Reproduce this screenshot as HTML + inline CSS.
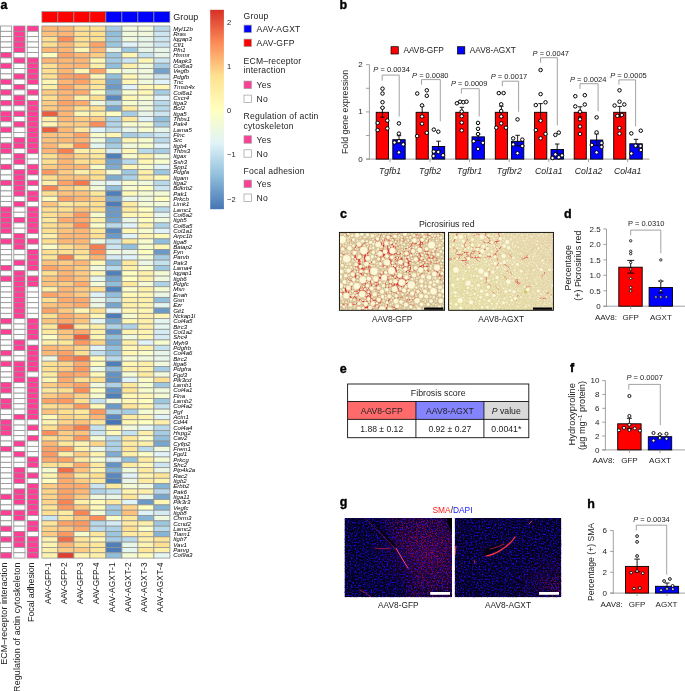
<!DOCTYPE html>
<html lang="en"><head><meta charset="utf-8"><title>Figure</title>
<style>html,body{margin:0;padding:0;background:#fff}svg{display:block}text{font-family:"Liberation Sans",Arial,Helvetica,sans-serif}</style></head>
<body>
<svg width="685" height="691" viewBox="0 0 685 691" font-family="Liberation Sans, Arial, Helvetica, sans-serif" fill="#222">
<text x="0.6" y="9.1" font-size="12.5" font-weight="bold" fill="#000" stroke="#000" stroke-width="0.35">a</text>
<rect x="41.9" y="11.6" width="16" height="10.7" fill="#FF0000" stroke="#929292" stroke-width="0.7"/>
<rect x="57.9" y="11.6" width="16" height="10.7" fill="#FF0000" stroke="#929292" stroke-width="0.7"/>
<rect x="73.9" y="11.6" width="16" height="10.7" fill="#FF0000" stroke="#929292" stroke-width="0.7"/>
<rect x="89.9" y="11.6" width="16" height="10.7" fill="#FF0000" stroke="#929292" stroke-width="0.7"/>
<rect x="105.9" y="11.6" width="16" height="10.7" fill="#0000FF" stroke="#929292" stroke-width="0.7"/>
<rect x="121.9" y="11.6" width="16" height="10.7" fill="#0000FF" stroke="#929292" stroke-width="0.7"/>
<rect x="137.9" y="11.6" width="16" height="10.7" fill="#0000FF" stroke="#929292" stroke-width="0.7"/>
<rect x="153.9" y="11.6" width="16" height="10.7" fill="#0000FF" stroke="#929292" stroke-width="0.7"/>
<text x="173.2" y="20.2" font-size="9" fill="#222">Group</text>
<g stroke="#929292" stroke-width="0.8">
<rect x="0.5" y="26" width="11.2" height="5.32" fill="#FFFFFF"/>
<rect x="13.8" y="26" width="11.2" height="5.32" fill="#FF3E96"/>
<rect x="27.2" y="26" width="11.2" height="5.32" fill="#FF3E96"/>
<rect x="41.9" y="26" width="16" height="5.32" fill="#fdb674"/>
<rect x="57.9" y="26" width="16" height="5.32" fill="#fdb674"/>
<rect x="73.9" y="26" width="16" height="5.32" fill="#fee090"/>
<rect x="89.9" y="26" width="16" height="5.32" fill="#fee090"/>
<rect x="105.9" y="26" width="16" height="5.32" fill="#a5cce2"/>
<rect x="121.9" y="26" width="16" height="5.32" fill="#f0f9dc"/>
<rect x="137.9" y="26" width="16" height="5.32" fill="#f0f9dc"/>
<rect x="153.9" y="26" width="16" height="5.32" fill="#b8d9ea"/>
<rect x="0.5" y="31.32" width="11.2" height="5.32" fill="#FFFFFF"/>
<rect x="13.8" y="31.32" width="11.2" height="5.32" fill="#FF3E96"/>
<rect x="27.2" y="31.32" width="11.2" height="5.32" fill="#FFFFFF"/>
<rect x="41.9" y="31.32" width="16" height="5.32" fill="#fdc37d"/>
<rect x="57.9" y="31.32" width="16" height="5.32" fill="#fdb674"/>
<rect x="73.9" y="31.32" width="16" height="5.32" fill="#fee090"/>
<rect x="89.9" y="31.32" width="16" height="5.32" fill="#fee090"/>
<rect x="105.9" y="31.32" width="16" height="5.32" fill="#91bfdb"/>
<rect x="121.9" y="31.32" width="16" height="5.32" fill="#f0f9dc"/>
<rect x="137.9" y="31.32" width="16" height="5.32" fill="#f0f9dc"/>
<rect x="153.9" y="31.32" width="16" height="5.32" fill="#cce6f1"/>
<rect x="0.5" y="36.64" width="11.2" height="5.32" fill="#FFFFFF"/>
<rect x="13.8" y="36.64" width="11.2" height="5.32" fill="#FF3E96"/>
<rect x="27.2" y="36.64" width="11.2" height="5.32" fill="#FFFFFF"/>
<rect x="41.9" y="36.64" width="16" height="5.32" fill="#fee090"/>
<rect x="57.9" y="36.64" width="16" height="5.32" fill="#fc8d59"/>
<rect x="73.9" y="36.64" width="16" height="5.32" fill="#fee090"/>
<rect x="89.9" y="36.64" width="16" height="5.32" fill="#fee090"/>
<rect x="105.9" y="36.64" width="16" height="5.32" fill="#9dc7df"/>
<rect x="121.9" y="36.64" width="16" height="5.32" fill="#f0f9dc"/>
<rect x="137.9" y="36.64" width="16" height="5.32" fill="#e8f6ea"/>
<rect x="153.9" y="36.64" width="16" height="5.32" fill="#cce6f1"/>
<rect x="0.5" y="41.96" width="11.2" height="5.32" fill="#FFFFFF"/>
<rect x="13.8" y="41.96" width="11.2" height="5.32" fill="#FF3E96"/>
<rect x="27.2" y="41.96" width="11.2" height="5.32" fill="#FFFFFF"/>
<rect x="41.9" y="41.96" width="16" height="5.32" fill="#fee090"/>
<rect x="57.9" y="41.96" width="16" height="5.32" fill="#fdb674"/>
<rect x="73.9" y="41.96" width="16" height="5.32" fill="#fee090"/>
<rect x="89.9" y="41.96" width="16" height="5.32" fill="#fca267"/>
<rect x="105.9" y="41.96" width="16" height="5.32" fill="#9dc7df"/>
<rect x="121.9" y="41.96" width="16" height="5.32" fill="#e0f3f8"/>
<rect x="137.9" y="41.96" width="16" height="5.32" fill="#e8f6ea"/>
<rect x="153.9" y="41.96" width="16" height="5.32" fill="#cce6f1"/>
<rect x="0.5" y="47.28" width="11.2" height="5.32" fill="#FFFFFF"/>
<rect x="13.8" y="47.28" width="11.2" height="5.32" fill="#FF3E96"/>
<rect x="27.2" y="47.28" width="11.2" height="5.32" fill="#FFFFFF"/>
<rect x="41.9" y="47.28" width="16" height="5.32" fill="#fdb674"/>
<rect x="57.9" y="47.28" width="16" height="5.32" fill="#fdb674"/>
<rect x="73.9" y="47.28" width="16" height="5.32" fill="#fff7b3"/>
<rect x="89.9" y="47.28" width="16" height="5.32" fill="#fdb674"/>
<rect x="105.9" y="47.28" width="16" height="5.32" fill="#e8f6ea"/>
<rect x="121.9" y="47.28" width="16" height="5.32" fill="#9dc7df"/>
<rect x="137.9" y="47.28" width="16" height="5.32" fill="#e8f6ea"/>
<rect x="153.9" y="47.28" width="16" height="5.32" fill="#e8f6ea"/>
<rect x="0.5" y="52.6" width="11.2" height="5.32" fill="#FF3E96"/>
<rect x="13.8" y="52.6" width="11.2" height="5.32" fill="#FFFFFF"/>
<rect x="27.2" y="52.6" width="11.2" height="5.32" fill="#FFFFFF"/>
<rect x="41.9" y="52.6" width="16" height="5.32" fill="#ffffbf"/>
<rect x="57.9" y="52.6" width="16" height="5.32" fill="#fca267"/>
<rect x="73.9" y="52.6" width="16" height="5.32" fill="#fdb674"/>
<rect x="89.9" y="52.6" width="16" height="5.32" fill="#fecb82"/>
<rect x="105.9" y="52.6" width="16" height="5.32" fill="#9dc7df"/>
<rect x="121.9" y="52.6" width="16" height="5.32" fill="#fff7b3"/>
<rect x="137.9" y="52.6" width="16" height="5.32" fill="#c4e1ee"/>
<rect x="153.9" y="52.6" width="16" height="5.32" fill="#e8f6ea"/>
<rect x="0.5" y="57.93" width="11.2" height="5.32" fill="#FFFFFF"/>
<rect x="13.8" y="57.93" width="11.2" height="5.32" fill="#FF3E96"/>
<rect x="27.2" y="57.93" width="11.2" height="5.32" fill="#FF3E96"/>
<rect x="41.9" y="57.93" width="16" height="5.32" fill="#fdb674"/>
<rect x="57.9" y="57.93" width="16" height="5.32" fill="#fdb674"/>
<rect x="73.9" y="57.93" width="16" height="5.32" fill="#fdb674"/>
<rect x="89.9" y="57.93" width="16" height="5.32" fill="#fff7b3"/>
<rect x="105.9" y="57.93" width="16" height="5.32" fill="#a5cce2"/>
<rect x="121.9" y="57.93" width="16" height="5.32" fill="#cce6f1"/>
<rect x="137.9" y="57.93" width="16" height="5.32" fill="#fff7b3"/>
<rect x="153.9" y="57.93" width="16" height="5.32" fill="#cce6f1"/>
<rect x="0.5" y="63.25" width="11.2" height="5.32" fill="#FF3E96"/>
<rect x="13.8" y="63.25" width="11.2" height="5.32" fill="#FFFFFF"/>
<rect x="27.2" y="63.25" width="11.2" height="5.32" fill="#FF3E96"/>
<rect x="41.9" y="63.25" width="16" height="5.32" fill="#fee090"/>
<rect x="57.9" y="63.25" width="16" height="5.32" fill="#fdb674"/>
<rect x="73.9" y="63.25" width="16" height="5.32" fill="#fdb674"/>
<rect x="89.9" y="63.25" width="16" height="5.32" fill="#fef0a8"/>
<rect x="105.9" y="63.25" width="16" height="5.32" fill="#91bfdb"/>
<rect x="121.9" y="63.25" width="16" height="5.32" fill="#fef0a8"/>
<rect x="137.9" y="63.25" width="16" height="5.32" fill="#f0f9dc"/>
<rect x="153.9" y="63.25" width="16" height="5.32" fill="#a5cce2"/>
<rect x="0.5" y="68.57" width="11.2" height="5.32" fill="#FFFFFF"/>
<rect x="13.8" y="68.57" width="11.2" height="5.32" fill="#FFFFFF"/>
<rect x="27.2" y="68.57" width="11.2" height="5.32" fill="#FF3E96"/>
<rect x="41.9" y="68.57" width="16" height="5.32" fill="#fee090"/>
<rect x="57.9" y="68.57" width="16" height="5.32" fill="#fdb674"/>
<rect x="73.9" y="68.57" width="16" height="5.32" fill="#fff7b3"/>
<rect x="89.9" y="68.57" width="16" height="5.32" fill="#fca267"/>
<rect x="105.9" y="68.57" width="16" height="5.32" fill="#f7fccd"/>
<rect x="121.9" y="68.57" width="16" height="5.32" fill="#f0f9dc"/>
<rect x="137.9" y="68.57" width="16" height="5.32" fill="#f0f9dc"/>
<rect x="153.9" y="68.57" width="16" height="5.32" fill="#73a1cb"/>
<rect x="0.5" y="73.89" width="11.2" height="5.32" fill="#FFFFFF"/>
<rect x="13.8" y="73.89" width="11.2" height="5.32" fill="#FF3E96"/>
<rect x="27.2" y="73.89" width="11.2" height="5.32" fill="#FF3E96"/>
<rect x="41.9" y="73.89" width="16" height="5.32" fill="#fee090"/>
<rect x="57.9" y="73.89" width="16" height="5.32" fill="#fca267"/>
<rect x="73.9" y="73.89" width="16" height="5.32" fill="#fc9961"/>
<rect x="89.9" y="73.89" width="16" height="5.32" fill="#fff7b3"/>
<rect x="105.9" y="73.89" width="16" height="5.32" fill="#91bfdb"/>
<rect x="121.9" y="73.89" width="16" height="5.32" fill="#fff7b3"/>
<rect x="137.9" y="73.89" width="16" height="5.32" fill="#f0f9dc"/>
<rect x="153.9" y="73.89" width="16" height="5.32" fill="#cce6f1"/>
<rect x="0.5" y="79.21" width="11.2" height="5.32" fill="#FF3E96"/>
<rect x="13.8" y="79.21" width="11.2" height="5.32" fill="#FFFFFF"/>
<rect x="27.2" y="79.21" width="11.2" height="5.32" fill="#FF3E96"/>
<rect x="41.9" y="79.21" width="16" height="5.32" fill="#fff7b3"/>
<rect x="57.9" y="79.21" width="16" height="5.32" fill="#fdb674"/>
<rect x="73.9" y="79.21" width="16" height="5.32" fill="#fca267"/>
<rect x="89.9" y="79.21" width="16" height="5.32" fill="#fee090"/>
<rect x="105.9" y="79.21" width="16" height="5.32" fill="#76a5cd"/>
<rect x="121.9" y="79.21" width="16" height="5.32" fill="#fff7b3"/>
<rect x="137.9" y="79.21" width="16" height="5.32" fill="#f0f9dc"/>
<rect x="153.9" y="79.21" width="16" height="5.32" fill="#e0f3f8"/>
<rect x="0.5" y="84.53" width="11.2" height="5.32" fill="#FFFFFF"/>
<rect x="13.8" y="84.53" width="11.2" height="5.32" fill="#FF3E96"/>
<rect x="27.2" y="84.53" width="11.2" height="5.32" fill="#FFFFFF"/>
<rect x="41.9" y="84.53" width="16" height="5.32" fill="#fef0a8"/>
<rect x="57.9" y="84.53" width="16" height="5.32" fill="#fca267"/>
<rect x="73.9" y="84.53" width="16" height="5.32" fill="#fecb82"/>
<rect x="89.9" y="84.53" width="16" height="5.32" fill="#fee89c"/>
<rect x="105.9" y="84.53" width="16" height="5.32" fill="#6b9ac8"/>
<rect x="121.9" y="84.53" width="16" height="5.32" fill="#e0f3f8"/>
<rect x="137.9" y="84.53" width="16" height="5.32" fill="#fff7b3"/>
<rect x="153.9" y="84.53" width="16" height="5.32" fill="#fff7b3"/>
<rect x="0.5" y="89.85" width="11.2" height="5.32" fill="#FF3E96"/>
<rect x="13.8" y="89.85" width="11.2" height="5.32" fill="#FFFFFF"/>
<rect x="27.2" y="89.85" width="11.2" height="5.32" fill="#FF3E96"/>
<rect x="41.9" y="89.85" width="16" height="5.32" fill="#fecb82"/>
<rect x="57.9" y="89.85" width="16" height="5.32" fill="#fdb674"/>
<rect x="73.9" y="89.85" width="16" height="5.32" fill="#fdaa6c"/>
<rect x="89.9" y="89.85" width="16" height="5.32" fill="#ffffbf"/>
<rect x="105.9" y="89.85" width="16" height="5.32" fill="#91bfdb"/>
<rect x="121.9" y="89.85" width="16" height="5.32" fill="#f7fccd"/>
<rect x="137.9" y="89.85" width="16" height="5.32" fill="#fff7b3"/>
<rect x="153.9" y="89.85" width="16" height="5.32" fill="#a5cce2"/>
<rect x="0.5" y="95.17" width="11.2" height="5.32" fill="#FFFFFF"/>
<rect x="13.8" y="95.17" width="11.2" height="5.32" fill="#FF3E96"/>
<rect x="27.2" y="95.17" width="11.2" height="5.32" fill="#FFFFFF"/>
<rect x="41.9" y="95.17" width="16" height="5.32" fill="#fee090"/>
<rect x="57.9" y="95.17" width="16" height="5.32" fill="#fdb674"/>
<rect x="73.9" y="95.17" width="16" height="5.32" fill="#fef0a8"/>
<rect x="89.9" y="95.17" width="16" height="5.32" fill="#fee090"/>
<rect x="105.9" y="95.17" width="16" height="5.32" fill="#5888be"/>
<rect x="121.9" y="95.17" width="16" height="5.32" fill="#fff7b3"/>
<rect x="137.9" y="95.17" width="16" height="5.32" fill="#f7fccd"/>
<rect x="153.9" y="95.17" width="16" height="5.32" fill="#e0f3f8"/>
<rect x="0.5" y="100.49" width="11.2" height="5.32" fill="#FF3E96"/>
<rect x="13.8" y="100.49" width="11.2" height="5.32" fill="#FF3E96"/>
<rect x="27.2" y="100.49" width="11.2" height="5.32" fill="#FF3E96"/>
<rect x="41.9" y="100.49" width="16" height="5.32" fill="#fecb82"/>
<rect x="57.9" y="100.49" width="16" height="5.32" fill="#fca267"/>
<rect x="73.9" y="100.49" width="16" height="5.32" fill="#fdaa6c"/>
<rect x="89.9" y="100.49" width="16" height="5.32" fill="#f0f9dc"/>
<rect x="105.9" y="100.49" width="16" height="5.32" fill="#b1d4e7"/>
<rect x="121.9" y="100.49" width="16" height="5.32" fill="#f7fccd"/>
<rect x="137.9" y="100.49" width="16" height="5.32" fill="#f0f9dc"/>
<rect x="153.9" y="100.49" width="16" height="5.32" fill="#b8d9ea"/>
<rect x="0.5" y="105.81" width="11.2" height="5.32" fill="#FFFFFF"/>
<rect x="13.8" y="105.81" width="11.2" height="5.32" fill="#FFFFFF"/>
<rect x="27.2" y="105.81" width="11.2" height="5.32" fill="#FF3E96"/>
<rect x="41.9" y="105.81" width="16" height="5.32" fill="#fecb82"/>
<rect x="57.9" y="105.81" width="16" height="5.32" fill="#fdb674"/>
<rect x="73.9" y="105.81" width="16" height="5.32" fill="#fee090"/>
<rect x="89.9" y="105.81" width="16" height="5.32" fill="#fee090"/>
<rect x="105.9" y="105.81" width="16" height="5.32" fill="#76a5cd"/>
<rect x="121.9" y="105.81" width="16" height="5.32" fill="#feeba0"/>
<rect x="137.9" y="105.81" width="16" height="5.32" fill="#f0f9dc"/>
<rect x="153.9" y="105.81" width="16" height="5.32" fill="#b8d9ea"/>
<rect x="0.5" y="111.14" width="11.2" height="5.32" fill="#FF3E96"/>
<rect x="13.8" y="111.14" width="11.2" height="5.32" fill="#FF3E96"/>
<rect x="27.2" y="111.14" width="11.2" height="5.32" fill="#FF3E96"/>
<rect x="41.9" y="111.14" width="16" height="5.32" fill="#ea5e40"/>
<rect x="57.9" y="111.14" width="16" height="5.32" fill="#fdb674"/>
<rect x="73.9" y="111.14" width="16" height="5.32" fill="#fff7b3"/>
<rect x="89.9" y="111.14" width="16" height="5.32" fill="#fef0a8"/>
<rect x="105.9" y="111.14" width="16" height="5.32" fill="#ffffbf"/>
<rect x="121.9" y="111.14" width="16" height="5.32" fill="#a5cce2"/>
<rect x="137.9" y="111.14" width="16" height="5.32" fill="#e8f6ea"/>
<rect x="153.9" y="111.14" width="16" height="5.32" fill="#cce6f1"/>
<rect x="0.5" y="116.46" width="11.2" height="5.32" fill="#FF3E96"/>
<rect x="13.8" y="116.46" width="11.2" height="5.32" fill="#FFFFFF"/>
<rect x="27.2" y="116.46" width="11.2" height="5.32" fill="#FF3E96"/>
<rect x="41.9" y="116.46" width="16" height="5.32" fill="#fef0a8"/>
<rect x="57.9" y="116.46" width="16" height="5.32" fill="#fdb674"/>
<rect x="73.9" y="116.46" width="16" height="5.32" fill="#fecb82"/>
<rect x="89.9" y="116.46" width="16" height="5.32" fill="#fecb82"/>
<rect x="105.9" y="116.46" width="16" height="5.32" fill="#add1e5"/>
<rect x="121.9" y="116.46" width="16" height="5.32" fill="#fee89c"/>
<rect x="137.9" y="116.46" width="16" height="5.32" fill="#e0f3f8"/>
<rect x="153.9" y="116.46" width="16" height="5.32" fill="#91bfdb"/>
<rect x="0.5" y="121.78" width="11.2" height="5.32" fill="#FFFFFF"/>
<rect x="13.8" y="121.78" width="11.2" height="5.32" fill="#FF3E96"/>
<rect x="27.2" y="121.78" width="11.2" height="5.32" fill="#FF3E96"/>
<rect x="41.9" y="121.78" width="16" height="5.32" fill="#fff7b3"/>
<rect x="57.9" y="121.78" width="16" height="5.32" fill="#fecb82"/>
<rect x="73.9" y="121.78" width="16" height="5.32" fill="#fecb82"/>
<rect x="89.9" y="121.78" width="16" height="5.32" fill="#fc8d59"/>
<rect x="105.9" y="121.78" width="16" height="5.32" fill="#b1d4e7"/>
<rect x="121.9" y="121.78" width="16" height="5.32" fill="#f7fccd"/>
<rect x="137.9" y="121.78" width="16" height="5.32" fill="#f7fccd"/>
<rect x="153.9" y="121.78" width="16" height="5.32" fill="#a5cce2"/>
<rect x="0.5" y="127.1" width="11.2" height="5.32" fill="#FF3E96"/>
<rect x="13.8" y="127.1" width="11.2" height="5.32" fill="#FFFFFF"/>
<rect x="27.2" y="127.1" width="11.2" height="5.32" fill="#FF3E96"/>
<rect x="41.9" y="127.1" width="16" height="5.32" fill="#ea5e40"/>
<rect x="57.9" y="127.1" width="16" height="5.32" fill="#fdb674"/>
<rect x="73.9" y="127.1" width="16" height="5.32" fill="#fee89c"/>
<rect x="89.9" y="127.1" width="16" height="5.32" fill="#e0f3f8"/>
<rect x="105.9" y="127.1" width="16" height="5.32" fill="#c0deec"/>
<rect x="121.9" y="127.1" width="16" height="5.32" fill="#e8f6ea"/>
<rect x="137.9" y="127.1" width="16" height="5.32" fill="#f7fccd"/>
<rect x="153.9" y="127.1" width="16" height="5.32" fill="#e8f6ea"/>
<rect x="0.5" y="132.42" width="11.2" height="5.32" fill="#FFFFFF"/>
<rect x="13.8" y="132.42" width="11.2" height="5.32" fill="#FFFFFF"/>
<rect x="27.2" y="132.42" width="11.2" height="5.32" fill="#FF3E96"/>
<rect x="41.9" y="132.42" width="16" height="5.32" fill="#fdc37d"/>
<rect x="57.9" y="132.42" width="16" height="5.32" fill="#fdc37d"/>
<rect x="73.9" y="132.42" width="16" height="5.32" fill="#fca267"/>
<rect x="89.9" y="132.42" width="16" height="5.32" fill="#f7fccd"/>
<rect x="105.9" y="132.42" width="16" height="5.32" fill="#fff7b3"/>
<rect x="121.9" y="132.42" width="16" height="5.32" fill="#a5cce2"/>
<rect x="137.9" y="132.42" width="16" height="5.32" fill="#b8d9ea"/>
<rect x="153.9" y="132.42" width="16" height="5.32" fill="#cce6f1"/>
<rect x="0.5" y="137.74" width="11.2" height="5.32" fill="#FFFFFF"/>
<rect x="13.8" y="137.74" width="11.2" height="5.32" fill="#FF3E96"/>
<rect x="27.2" y="137.74" width="11.2" height="5.32" fill="#FF3E96"/>
<rect x="41.9" y="137.74" width="16" height="5.32" fill="#fdc37d"/>
<rect x="57.9" y="137.74" width="16" height="5.32" fill="#fdb674"/>
<rect x="73.9" y="137.74" width="16" height="5.32" fill="#fdb674"/>
<rect x="89.9" y="137.74" width="16" height="5.32" fill="#f0f9dc"/>
<rect x="105.9" y="137.74" width="16" height="5.32" fill="#91bfdb"/>
<rect x="121.9" y="137.74" width="16" height="5.32" fill="#fff7b3"/>
<rect x="137.9" y="137.74" width="16" height="5.32" fill="#f7fccd"/>
<rect x="153.9" y="137.74" width="16" height="5.32" fill="#b8d9ea"/>
<rect x="0.5" y="143.06" width="11.2" height="5.32" fill="#FF3E96"/>
<rect x="13.8" y="143.06" width="11.2" height="5.32" fill="#FF3E96"/>
<rect x="27.2" y="143.06" width="11.2" height="5.32" fill="#FF3E96"/>
<rect x="41.9" y="143.06" width="16" height="5.32" fill="#fdb674"/>
<rect x="57.9" y="143.06" width="16" height="5.32" fill="#fee090"/>
<rect x="73.9" y="143.06" width="16" height="5.32" fill="#fc8d59"/>
<rect x="89.9" y="143.06" width="16" height="5.32" fill="#e5f5ef"/>
<rect x="105.9" y="143.06" width="16" height="5.32" fill="#a5cce2"/>
<rect x="121.9" y="143.06" width="16" height="5.32" fill="#f0f9dc"/>
<rect x="137.9" y="143.06" width="16" height="5.32" fill="#f7fccd"/>
<rect x="153.9" y="143.06" width="16" height="5.32" fill="#e0f3f8"/>
<rect x="0.5" y="148.38" width="11.2" height="5.32" fill="#FF3E96"/>
<rect x="13.8" y="148.38" width="11.2" height="5.32" fill="#FFFFFF"/>
<rect x="27.2" y="148.38" width="11.2" height="5.32" fill="#FF3E96"/>
<rect x="41.9" y="148.38" width="16" height="5.32" fill="#fdb674"/>
<rect x="57.9" y="148.38" width="16" height="5.32" fill="#f67f51"/>
<rect x="73.9" y="148.38" width="16" height="5.32" fill="#fef0a8"/>
<rect x="89.9" y="148.38" width="16" height="5.32" fill="#fef0a8"/>
<rect x="105.9" y="148.38" width="16" height="5.32" fill="#d4ebf4"/>
<rect x="121.9" y="148.38" width="16" height="5.32" fill="#fff7b3"/>
<rect x="137.9" y="148.38" width="16" height="5.32" fill="#b8d9ea"/>
<rect x="153.9" y="148.38" width="16" height="5.32" fill="#a5cce2"/>
<rect x="0.5" y="153.7" width="11.2" height="5.32" fill="#FFFFFF"/>
<rect x="13.8" y="153.7" width="11.2" height="5.32" fill="#FF3E96"/>
<rect x="27.2" y="153.7" width="11.2" height="5.32" fill="#FFFFFF"/>
<rect x="41.9" y="153.7" width="16" height="5.32" fill="#fee090"/>
<rect x="57.9" y="153.7" width="16" height="5.32" fill="#fdb674"/>
<rect x="73.9" y="153.7" width="16" height="5.32" fill="#fed488"/>
<rect x="89.9" y="153.7" width="16" height="5.32" fill="#fee89c"/>
<rect x="105.9" y="153.7" width="16" height="5.32" fill="#5080ba"/>
<rect x="121.9" y="153.7" width="16" height="5.32" fill="#f7fccd"/>
<rect x="137.9" y="153.7" width="16" height="5.32" fill="#fef0a8"/>
<rect x="153.9" y="153.7" width="16" height="5.32" fill="#f0f9dc"/>
<rect x="0.5" y="159.03" width="11.2" height="5.32" fill="#FFFFFF"/>
<rect x="13.8" y="159.03" width="11.2" height="5.32" fill="#FF3E96"/>
<rect x="27.2" y="159.03" width="11.2" height="5.32" fill="#FFFFFF"/>
<rect x="41.9" y="159.03" width="16" height="5.32" fill="#fee090"/>
<rect x="57.9" y="159.03" width="16" height="5.32" fill="#fdb674"/>
<rect x="73.9" y="159.03" width="16" height="5.32" fill="#fee090"/>
<rect x="89.9" y="159.03" width="16" height="5.32" fill="#fee090"/>
<rect x="105.9" y="159.03" width="16" height="5.32" fill="#76a5cd"/>
<rect x="121.9" y="159.03" width="16" height="5.32" fill="#b8d9ea"/>
<rect x="137.9" y="159.03" width="16" height="5.32" fill="#fff7b3"/>
<rect x="153.9" y="159.03" width="16" height="5.32" fill="#f7fccd"/>
<rect x="0.5" y="164.35" width="11.2" height="5.32" fill="#FF3E96"/>
<rect x="13.8" y="164.35" width="11.2" height="5.32" fill="#FFFFFF"/>
<rect x="27.2" y="164.35" width="11.2" height="5.32" fill="#FF3E96"/>
<rect x="41.9" y="164.35" width="16" height="5.32" fill="#fecb82"/>
<rect x="57.9" y="164.35" width="16" height="5.32" fill="#fdb674"/>
<rect x="73.9" y="164.35" width="16" height="5.32" fill="#fdb674"/>
<rect x="89.9" y="164.35" width="16" height="5.32" fill="#fafdc8"/>
<rect x="105.9" y="164.35" width="16" height="5.32" fill="#7eacd1"/>
<rect x="121.9" y="164.35" width="16" height="5.32" fill="#fff7b3"/>
<rect x="137.9" y="164.35" width="16" height="5.32" fill="#f7fccd"/>
<rect x="153.9" y="164.35" width="16" height="5.32" fill="#e0f3f8"/>
<rect x="0.5" y="169.67" width="11.2" height="5.32" fill="#FFFFFF"/>
<rect x="13.8" y="169.67" width="11.2" height="5.32" fill="#FF3E96"/>
<rect x="27.2" y="169.67" width="11.2" height="5.32" fill="#FF3E96"/>
<rect x="41.9" y="169.67" width="16" height="5.32" fill="#fc9961"/>
<rect x="57.9" y="169.67" width="16" height="5.32" fill="#fecb82"/>
<rect x="73.9" y="169.67" width="16" height="5.32" fill="#fef0a8"/>
<rect x="89.9" y="169.67" width="16" height="5.32" fill="#fee090"/>
<rect x="105.9" y="169.67" width="16" height="5.32" fill="#f4fbd3"/>
<rect x="121.9" y="169.67" width="16" height="5.32" fill="#9dc7df"/>
<rect x="137.9" y="169.67" width="16" height="5.32" fill="#fef0a8"/>
<rect x="153.9" y="169.67" width="16" height="5.32" fill="#9dc7df"/>
<rect x="0.5" y="174.99" width="11.2" height="5.32" fill="#FFFFFF"/>
<rect x="13.8" y="174.99" width="11.2" height="5.32" fill="#FF3E96"/>
<rect x="27.2" y="174.99" width="11.2" height="5.32" fill="#FFFFFF"/>
<rect x="41.9" y="174.99" width="16" height="5.32" fill="#fee090"/>
<rect x="57.9" y="174.99" width="16" height="5.32" fill="#fdc37d"/>
<rect x="73.9" y="174.99" width="16" height="5.32" fill="#fdc37d"/>
<rect x="89.9" y="174.99" width="16" height="5.32" fill="#fee090"/>
<rect x="105.9" y="174.99" width="16" height="5.32" fill="#7eacd1"/>
<rect x="121.9" y="174.99" width="16" height="5.32" fill="#add1e5"/>
<rect x="137.9" y="174.99" width="16" height="5.32" fill="#fef0a8"/>
<rect x="153.9" y="174.99" width="16" height="5.32" fill="#fffab8"/>
<rect x="0.5" y="180.31" width="11.2" height="5.32" fill="#FF3E96"/>
<rect x="13.8" y="180.31" width="11.2" height="5.32" fill="#FF3E96"/>
<rect x="27.2" y="180.31" width="11.2" height="5.32" fill="#FF3E96"/>
<rect x="41.9" y="180.31" width="16" height="5.32" fill="#fef0a8"/>
<rect x="57.9" y="180.31" width="16" height="5.32" fill="#fca267"/>
<rect x="73.9" y="180.31" width="16" height="5.32" fill="#f3764c"/>
<rect x="89.9" y="180.31" width="16" height="5.32" fill="#ebf7e4"/>
<rect x="105.9" y="180.31" width="16" height="5.32" fill="#e0f3f8"/>
<rect x="121.9" y="180.31" width="16" height="5.32" fill="#f7fccd"/>
<rect x="137.9" y="180.31" width="16" height="5.32" fill="#f0f9dc"/>
<rect x="153.9" y="180.31" width="16" height="5.32" fill="#b8d9ea"/>
<rect x="0.5" y="185.63" width="11.2" height="5.32" fill="#FFFFFF"/>
<rect x="13.8" y="185.63" width="11.2" height="5.32" fill="#FF3E96"/>
<rect x="27.2" y="185.63" width="11.2" height="5.32" fill="#FFFFFF"/>
<rect x="41.9" y="185.63" width="16" height="5.32" fill="#f88454"/>
<rect x="57.9" y="185.63" width="16" height="5.32" fill="#fecb82"/>
<rect x="73.9" y="185.63" width="16" height="5.32" fill="#fee090"/>
<rect x="89.9" y="185.63" width="16" height="5.32" fill="#f3fad6"/>
<rect x="105.9" y="185.63" width="16" height="5.32" fill="#91bfdb"/>
<rect x="121.9" y="185.63" width="16" height="5.32" fill="#f7fccd"/>
<rect x="137.9" y="185.63" width="16" height="5.32" fill="#ffffbf"/>
<rect x="153.9" y="185.63" width="16" height="5.32" fill="#cce6f1"/>
<rect x="0.5" y="190.95" width="11.2" height="5.32" fill="#FFFFFF"/>
<rect x="13.8" y="190.95" width="11.2" height="5.32" fill="#FF3E96"/>
<rect x="27.2" y="190.95" width="11.2" height="5.32" fill="#FF3E96"/>
<rect x="41.9" y="190.95" width="16" height="5.32" fill="#fee090"/>
<rect x="57.9" y="190.95" width="16" height="5.32" fill="#fdc37d"/>
<rect x="73.9" y="190.95" width="16" height="5.32" fill="#fdc37d"/>
<rect x="89.9" y="190.95" width="16" height="5.32" fill="#fee89c"/>
<rect x="105.9" y="190.95" width="16" height="5.32" fill="#5080ba"/>
<rect x="121.9" y="190.95" width="16" height="5.32" fill="#fffab8"/>
<rect x="137.9" y="190.95" width="16" height="5.32" fill="#f4fbd3"/>
<rect x="153.9" y="190.95" width="16" height="5.32" fill="#f4fbd3"/>
<rect x="0.5" y="196.27" width="11.2" height="5.32" fill="#FFFFFF"/>
<rect x="13.8" y="196.27" width="11.2" height="5.32" fill="#FFFFFF"/>
<rect x="27.2" y="196.27" width="11.2" height="5.32" fill="#FF3E96"/>
<rect x="41.9" y="196.27" width="16" height="5.32" fill="#fffab8"/>
<rect x="57.9" y="196.27" width="16" height="5.32" fill="#fca267"/>
<rect x="73.9" y="196.27" width="16" height="5.32" fill="#fdb674"/>
<rect x="89.9" y="196.27" width="16" height="5.32" fill="#fed488"/>
<rect x="105.9" y="196.27" width="16" height="5.32" fill="#76a5cd"/>
<rect x="121.9" y="196.27" width="16" height="5.32" fill="#e8f6ea"/>
<rect x="137.9" y="196.27" width="16" height="5.32" fill="#f0f9dc"/>
<rect x="153.9" y="196.27" width="16" height="5.32" fill="#ffffbf"/>
<rect x="0.5" y="201.59" width="11.2" height="5.32" fill="#FFFFFF"/>
<rect x="13.8" y="201.59" width="11.2" height="5.32" fill="#FF3E96"/>
<rect x="27.2" y="201.59" width="11.2" height="5.32" fill="#FFFFFF"/>
<rect x="41.9" y="201.59" width="16" height="5.32" fill="#fdc37d"/>
<rect x="57.9" y="201.59" width="16" height="5.32" fill="#fee89c"/>
<rect x="73.9" y="201.59" width="16" height="5.32" fill="#fee090"/>
<rect x="89.9" y="201.59" width="16" height="5.32" fill="#fee090"/>
<rect x="105.9" y="201.59" width="16" height="5.32" fill="#4d7cb8"/>
<rect x="121.9" y="201.59" width="16" height="5.32" fill="#feeba0"/>
<rect x="137.9" y="201.59" width="16" height="5.32" fill="#f4fbd3"/>
<rect x="153.9" y="201.59" width="16" height="5.32" fill="#f0f9dc"/>
<rect x="0.5" y="206.91" width="11.2" height="5.32" fill="#FF3E96"/>
<rect x="13.8" y="206.91" width="11.2" height="5.32" fill="#FFFFFF"/>
<rect x="27.2" y="206.91" width="11.2" height="5.32" fill="#FF3E96"/>
<rect x="41.9" y="206.91" width="16" height="5.32" fill="#fee090"/>
<rect x="57.9" y="206.91" width="16" height="5.32" fill="#fee090"/>
<rect x="73.9" y="206.91" width="16" height="5.32" fill="#fdc37d"/>
<rect x="89.9" y="206.91" width="16" height="5.32" fill="#fee090"/>
<rect x="105.9" y="206.91" width="16" height="5.32" fill="#6b9ac8"/>
<rect x="121.9" y="206.91" width="16" height="5.32" fill="#feeba0"/>
<rect x="137.9" y="206.91" width="16" height="5.32" fill="#ffffbf"/>
<rect x="153.9" y="206.91" width="16" height="5.32" fill="#b8d9ea"/>
<rect x="0.5" y="212.23" width="11.2" height="5.32" fill="#FF3E96"/>
<rect x="13.8" y="212.23" width="11.2" height="5.32" fill="#FFFFFF"/>
<rect x="27.2" y="212.23" width="11.2" height="5.32" fill="#FF3E96"/>
<rect x="41.9" y="212.23" width="16" height="5.32" fill="#fee090"/>
<rect x="57.9" y="212.23" width="16" height="5.32" fill="#fecb82"/>
<rect x="73.9" y="212.23" width="16" height="5.32" fill="#fc9961"/>
<rect x="89.9" y="212.23" width="16" height="5.32" fill="#f7fccd"/>
<rect x="105.9" y="212.23" width="16" height="5.32" fill="#6b9ac8"/>
<rect x="121.9" y="212.23" width="16" height="5.32" fill="#fff7b3"/>
<rect x="137.9" y="212.23" width="16" height="5.32" fill="#fff7b3"/>
<rect x="153.9" y="212.23" width="16" height="5.32" fill="#e5f5ef"/>
<rect x="0.5" y="217.56" width="11.2" height="5.32" fill="#FF3E96"/>
<rect x="13.8" y="217.56" width="11.2" height="5.32" fill="#FF3E96"/>
<rect x="27.2" y="217.56" width="11.2" height="5.32" fill="#FF3E96"/>
<rect x="41.9" y="217.56" width="16" height="5.32" fill="#fee89c"/>
<rect x="57.9" y="217.56" width="16" height="5.32" fill="#fdaa6c"/>
<rect x="73.9" y="217.56" width="16" height="5.32" fill="#fdaa6c"/>
<rect x="89.9" y="217.56" width="16" height="5.32" fill="#fef0a8"/>
<rect x="105.9" y="217.56" width="16" height="5.32" fill="#76a5cd"/>
<rect x="121.9" y="217.56" width="16" height="5.32" fill="#ebf7e4"/>
<rect x="137.9" y="217.56" width="16" height="5.32" fill="#ffffbf"/>
<rect x="153.9" y="217.56" width="16" height="5.32" fill="#f0f9dc"/>
<rect x="0.5" y="222.88" width="11.2" height="5.32" fill="#FF3E96"/>
<rect x="13.8" y="222.88" width="11.2" height="5.32" fill="#FFFFFF"/>
<rect x="27.2" y="222.88" width="11.2" height="5.32" fill="#FF3E96"/>
<rect x="41.9" y="222.88" width="16" height="5.32" fill="#fee090"/>
<rect x="57.9" y="222.88" width="16" height="5.32" fill="#fecb82"/>
<rect x="73.9" y="222.88" width="16" height="5.32" fill="#fc8d59"/>
<rect x="89.9" y="222.88" width="16" height="5.32" fill="#fafdc8"/>
<rect x="105.9" y="222.88" width="16" height="5.32" fill="#b8d9ea"/>
<rect x="121.9" y="222.88" width="16" height="5.32" fill="#e0f3f8"/>
<rect x="137.9" y="222.88" width="16" height="5.32" fill="#fff4af"/>
<rect x="153.9" y="222.88" width="16" height="5.32" fill="#add1e5"/>
<rect x="0.5" y="228.2" width="11.2" height="5.32" fill="#FF3E96"/>
<rect x="13.8" y="228.2" width="11.2" height="5.32" fill="#FFFFFF"/>
<rect x="27.2" y="228.2" width="11.2" height="5.32" fill="#FF3E96"/>
<rect x="41.9" y="228.2" width="16" height="5.32" fill="#fee090"/>
<rect x="57.9" y="228.2" width="16" height="5.32" fill="#fdc37d"/>
<rect x="73.9" y="228.2" width="16" height="5.32" fill="#fdb674"/>
<rect x="89.9" y="228.2" width="16" height="5.32" fill="#fee89c"/>
<rect x="105.9" y="228.2" width="16" height="5.32" fill="#5888be"/>
<rect x="121.9" y="228.2" width="16" height="5.32" fill="#fff7b3"/>
<rect x="137.9" y="228.2" width="16" height="5.32" fill="#f7fccd"/>
<rect x="153.9" y="228.2" width="16" height="5.32" fill="#e0f3f8"/>
<rect x="0.5" y="233.52" width="11.2" height="5.32" fill="#FFFFFF"/>
<rect x="13.8" y="233.52" width="11.2" height="5.32" fill="#FF3E96"/>
<rect x="27.2" y="233.52" width="11.2" height="5.32" fill="#FFFFFF"/>
<rect x="41.9" y="233.52" width="16" height="5.32" fill="#fef0a8"/>
<rect x="57.9" y="233.52" width="16" height="5.32" fill="#fdb674"/>
<rect x="73.9" y="233.52" width="16" height="5.32" fill="#fdb674"/>
<rect x="89.9" y="233.52" width="16" height="5.32" fill="#fee090"/>
<rect x="105.9" y="233.52" width="16" height="5.32" fill="#6b9ac8"/>
<rect x="121.9" y="233.52" width="16" height="5.32" fill="#e0f3f8"/>
<rect x="137.9" y="233.52" width="16" height="5.32" fill="#fff4af"/>
<rect x="153.9" y="233.52" width="16" height="5.32" fill="#fffab8"/>
<rect x="0.5" y="238.84" width="11.2" height="5.32" fill="#FF3E96"/>
<rect x="13.8" y="238.84" width="11.2" height="5.32" fill="#FF3E96"/>
<rect x="27.2" y="238.84" width="11.2" height="5.32" fill="#FF3E96"/>
<rect x="41.9" y="238.84" width="16" height="5.32" fill="#fee090"/>
<rect x="57.9" y="238.84" width="16" height="5.32" fill="#fdb674"/>
<rect x="73.9" y="238.84" width="16" height="5.32" fill="#fdb674"/>
<rect x="89.9" y="238.84" width="16" height="5.32" fill="#f0f9dc"/>
<rect x="105.9" y="238.84" width="16" height="5.32" fill="#c4e1ee"/>
<rect x="121.9" y="238.84" width="16" height="5.32" fill="#fee89c"/>
<rect x="137.9" y="238.84" width="16" height="5.32" fill="#f7fccd"/>
<rect x="153.9" y="238.84" width="16" height="5.32" fill="#91bfdb"/>
<rect x="0.5" y="244.16" width="11.2" height="5.32" fill="#FFFFFF"/>
<rect x="13.8" y="244.16" width="11.2" height="5.32" fill="#FF3E96"/>
<rect x="27.2" y="244.16" width="11.2" height="5.32" fill="#FFFFFF"/>
<rect x="41.9" y="244.16" width="16" height="5.32" fill="#fafdc8"/>
<rect x="57.9" y="244.16" width="16" height="5.32" fill="#fee090"/>
<rect x="73.9" y="244.16" width="16" height="5.32" fill="#fecb82"/>
<rect x="89.9" y="244.16" width="16" height="5.32" fill="#f67f51"/>
<rect x="105.9" y="244.16" width="16" height="5.32" fill="#cce6f1"/>
<rect x="121.9" y="244.16" width="16" height="5.32" fill="#91bfdb"/>
<rect x="137.9" y="244.16" width="16" height="5.32" fill="#f7fccd"/>
<rect x="153.9" y="244.16" width="16" height="5.32" fill="#fff7b3"/>
<rect x="0.5" y="249.48" width="11.2" height="5.32" fill="#FFFFFF"/>
<rect x="13.8" y="249.48" width="11.2" height="5.32" fill="#FFFFFF"/>
<rect x="27.2" y="249.48" width="11.2" height="5.32" fill="#FF3E96"/>
<rect x="41.9" y="249.48" width="16" height="5.32" fill="#fee090"/>
<rect x="57.9" y="249.48" width="16" height="5.32" fill="#fee090"/>
<rect x="73.9" y="249.48" width="16" height="5.32" fill="#fee090"/>
<rect x="89.9" y="249.48" width="16" height="5.32" fill="#fc8d59"/>
<rect x="105.9" y="249.48" width="16" height="5.32" fill="#f0f9dc"/>
<rect x="121.9" y="249.48" width="16" height="5.32" fill="#ebf7e4"/>
<rect x="137.9" y="249.48" width="16" height="5.32" fill="#ffffbf"/>
<rect x="153.9" y="249.48" width="16" height="5.32" fill="#6b9ac8"/>
<rect x="0.5" y="254.8" width="11.2" height="5.32" fill="#FFFFFF"/>
<rect x="13.8" y="254.8" width="11.2" height="5.32" fill="#FFFFFF"/>
<rect x="27.2" y="254.8" width="11.2" height="5.32" fill="#FF3E96"/>
<rect x="41.9" y="254.8" width="16" height="5.32" fill="#fee597"/>
<rect x="57.9" y="254.8" width="16" height="5.32" fill="#f67f51"/>
<rect x="73.9" y="254.8" width="16" height="5.32" fill="#feeba0"/>
<rect x="89.9" y="254.8" width="16" height="5.32" fill="#fdb674"/>
<rect x="105.9" y="254.8" width="16" height="5.32" fill="#d4ebf4"/>
<rect x="121.9" y="254.8" width="16" height="5.32" fill="#e0f3f8"/>
<rect x="137.9" y="254.8" width="16" height="5.32" fill="#f4fbd3"/>
<rect x="153.9" y="254.8" width="16" height="5.32" fill="#a5cce2"/>
<rect x="0.5" y="260.12" width="11.2" height="5.32" fill="#FFFFFF"/>
<rect x="13.8" y="260.12" width="11.2" height="5.32" fill="#FF3E96"/>
<rect x="27.2" y="260.12" width="11.2" height="5.32" fill="#FF3E96"/>
<rect x="41.9" y="260.12" width="16" height="5.32" fill="#fdc37d"/>
<rect x="57.9" y="260.12" width="16" height="5.32" fill="#fecb82"/>
<rect x="73.9" y="260.12" width="16" height="5.32" fill="#fdb674"/>
<rect x="89.9" y="260.12" width="16" height="5.32" fill="#fff7b3"/>
<rect x="105.9" y="260.12" width="16" height="5.32" fill="#86b4d5"/>
<rect x="121.9" y="260.12" width="16" height="5.32" fill="#fee89c"/>
<rect x="137.9" y="260.12" width="16" height="5.32" fill="#ebf7e4"/>
<rect x="153.9" y="260.12" width="16" height="5.32" fill="#c4e1ee"/>
<rect x="0.5" y="265.44" width="11.2" height="5.32" fill="#FF3E96"/>
<rect x="13.8" y="265.44" width="11.2" height="5.32" fill="#FFFFFF"/>
<rect x="27.2" y="265.44" width="11.2" height="5.32" fill="#FF3E96"/>
<rect x="41.9" y="265.44" width="16" height="5.32" fill="#fca267"/>
<rect x="57.9" y="265.44" width="16" height="5.32" fill="#fdb674"/>
<rect x="73.9" y="265.44" width="16" height="5.32" fill="#fecb82"/>
<rect x="89.9" y="265.44" width="16" height="5.32" fill="#f0f9dc"/>
<rect x="105.9" y="265.44" width="16" height="5.32" fill="#b8d9ea"/>
<rect x="121.9" y="265.44" width="16" height="5.32" fill="#fef0a8"/>
<rect x="137.9" y="265.44" width="16" height="5.32" fill="#f7fccd"/>
<rect x="153.9" y="265.44" width="16" height="5.32" fill="#9dc7df"/>
<rect x="0.5" y="270.77" width="11.2" height="5.32" fill="#FFFFFF"/>
<rect x="13.8" y="270.77" width="11.2" height="5.32" fill="#FF3E96"/>
<rect x="27.2" y="270.77" width="11.2" height="5.32" fill="#FFFFFF"/>
<rect x="41.9" y="270.77" width="16" height="5.32" fill="#fee090"/>
<rect x="57.9" y="270.77" width="16" height="5.32" fill="#fdb674"/>
<rect x="73.9" y="270.77" width="16" height="5.32" fill="#fecb82"/>
<rect x="89.9" y="270.77" width="16" height="5.32" fill="#fff7b3"/>
<rect x="105.9" y="270.77" width="16" height="5.32" fill="#5080ba"/>
<rect x="121.9" y="270.77" width="16" height="5.32" fill="#ffffbf"/>
<rect x="137.9" y="270.77" width="16" height="5.32" fill="#fef0a8"/>
<rect x="153.9" y="270.77" width="16" height="5.32" fill="#f4fbd3"/>
<rect x="0.5" y="276.09" width="11.2" height="5.32" fill="#FF3E96"/>
<rect x="13.8" y="276.09" width="11.2" height="5.32" fill="#FF3E96"/>
<rect x="27.2" y="276.09" width="11.2" height="5.32" fill="#FF3E96"/>
<rect x="41.9" y="276.09" width="16" height="5.32" fill="#fdc37d"/>
<rect x="57.9" y="276.09" width="16" height="5.32" fill="#fdaa6c"/>
<rect x="73.9" y="276.09" width="16" height="5.32" fill="#fdc37d"/>
<rect x="89.9" y="276.09" width="16" height="5.32" fill="#e8f6ea"/>
<rect x="105.9" y="276.09" width="16" height="5.32" fill="#76a5cd"/>
<rect x="121.9" y="276.09" width="16" height="5.32" fill="#ffffbf"/>
<rect x="137.9" y="276.09" width="16" height="5.32" fill="#fef0a8"/>
<rect x="153.9" y="276.09" width="16" height="5.32" fill="#f0f9dc"/>
<rect x="0.5" y="281.41" width="11.2" height="5.32" fill="#FFFFFF"/>
<rect x="13.8" y="281.41" width="11.2" height="5.32" fill="#FF3E96"/>
<rect x="27.2" y="281.41" width="11.2" height="5.32" fill="#FF3E96"/>
<rect x="41.9" y="281.41" width="16" height="5.32" fill="#fdc37d"/>
<rect x="57.9" y="281.41" width="16" height="5.32" fill="#fecb82"/>
<rect x="73.9" y="281.41" width="16" height="5.32" fill="#fdaa6c"/>
<rect x="89.9" y="281.41" width="16" height="5.32" fill="#f3fad6"/>
<rect x="105.9" y="281.41" width="16" height="5.32" fill="#91bfdb"/>
<rect x="121.9" y="281.41" width="16" height="5.32" fill="#fee89c"/>
<rect x="137.9" y="281.41" width="16" height="5.32" fill="#f4fbd3"/>
<rect x="153.9" y="281.41" width="16" height="5.32" fill="#add1e5"/>
<rect x="0.5" y="286.73" width="11.2" height="5.32" fill="#FFFFFF"/>
<rect x="13.8" y="286.73" width="11.2" height="5.32" fill="#FF3E96"/>
<rect x="27.2" y="286.73" width="11.2" height="5.32" fill="#FFFFFF"/>
<rect x="41.9" y="286.73" width="16" height="5.32" fill="#fef0a8"/>
<rect x="57.9" y="286.73" width="16" height="5.32" fill="#fdb674"/>
<rect x="73.9" y="286.73" width="16" height="5.32" fill="#fecb82"/>
<rect x="89.9" y="286.73" width="16" height="5.32" fill="#fee090"/>
<rect x="105.9" y="286.73" width="16" height="5.32" fill="#5080ba"/>
<rect x="121.9" y="286.73" width="16" height="5.32" fill="#fafdc8"/>
<rect x="137.9" y="286.73" width="16" height="5.32" fill="#fef0a8"/>
<rect x="153.9" y="286.73" width="16" height="5.32" fill="#f4fbd3"/>
<rect x="0.5" y="292.05" width="11.2" height="5.32" fill="#FFFFFF"/>
<rect x="13.8" y="292.05" width="11.2" height="5.32" fill="#FF3E96"/>
<rect x="27.2" y="292.05" width="11.2" height="5.32" fill="#FFFFFF"/>
<rect x="41.9" y="292.05" width="16" height="5.32" fill="#fca267"/>
<rect x="57.9" y="292.05" width="16" height="5.32" fill="#fdb674"/>
<rect x="73.9" y="292.05" width="16" height="5.32" fill="#fecb82"/>
<rect x="89.9" y="292.05" width="16" height="5.32" fill="#e0f3f8"/>
<rect x="105.9" y="292.05" width="16" height="5.32" fill="#91bfdb"/>
<rect x="121.9" y="292.05" width="16" height="5.32" fill="#fffab8"/>
<rect x="137.9" y="292.05" width="16" height="5.32" fill="#fff7b3"/>
<rect x="153.9" y="292.05" width="16" height="5.32" fill="#ebf7e4"/>
<rect x="0.5" y="297.37" width="11.2" height="5.32" fill="#FFFFFF"/>
<rect x="13.8" y="297.37" width="11.2" height="5.32" fill="#FF3E96"/>
<rect x="27.2" y="297.37" width="11.2" height="5.32" fill="#FFFFFF"/>
<rect x="41.9" y="297.37" width="16" height="5.32" fill="#fee090"/>
<rect x="57.9" y="297.37" width="16" height="5.32" fill="#fdaa6c"/>
<rect x="73.9" y="297.37" width="16" height="5.32" fill="#fdaa6c"/>
<rect x="89.9" y="297.37" width="16" height="5.32" fill="#ebf7e4"/>
<rect x="105.9" y="297.37" width="16" height="5.32" fill="#b8d9ea"/>
<rect x="121.9" y="297.37" width="16" height="5.32" fill="#fef0a8"/>
<rect x="137.9" y="297.37" width="16" height="5.32" fill="#fef0a8"/>
<rect x="153.9" y="297.37" width="16" height="5.32" fill="#91bfdb"/>
<rect x="0.5" y="302.69" width="11.2" height="5.32" fill="#FFFFFF"/>
<rect x="13.8" y="302.69" width="11.2" height="5.32" fill="#FF3E96"/>
<rect x="27.2" y="302.69" width="11.2" height="5.32" fill="#FFFFFF"/>
<rect x="41.9" y="302.69" width="16" height="5.32" fill="#fdc37d"/>
<rect x="57.9" y="302.69" width="16" height="5.32" fill="#fdb674"/>
<rect x="73.9" y="302.69" width="16" height="5.32" fill="#fdaa6c"/>
<rect x="89.9" y="302.69" width="16" height="5.32" fill="#ecf8e1"/>
<rect x="105.9" y="302.69" width="16" height="5.32" fill="#76a5cd"/>
<rect x="121.9" y="302.69" width="16" height="5.32" fill="#fef0a8"/>
<rect x="137.9" y="302.69" width="16" height="5.32" fill="#fff4af"/>
<rect x="153.9" y="302.69" width="16" height="5.32" fill="#e5f5ef"/>
<rect x="0.5" y="308.01" width="11.2" height="5.32" fill="#FFFFFF"/>
<rect x="13.8" y="308.01" width="11.2" height="5.32" fill="#FF3E96"/>
<rect x="27.2" y="308.01" width="11.2" height="5.32" fill="#FFFFFF"/>
<rect x="41.9" y="308.01" width="16" height="5.32" fill="#fca267"/>
<rect x="57.9" y="308.01" width="16" height="5.32" fill="#fecb82"/>
<rect x="73.9" y="308.01" width="16" height="5.32" fill="#fff7b3"/>
<rect x="89.9" y="308.01" width="16" height="5.32" fill="#fee090"/>
<rect x="105.9" y="308.01" width="16" height="5.32" fill="#e0f3f8"/>
<rect x="121.9" y="308.01" width="16" height="5.32" fill="#fff7b3"/>
<rect x="137.9" y="308.01" width="16" height="5.32" fill="#fff7b3"/>
<rect x="153.9" y="308.01" width="16" height="5.32" fill="#6b9ac8"/>
<rect x="0.5" y="313.33" width="11.2" height="5.32" fill="#FFFFFF"/>
<rect x="13.8" y="313.33" width="11.2" height="5.32" fill="#FF3E96"/>
<rect x="27.2" y="313.33" width="11.2" height="5.32" fill="#FFFFFF"/>
<rect x="41.9" y="313.33" width="16" height="5.32" fill="#fee090"/>
<rect x="57.9" y="313.33" width="16" height="5.32" fill="#fdaa6c"/>
<rect x="73.9" y="313.33" width="16" height="5.32" fill="#fdc37d"/>
<rect x="89.9" y="313.33" width="16" height="5.32" fill="#fff7b3"/>
<rect x="105.9" y="313.33" width="16" height="5.32" fill="#4d7cb8"/>
<rect x="121.9" y="313.33" width="16" height="5.32" fill="#f7fccd"/>
<rect x="137.9" y="313.33" width="16" height="5.32" fill="#fef0a8"/>
<rect x="153.9" y="313.33" width="16" height="5.32" fill="#fff7b3"/>
<rect x="0.5" y="318.65" width="11.2" height="5.32" fill="#FF3E96"/>
<rect x="13.8" y="318.65" width="11.2" height="5.32" fill="#FFFFFF"/>
<rect x="27.2" y="318.65" width="11.2" height="5.32" fill="#FF3E96"/>
<rect x="41.9" y="318.65" width="16" height="5.32" fill="#fdc37d"/>
<rect x="57.9" y="318.65" width="16" height="5.32" fill="#fdaa6c"/>
<rect x="73.9" y="318.65" width="16" height="5.32" fill="#fdc37d"/>
<rect x="89.9" y="318.65" width="16" height="5.32" fill="#e5f5ef"/>
<rect x="105.9" y="318.65" width="16" height="5.32" fill="#76a5cd"/>
<rect x="121.9" y="318.65" width="16" height="5.32" fill="#fff7b3"/>
<rect x="137.9" y="318.65" width="16" height="5.32" fill="#fef0a8"/>
<rect x="153.9" y="318.65" width="16" height="5.32" fill="#e5f5ef"/>
<rect x="0.5" y="323.98" width="11.2" height="5.32" fill="#FFFFFF"/>
<rect x="13.8" y="323.98" width="11.2" height="5.32" fill="#FFFFFF"/>
<rect x="27.2" y="323.98" width="11.2" height="5.32" fill="#FF3E96"/>
<rect x="41.9" y="323.98" width="16" height="5.32" fill="#fee89c"/>
<rect x="57.9" y="323.98" width="16" height="5.32" fill="#ea5e40"/>
<rect x="73.9" y="323.98" width="16" height="5.32" fill="#feeba0"/>
<rect x="89.9" y="323.98" width="16" height="5.32" fill="#fef0a8"/>
<rect x="105.9" y="323.98" width="16" height="5.32" fill="#add1e5"/>
<rect x="121.9" y="323.98" width="16" height="5.32" fill="#add1e5"/>
<rect x="137.9" y="323.98" width="16" height="5.32" fill="#fef0a8"/>
<rect x="153.9" y="323.98" width="16" height="5.32" fill="#e5f5ef"/>
<rect x="0.5" y="329.3" width="11.2" height="5.32" fill="#FF3E96"/>
<rect x="13.8" y="329.3" width="11.2" height="5.32" fill="#FFFFFF"/>
<rect x="27.2" y="329.3" width="11.2" height="5.32" fill="#FF3E96"/>
<rect x="41.9" y="329.3" width="16" height="5.32" fill="#fee89c"/>
<rect x="57.9" y="329.3" width="16" height="5.32" fill="#fdc37d"/>
<rect x="73.9" y="329.3" width="16" height="5.32" fill="#fdaa6c"/>
<rect x="89.9" y="329.3" width="16" height="5.32" fill="#fef0a8"/>
<rect x="105.9" y="329.3" width="16" height="5.32" fill="#608fc2"/>
<rect x="121.9" y="329.3" width="16" height="5.32" fill="#fff4af"/>
<rect x="137.9" y="329.3" width="16" height="5.32" fill="#fff4af"/>
<rect x="153.9" y="329.3" width="16" height="5.32" fill="#d4ebf4"/>
<rect x="0.5" y="334.62" width="11.2" height="5.32" fill="#FFFFFF"/>
<rect x="13.8" y="334.62" width="11.2" height="5.32" fill="#FFFFFF"/>
<rect x="27.2" y="334.62" width="11.2" height="5.32" fill="#FF3E96"/>
<rect x="41.9" y="334.62" width="16" height="5.32" fill="#fcfec5"/>
<rect x="57.9" y="334.62" width="16" height="5.32" fill="#fecb82"/>
<rect x="73.9" y="334.62" width="16" height="5.32" fill="#ea5e40"/>
<rect x="89.9" y="334.62" width="16" height="5.32" fill="#fff7b3"/>
<rect x="105.9" y="334.62" width="16" height="5.32" fill="#91bfdb"/>
<rect x="121.9" y="334.62" width="16" height="5.32" fill="#f0f9dc"/>
<rect x="137.9" y="334.62" width="16" height="5.32" fill="#fff7b3"/>
<rect x="153.9" y="334.62" width="16" height="5.32" fill="#d4ebf4"/>
<rect x="0.5" y="339.94" width="11.2" height="5.32" fill="#FFFFFF"/>
<rect x="13.8" y="339.94" width="11.2" height="5.32" fill="#FF3E96"/>
<rect x="27.2" y="339.94" width="11.2" height="5.32" fill="#FFFFFF"/>
<rect x="41.9" y="339.94" width="16" height="5.32" fill="#fef0a8"/>
<rect x="57.9" y="339.94" width="16" height="5.32" fill="#fee89c"/>
<rect x="73.9" y="339.94" width="16" height="5.32" fill="#fc9961"/>
<rect x="89.9" y="339.94" width="16" height="5.32" fill="#fed488"/>
<rect x="105.9" y="339.94" width="16" height="5.32" fill="#76a5cd"/>
<rect x="121.9" y="339.94" width="16" height="5.32" fill="#fef0a8"/>
<rect x="137.9" y="339.94" width="16" height="5.32" fill="#e0f3f8"/>
<rect x="153.9" y="339.94" width="16" height="5.32" fill="#f7fccd"/>
<rect x="0.5" y="345.26" width="11.2" height="5.32" fill="#FFFFFF"/>
<rect x="13.8" y="345.26" width="11.2" height="5.32" fill="#FF3E96"/>
<rect x="27.2" y="345.26" width="11.2" height="5.32" fill="#FF3E96"/>
<rect x="41.9" y="345.26" width="16" height="5.32" fill="#fdb674"/>
<rect x="57.9" y="345.26" width="16" height="5.32" fill="#fdc37d"/>
<rect x="73.9" y="345.26" width="16" height="5.32" fill="#fed488"/>
<rect x="89.9" y="345.26" width="16" height="5.32" fill="#e0f3f8"/>
<rect x="105.9" y="345.26" width="16" height="5.32" fill="#91bfdb"/>
<rect x="121.9" y="345.26" width="16" height="5.32" fill="#fff7b3"/>
<rect x="137.9" y="345.26" width="16" height="5.32" fill="#fef0a8"/>
<rect x="153.9" y="345.26" width="16" height="5.32" fill="#c4e1ee"/>
<rect x="0.5" y="350.58" width="11.2" height="5.32" fill="#FF3E96"/>
<rect x="13.8" y="350.58" width="11.2" height="5.32" fill="#FFFFFF"/>
<rect x="27.2" y="350.58" width="11.2" height="5.32" fill="#FF3E96"/>
<rect x="41.9" y="350.58" width="16" height="5.32" fill="#fdb674"/>
<rect x="57.9" y="350.58" width="16" height="5.32" fill="#fca267"/>
<rect x="73.9" y="350.58" width="16" height="5.32" fill="#fee090"/>
<rect x="89.9" y="350.58" width="16" height="5.32" fill="#c4e1ee"/>
<rect x="105.9" y="350.58" width="16" height="5.32" fill="#91bfdb"/>
<rect x="121.9" y="350.58" width="16" height="5.32" fill="#fff7b3"/>
<rect x="137.9" y="350.58" width="16" height="5.32" fill="#fafdc8"/>
<rect x="153.9" y="350.58" width="16" height="5.32" fill="#e8f6ea"/>
<rect x="0.5" y="355.9" width="11.2" height="5.32" fill="#FFFFFF"/>
<rect x="13.8" y="355.9" width="11.2" height="5.32" fill="#FFFFFF"/>
<rect x="27.2" y="355.9" width="11.2" height="5.32" fill="#FF3E96"/>
<rect x="41.9" y="355.9" width="16" height="5.32" fill="#ebf7e4"/>
<rect x="57.9" y="355.9" width="16" height="5.32" fill="#fc8d59"/>
<rect x="73.9" y="355.9" width="16" height="5.32" fill="#f3764c"/>
<rect x="89.9" y="355.9" width="16" height="5.32" fill="#fffab8"/>
<rect x="105.9" y="355.9" width="16" height="5.32" fill="#b8d9ea"/>
<rect x="121.9" y="355.9" width="16" height="5.32" fill="#f4fbd3"/>
<rect x="137.9" y="355.9" width="16" height="5.32" fill="#f0f9dc"/>
<rect x="153.9" y="355.9" width="16" height="5.32" fill="#e8f6ea"/>
<rect x="0.5" y="361.22" width="11.2" height="5.32" fill="#FF3E96"/>
<rect x="13.8" y="361.22" width="11.2" height="5.32" fill="#FF3E96"/>
<rect x="27.2" y="361.22" width="11.2" height="5.32" fill="#FF3E96"/>
<rect x="41.9" y="361.22" width="16" height="5.32" fill="#fee090"/>
<rect x="57.9" y="361.22" width="16" height="5.32" fill="#fed488"/>
<rect x="73.9" y="361.22" width="16" height="5.32" fill="#fdaa6c"/>
<rect x="89.9" y="361.22" width="16" height="5.32" fill="#fffab8"/>
<rect x="105.9" y="361.22" width="16" height="5.32" fill="#5080ba"/>
<rect x="121.9" y="361.22" width="16" height="5.32" fill="#fff7b3"/>
<rect x="137.9" y="361.22" width="16" height="5.32" fill="#fef0a8"/>
<rect x="153.9" y="361.22" width="16" height="5.32" fill="#f0f9dc"/>
<rect x="0.5" y="366.54" width="11.2" height="5.32" fill="#FFFFFF"/>
<rect x="13.8" y="366.54" width="11.2" height="5.32" fill="#FF3E96"/>
<rect x="27.2" y="366.54" width="11.2" height="5.32" fill="#FF3E96"/>
<rect x="41.9" y="366.54" width="16" height="5.32" fill="#fee090"/>
<rect x="57.9" y="366.54" width="16" height="5.32" fill="#fecb82"/>
<rect x="73.9" y="366.54" width="16" height="5.32" fill="#fc9961"/>
<rect x="89.9" y="366.54" width="16" height="5.32" fill="#ecf8e1"/>
<rect x="105.9" y="366.54" width="16" height="5.32" fill="#91bfdb"/>
<rect x="121.9" y="366.54" width="16" height="5.32" fill="#fef0a8"/>
<rect x="137.9" y="366.54" width="16" height="5.32" fill="#fef0a8"/>
<rect x="153.9" y="366.54" width="16" height="5.32" fill="#a5cce2"/>
<rect x="0.5" y="371.87" width="11.2" height="5.32" fill="#FFFFFF"/>
<rect x="13.8" y="371.87" width="11.2" height="5.32" fill="#FF3E96"/>
<rect x="27.2" y="371.87" width="11.2" height="5.32" fill="#FFFFFF"/>
<rect x="41.9" y="371.87" width="16" height="5.32" fill="#feeba0"/>
<rect x="57.9" y="371.87" width="16" height="5.32" fill="#fca267"/>
<rect x="73.9" y="371.87" width="16" height="5.32" fill="#fdaa6c"/>
<rect x="89.9" y="371.87" width="16" height="5.32" fill="#fffab8"/>
<rect x="105.9" y="371.87" width="16" height="5.32" fill="#6393c4"/>
<rect x="121.9" y="371.87" width="16" height="5.32" fill="#f4fbd3"/>
<rect x="137.9" y="371.87" width="16" height="5.32" fill="#feeba0"/>
<rect x="153.9" y="371.87" width="16" height="5.32" fill="#f0f9dc"/>
<rect x="0.5" y="377.19" width="11.2" height="5.32" fill="#FFFFFF"/>
<rect x="13.8" y="377.19" width="11.2" height="5.32" fill="#FF3E96"/>
<rect x="27.2" y="377.19" width="11.2" height="5.32" fill="#FF3E96"/>
<rect x="41.9" y="377.19" width="16" height="5.32" fill="#fff7b3"/>
<rect x="57.9" y="377.19" width="16" height="5.32" fill="#fdaa6c"/>
<rect x="73.9" y="377.19" width="16" height="5.32" fill="#fee090"/>
<rect x="89.9" y="377.19" width="16" height="5.32" fill="#fee090"/>
<rect x="105.9" y="377.19" width="16" height="5.32" fill="#608fc2"/>
<rect x="121.9" y="377.19" width="16" height="5.32" fill="#e0f3f8"/>
<rect x="137.9" y="377.19" width="16" height="5.32" fill="#fafdc8"/>
<rect x="153.9" y="377.19" width="16" height="5.32" fill="#fee090"/>
<rect x="0.5" y="382.51" width="11.2" height="5.32" fill="#FF3E96"/>
<rect x="13.8" y="382.51" width="11.2" height="5.32" fill="#FFFFFF"/>
<rect x="27.2" y="382.51" width="11.2" height="5.32" fill="#FF3E96"/>
<rect x="41.9" y="382.51" width="16" height="5.32" fill="#fecb82"/>
<rect x="57.9" y="382.51" width="16" height="5.32" fill="#fdb674"/>
<rect x="73.9" y="382.51" width="16" height="5.32" fill="#fca267"/>
<rect x="89.9" y="382.51" width="16" height="5.32" fill="#f0f9dc"/>
<rect x="105.9" y="382.51" width="16" height="5.32" fill="#add1e5"/>
<rect x="121.9" y="382.51" width="16" height="5.32" fill="#fee89c"/>
<rect x="137.9" y="382.51" width="16" height="5.32" fill="#f7fccd"/>
<rect x="153.9" y="382.51" width="16" height="5.32" fill="#9dc7df"/>
<rect x="0.5" y="387.83" width="11.2" height="5.32" fill="#FF3E96"/>
<rect x="13.8" y="387.83" width="11.2" height="5.32" fill="#FFFFFF"/>
<rect x="27.2" y="387.83" width="11.2" height="5.32" fill="#FF3E96"/>
<rect x="41.9" y="387.83" width="16" height="5.32" fill="#fee89c"/>
<rect x="57.9" y="387.83" width="16" height="5.32" fill="#fee090"/>
<rect x="73.9" y="387.83" width="16" height="5.32" fill="#fc8d59"/>
<rect x="89.9" y="387.83" width="16" height="5.32" fill="#ffffbf"/>
<rect x="105.9" y="387.83" width="16" height="5.32" fill="#6393c4"/>
<rect x="121.9" y="387.83" width="16" height="5.32" fill="#fee597"/>
<rect x="137.9" y="387.83" width="16" height="5.32" fill="#f7fccd"/>
<rect x="153.9" y="387.83" width="16" height="5.32" fill="#f0f9dc"/>
<rect x="0.5" y="393.15" width="11.2" height="5.32" fill="#FFFFFF"/>
<rect x="13.8" y="393.15" width="11.2" height="5.32" fill="#FFFFFF"/>
<rect x="27.2" y="393.15" width="11.2" height="5.32" fill="#FF3E96"/>
<rect x="41.9" y="393.15" width="16" height="5.32" fill="#fecb82"/>
<rect x="57.9" y="393.15" width="16" height="5.32" fill="#fdb674"/>
<rect x="73.9" y="393.15" width="16" height="5.32" fill="#fed488"/>
<rect x="89.9" y="393.15" width="16" height="5.32" fill="#f7fccd"/>
<rect x="105.9" y="393.15" width="16" height="5.32" fill="#5080ba"/>
<rect x="121.9" y="393.15" width="16" height="5.32" fill="#fff7b3"/>
<rect x="137.9" y="393.15" width="16" height="5.32" fill="#fff7b3"/>
<rect x="153.9" y="393.15" width="16" height="5.32" fill="#f4fbd3"/>
<rect x="0.5" y="398.47" width="11.2" height="5.32" fill="#FF3E96"/>
<rect x="13.8" y="398.47" width="11.2" height="5.32" fill="#FFFFFF"/>
<rect x="27.2" y="398.47" width="11.2" height="5.32" fill="#FF3E96"/>
<rect x="41.9" y="398.47" width="16" height="5.32" fill="#fca267"/>
<rect x="57.9" y="398.47" width="16" height="5.32" fill="#fc9961"/>
<rect x="73.9" y="398.47" width="16" height="5.32" fill="#fee090"/>
<rect x="89.9" y="398.47" width="16" height="5.32" fill="#c4e1ee"/>
<rect x="105.9" y="398.47" width="16" height="5.32" fill="#f0f9dc"/>
<rect x="121.9" y="398.47" width="16" height="5.32" fill="#fff7b3"/>
<rect x="137.9" y="398.47" width="16" height="5.32" fill="#ffffbf"/>
<rect x="153.9" y="398.47" width="16" height="5.32" fill="#9dc7df"/>
<rect x="0.5" y="403.79" width="11.2" height="5.32" fill="#FF3E96"/>
<rect x="13.8" y="403.79" width="11.2" height="5.32" fill="#FFFFFF"/>
<rect x="27.2" y="403.79" width="11.2" height="5.32" fill="#FF3E96"/>
<rect x="41.9" y="403.79" width="16" height="5.32" fill="#fee090"/>
<rect x="57.9" y="403.79" width="16" height="5.32" fill="#fed488"/>
<rect x="73.9" y="403.79" width="16" height="5.32" fill="#fc9961"/>
<rect x="89.9" y="403.79" width="16" height="5.32" fill="#fffab8"/>
<rect x="105.9" y="403.79" width="16" height="5.32" fill="#6b9ac8"/>
<rect x="121.9" y="403.79" width="16" height="5.32" fill="#fee597"/>
<rect x="137.9" y="403.79" width="16" height="5.32" fill="#fff4af"/>
<rect x="153.9" y="403.79" width="16" height="5.32" fill="#c4e1ee"/>
<rect x="0.5" y="409.11" width="11.2" height="5.32" fill="#FFFFFF"/>
<rect x="13.8" y="409.11" width="11.2" height="5.32" fill="#FFFFFF"/>
<rect x="27.2" y="409.11" width="11.2" height="5.32" fill="#FF3E96"/>
<rect x="41.9" y="409.11" width="16" height="5.32" fill="#fdc37d"/>
<rect x="57.9" y="409.11" width="16" height="5.32" fill="#fee090"/>
<rect x="73.9" y="409.11" width="16" height="5.32" fill="#fee89c"/>
<rect x="89.9" y="409.11" width="16" height="5.32" fill="#fc9961"/>
<rect x="105.9" y="409.11" width="16" height="5.32" fill="#add1e5"/>
<rect x="121.9" y="409.11" width="16" height="5.32" fill="#a5cce2"/>
<rect x="137.9" y="409.11" width="16" height="5.32" fill="#f4fbd3"/>
<rect x="153.9" y="409.11" width="16" height="5.32" fill="#f0f9dc"/>
<rect x="0.5" y="414.43" width="11.2" height="5.32" fill="#FFFFFF"/>
<rect x="13.8" y="414.43" width="11.2" height="5.32" fill="#FF3E96"/>
<rect x="27.2" y="414.43" width="11.2" height="5.32" fill="#FF3E96"/>
<rect x="41.9" y="414.43" width="16" height="5.32" fill="#fffab8"/>
<rect x="57.9" y="414.43" width="16" height="5.32" fill="#fed488"/>
<rect x="73.9" y="414.43" width="16" height="5.32" fill="#fee090"/>
<rect x="89.9" y="414.43" width="16" height="5.32" fill="#fdb674"/>
<rect x="105.9" y="414.43" width="16" height="5.32" fill="#5888be"/>
<rect x="121.9" y="414.43" width="16" height="5.32" fill="#feeba0"/>
<rect x="137.9" y="414.43" width="16" height="5.32" fill="#fff4af"/>
<rect x="153.9" y="414.43" width="16" height="5.32" fill="#e0f3f8"/>
<rect x="0.5" y="419.75" width="11.2" height="5.32" fill="#FF3E96"/>
<rect x="13.8" y="419.75" width="11.2" height="5.32" fill="#FFFFFF"/>
<rect x="27.2" y="419.75" width="11.2" height="5.32" fill="#FFFFFF"/>
<rect x="41.9" y="419.75" width="16" height="5.32" fill="#fff4af"/>
<rect x="57.9" y="419.75" width="16" height="5.32" fill="#fed488"/>
<rect x="73.9" y="419.75" width="16" height="5.32" fill="#fdc37d"/>
<rect x="89.9" y="419.75" width="16" height="5.32" fill="#fee89c"/>
<rect x="105.9" y="419.75" width="16" height="5.32" fill="#4575b4"/>
<rect x="121.9" y="419.75" width="16" height="5.32" fill="#fff7b3"/>
<rect x="137.9" y="419.75" width="16" height="5.32" fill="#ffffbf"/>
<rect x="153.9" y="419.75" width="16" height="5.32" fill="#fef0a8"/>
<rect x="0.5" y="425.07" width="11.2" height="5.32" fill="#FF3E96"/>
<rect x="13.8" y="425.07" width="11.2" height="5.32" fill="#FFFFFF"/>
<rect x="27.2" y="425.07" width="11.2" height="5.32" fill="#FF3E96"/>
<rect x="41.9" y="425.07" width="16" height="5.32" fill="#fee090"/>
<rect x="57.9" y="425.07" width="16" height="5.32" fill="#fdaa6c"/>
<rect x="73.9" y="425.07" width="16" height="5.32" fill="#f67f51"/>
<rect x="89.9" y="425.07" width="16" height="5.32" fill="#c4e1ee"/>
<rect x="105.9" y="425.07" width="16" height="5.32" fill="#fff4af"/>
<rect x="121.9" y="425.07" width="16" height="5.32" fill="#f0f9dc"/>
<rect x="137.9" y="425.07" width="16" height="5.32" fill="#e5f5ef"/>
<rect x="153.9" y="425.07" width="16" height="5.32" fill="#b8d9ea"/>
<rect x="0.5" y="430.4" width="11.2" height="5.32" fill="#FF3E96"/>
<rect x="13.8" y="430.4" width="11.2" height="5.32" fill="#FFFFFF"/>
<rect x="27.2" y="430.4" width="11.2" height="5.32" fill="#FFFFFF"/>
<rect x="41.9" y="430.4" width="16" height="5.32" fill="#fc8d59"/>
<rect x="57.9" y="430.4" width="16" height="5.32" fill="#fecb82"/>
<rect x="73.9" y="430.4" width="16" height="5.32" fill="#fdc37d"/>
<rect x="89.9" y="430.4" width="16" height="5.32" fill="#cce6f1"/>
<rect x="105.9" y="430.4" width="16" height="5.32" fill="#fffab8"/>
<rect x="121.9" y="430.4" width="16" height="5.32" fill="#c4e1ee"/>
<rect x="137.9" y="430.4" width="16" height="5.32" fill="#fef0a8"/>
<rect x="153.9" y="430.4" width="16" height="5.32" fill="#a5cce2"/>
<rect x="0.5" y="435.72" width="11.2" height="5.32" fill="#FFFFFF"/>
<rect x="13.8" y="435.72" width="11.2" height="5.32" fill="#FFFFFF"/>
<rect x="27.2" y="435.72" width="11.2" height="5.32" fill="#FF3E96"/>
<rect x="41.9" y="435.72" width="16" height="5.32" fill="#fee090"/>
<rect x="57.9" y="435.72" width="16" height="5.32" fill="#fed488"/>
<rect x="73.9" y="435.72" width="16" height="5.32" fill="#fc9961"/>
<rect x="89.9" y="435.72" width="16" height="5.32" fill="#f4fbd3"/>
<rect x="105.9" y="435.72" width="16" height="5.32" fill="#b8d9ea"/>
<rect x="121.9" y="435.72" width="16" height="5.32" fill="#fee89c"/>
<rect x="137.9" y="435.72" width="16" height="5.32" fill="#fafdc8"/>
<rect x="153.9" y="435.72" width="16" height="5.32" fill="#91bfdb"/>
<rect x="0.5" y="441.04" width="11.2" height="5.32" fill="#FFFFFF"/>
<rect x="13.8" y="441.04" width="11.2" height="5.32" fill="#FF3E96"/>
<rect x="27.2" y="441.04" width="11.2" height="5.32" fill="#FFFFFF"/>
<rect x="41.9" y="441.04" width="16" height="5.32" fill="#fdb674"/>
<rect x="57.9" y="441.04" width="16" height="5.32" fill="#fee89c"/>
<rect x="73.9" y="441.04" width="16" height="5.32" fill="#fff4af"/>
<rect x="89.9" y="441.04" width="16" height="5.32" fill="#fed488"/>
<rect x="105.9" y="441.04" width="16" height="5.32" fill="#add1e5"/>
<rect x="121.9" y="441.04" width="16" height="5.32" fill="#feeba0"/>
<rect x="137.9" y="441.04" width="16" height="5.32" fill="#fef0a8"/>
<rect x="153.9" y="441.04" width="16" height="5.32" fill="#76a5cd"/>
<rect x="0.5" y="446.36" width="11.2" height="5.32" fill="#FF3E96"/>
<rect x="13.8" y="446.36" width="11.2" height="5.32" fill="#FFFFFF"/>
<rect x="27.2" y="446.36" width="11.2" height="5.32" fill="#FFFFFF"/>
<rect x="41.9" y="446.36" width="16" height="5.32" fill="#fca267"/>
<rect x="57.9" y="446.36" width="16" height="5.32" fill="#fc9961"/>
<rect x="73.9" y="446.36" width="16" height="5.32" fill="#fef0a8"/>
<rect x="89.9" y="446.36" width="16" height="5.32" fill="#ebf7e4"/>
<rect x="105.9" y="446.36" width="16" height="5.32" fill="#add1e5"/>
<rect x="121.9" y="446.36" width="16" height="5.32" fill="#fee597"/>
<rect x="137.9" y="446.36" width="16" height="5.32" fill="#b8d9ea"/>
<rect x="153.9" y="446.36" width="16" height="5.32" fill="#f0f9dc"/>
<rect x="0.5" y="451.68" width="11.2" height="5.32" fill="#FFFFFF"/>
<rect x="13.8" y="451.68" width="11.2" height="5.32" fill="#FF3E96"/>
<rect x="27.2" y="451.68" width="11.2" height="5.32" fill="#FFFFFF"/>
<rect x="41.9" y="451.68" width="16" height="5.32" fill="#fc9961"/>
<rect x="57.9" y="451.68" width="16" height="5.32" fill="#fef0a8"/>
<rect x="73.9" y="451.68" width="16" height="5.32" fill="#fecb82"/>
<rect x="89.9" y="451.68" width="16" height="5.32" fill="#fff4af"/>
<rect x="105.9" y="451.68" width="16" height="5.32" fill="#7eacd1"/>
<rect x="121.9" y="451.68" width="16" height="5.32" fill="#fef0a8"/>
<rect x="137.9" y="451.68" width="16" height="5.32" fill="#fafdc8"/>
<rect x="153.9" y="451.68" width="16" height="5.32" fill="#e0f3f8"/>
<rect x="0.5" y="457" width="11.2" height="5.32" fill="#FFFFFF"/>
<rect x="13.8" y="457" width="11.2" height="5.32" fill="#FFFFFF"/>
<rect x="27.2" y="457" width="11.2" height="5.32" fill="#FF3E96"/>
<rect x="41.9" y="457" width="16" height="5.32" fill="#fdaa6c"/>
<rect x="57.9" y="457" width="16" height="5.32" fill="#fca267"/>
<rect x="73.9" y="457" width="16" height="5.32" fill="#feeba0"/>
<rect x="89.9" y="457" width="16" height="5.32" fill="#f7fccd"/>
<rect x="105.9" y="457" width="16" height="5.32" fill="#d4ebf4"/>
<rect x="121.9" y="457" width="16" height="5.32" fill="#91bfdb"/>
<rect x="137.9" y="457" width="16" height="5.32" fill="#feeba0"/>
<rect x="153.9" y="457" width="16" height="5.32" fill="#f4fbd3"/>
<rect x="0.5" y="462.32" width="11.2" height="5.32" fill="#FFFFFF"/>
<rect x="13.8" y="462.32" width="11.2" height="5.32" fill="#FFFFFF"/>
<rect x="27.2" y="462.32" width="11.2" height="5.32" fill="#FF3E96"/>
<rect x="41.9" y="462.32" width="16" height="5.32" fill="#fee090"/>
<rect x="57.9" y="462.32" width="16" height="5.32" fill="#fee090"/>
<rect x="73.9" y="462.32" width="16" height="5.32" fill="#fdaa6c"/>
<rect x="89.9" y="462.32" width="16" height="5.32" fill="#feeba0"/>
<rect x="105.9" y="462.32" width="16" height="5.32" fill="#6393c4"/>
<rect x="121.9" y="462.32" width="16" height="5.32" fill="#feeba0"/>
<rect x="137.9" y="462.32" width="16" height="5.32" fill="#fff7b3"/>
<rect x="153.9" y="462.32" width="16" height="5.32" fill="#cce6f1"/>
<rect x="0.5" y="467.64" width="11.2" height="5.32" fill="#FFFFFF"/>
<rect x="13.8" y="467.64" width="11.2" height="5.32" fill="#FF3E96"/>
<rect x="27.2" y="467.64" width="11.2" height="5.32" fill="#FFFFFF"/>
<rect x="41.9" y="467.64" width="16" height="5.32" fill="#f7fccd"/>
<rect x="57.9" y="467.64" width="16" height="5.32" fill="#ef6c48"/>
<rect x="73.9" y="467.64" width="16" height="5.32" fill="#fdc37d"/>
<rect x="89.9" y="467.64" width="16" height="5.32" fill="#fff4af"/>
<rect x="105.9" y="467.64" width="16" height="5.32" fill="#86b4d5"/>
<rect x="121.9" y="467.64" width="16" height="5.32" fill="#f0f9dc"/>
<rect x="137.9" y="467.64" width="16" height="5.32" fill="#feeba0"/>
<rect x="153.9" y="467.64" width="16" height="5.32" fill="#ebf7e4"/>
<rect x="0.5" y="472.96" width="11.2" height="5.32" fill="#FFFFFF"/>
<rect x="13.8" y="472.96" width="11.2" height="5.32" fill="#FF3E96"/>
<rect x="27.2" y="472.96" width="11.2" height="5.32" fill="#FF3E96"/>
<rect x="41.9" y="472.96" width="16" height="5.32" fill="#fff4af"/>
<rect x="57.9" y="472.96" width="16" height="5.32" fill="#fdaa6c"/>
<rect x="73.9" y="472.96" width="16" height="5.32" fill="#fee89c"/>
<rect x="89.9" y="472.96" width="16" height="5.32" fill="#fee090"/>
<rect x="105.9" y="472.96" width="16" height="5.32" fill="#5888be"/>
<rect x="121.9" y="472.96" width="16" height="5.32" fill="#e0f3f8"/>
<rect x="137.9" y="472.96" width="16" height="5.32" fill="#fff4af"/>
<rect x="153.9" y="472.96" width="16" height="5.32" fill="#fee597"/>
<rect x="0.5" y="478.28" width="11.2" height="5.32" fill="#FFFFFF"/>
<rect x="13.8" y="478.28" width="11.2" height="5.32" fill="#FF3E96"/>
<rect x="27.2" y="478.28" width="11.2" height="5.32" fill="#FFFFFF"/>
<rect x="41.9" y="478.28" width="16" height="5.32" fill="#ffffbf"/>
<rect x="57.9" y="478.28" width="16" height="5.32" fill="#fdaa6c"/>
<rect x="73.9" y="478.28" width="16" height="5.32" fill="#fecb82"/>
<rect x="89.9" y="478.28" width="16" height="5.32" fill="#feeba0"/>
<rect x="105.9" y="478.28" width="16" height="5.32" fill="#5080ba"/>
<rect x="121.9" y="478.28" width="16" height="5.32" fill="#ebf7e4"/>
<rect x="137.9" y="478.28" width="16" height="5.32" fill="#feeba0"/>
<rect x="153.9" y="478.28" width="16" height="5.32" fill="#fff4af"/>
<rect x="0.5" y="483.61" width="11.2" height="5.32" fill="#FFFFFF"/>
<rect x="13.8" y="483.61" width="11.2" height="5.32" fill="#FFFFFF"/>
<rect x="27.2" y="483.61" width="11.2" height="5.32" fill="#FF3E96"/>
<rect x="41.9" y="483.61" width="16" height="5.32" fill="#fecb82"/>
<rect x="57.9" y="483.61" width="16" height="5.32" fill="#fdaa6c"/>
<rect x="73.9" y="483.61" width="16" height="5.32" fill="#fdaa6c"/>
<rect x="89.9" y="483.61" width="16" height="5.32" fill="#cce6f1"/>
<rect x="105.9" y="483.61" width="16" height="5.32" fill="#feeba0"/>
<rect x="121.9" y="483.61" width="16" height="5.32" fill="#f4fbd3"/>
<rect x="137.9" y="483.61" width="16" height="5.32" fill="#f0f9dc"/>
<rect x="153.9" y="483.61" width="16" height="5.32" fill="#86b4d5"/>
<rect x="0.5" y="488.93" width="11.2" height="5.32" fill="#FFFFFF"/>
<rect x="13.8" y="488.93" width="11.2" height="5.32" fill="#FF3E96"/>
<rect x="27.2" y="488.93" width="11.2" height="5.32" fill="#FF3E96"/>
<rect x="41.9" y="488.93" width="16" height="5.32" fill="#fed488"/>
<rect x="57.9" y="488.93" width="16" height="5.32" fill="#fca267"/>
<rect x="73.9" y="488.93" width="16" height="5.32" fill="#fdb674"/>
<rect x="89.9" y="488.93" width="16" height="5.32" fill="#add1e5"/>
<rect x="105.9" y="488.93" width="16" height="5.32" fill="#c4e1ee"/>
<rect x="121.9" y="488.93" width="16" height="5.32" fill="#fff4af"/>
<rect x="137.9" y="488.93" width="16" height="5.32" fill="#fef0a8"/>
<rect x="153.9" y="488.93" width="16" height="5.32" fill="#b8d9ea"/>
<rect x="0.5" y="494.25" width="11.2" height="5.32" fill="#FF3E96"/>
<rect x="13.8" y="494.25" width="11.2" height="5.32" fill="#FF3E96"/>
<rect x="27.2" y="494.25" width="11.2" height="5.32" fill="#FF3E96"/>
<rect x="41.9" y="494.25" width="16" height="5.32" fill="#fed488"/>
<rect x="57.9" y="494.25" width="16" height="5.32" fill="#fca267"/>
<rect x="73.9" y="494.25" width="16" height="5.32" fill="#fecb82"/>
<rect x="89.9" y="494.25" width="16" height="5.32" fill="#f0f9dc"/>
<rect x="105.9" y="494.25" width="16" height="5.32" fill="#ebf7e4"/>
<rect x="121.9" y="494.25" width="16" height="5.32" fill="#fee597"/>
<rect x="137.9" y="494.25" width="16" height="5.32" fill="#e8f6ea"/>
<rect x="153.9" y="494.25" width="16" height="5.32" fill="#76a5cd"/>
<rect x="0.5" y="499.57" width="11.2" height="5.32" fill="#FFFFFF"/>
<rect x="13.8" y="499.57" width="11.2" height="5.32" fill="#FF3E96"/>
<rect x="27.2" y="499.57" width="11.2" height="5.32" fill="#FF3E96"/>
<rect x="41.9" y="499.57" width="16" height="5.32" fill="#fed488"/>
<rect x="57.9" y="499.57" width="16" height="5.32" fill="#f88454"/>
<rect x="73.9" y="499.57" width="16" height="5.32" fill="#fef0a8"/>
<rect x="89.9" y="499.57" width="16" height="5.32" fill="#fffab8"/>
<rect x="105.9" y="499.57" width="16" height="5.32" fill="#feeba0"/>
<rect x="121.9" y="499.57" width="16" height="5.32" fill="#e0f3f8"/>
<rect x="137.9" y="499.57" width="16" height="5.32" fill="#6b9ac8"/>
<rect x="153.9" y="499.57" width="16" height="5.32" fill="#fff7b3"/>
<rect x="0.5" y="504.89" width="11.2" height="5.32" fill="#FFFFFF"/>
<rect x="13.8" y="504.89" width="11.2" height="5.32" fill="#FFFFFF"/>
<rect x="27.2" y="504.89" width="11.2" height="5.32" fill="#FF3E96"/>
<rect x="41.9" y="504.89" width="16" height="5.32" fill="#fee597"/>
<rect x="57.9" y="504.89" width="16" height="5.32" fill="#fc9961"/>
<rect x="73.9" y="504.89" width="16" height="5.32" fill="#fecb82"/>
<rect x="89.9" y="504.89" width="16" height="5.32" fill="#fffab8"/>
<rect x="105.9" y="504.89" width="16" height="5.32" fill="#a5cce2"/>
<rect x="121.9" y="504.89" width="16" height="5.32" fill="#fed488"/>
<rect x="137.9" y="504.89" width="16" height="5.32" fill="#ffffbf"/>
<rect x="153.9" y="504.89" width="16" height="5.32" fill="#86b4d5"/>
<rect x="0.5" y="510.21" width="11.2" height="5.32" fill="#FF3E96"/>
<rect x="13.8" y="510.21" width="11.2" height="5.32" fill="#FF3E96"/>
<rect x="27.2" y="510.21" width="11.2" height="5.32" fill="#FF3E96"/>
<rect x="41.9" y="510.21" width="16" height="5.32" fill="#fee090"/>
<rect x="57.9" y="510.21" width="16" height="5.32" fill="#feeba0"/>
<rect x="73.9" y="510.21" width="16" height="5.32" fill="#f88454"/>
<rect x="89.9" y="510.21" width="16" height="5.32" fill="#f4fbd3"/>
<rect x="105.9" y="510.21" width="16" height="5.32" fill="#9dc7df"/>
<rect x="121.9" y="510.21" width="16" height="5.32" fill="#fdbf7a"/>
<rect x="137.9" y="510.21" width="16" height="5.32" fill="#e0f3f8"/>
<rect x="153.9" y="510.21" width="16" height="5.32" fill="#d4ebf4"/>
<rect x="0.5" y="515.53" width="11.2" height="5.32" fill="#FFFFFF"/>
<rect x="13.8" y="515.53" width="11.2" height="5.32" fill="#FF3E96"/>
<rect x="27.2" y="515.53" width="11.2" height="5.32" fill="#FFFFFF"/>
<rect x="41.9" y="515.53" width="16" height="5.32" fill="#cce6f1"/>
<rect x="57.9" y="515.53" width="16" height="5.32" fill="#fee597"/>
<rect x="73.9" y="515.53" width="16" height="5.32" fill="#fdc37d"/>
<rect x="89.9" y="515.53" width="16" height="5.32" fill="#fc8d59"/>
<rect x="105.9" y="515.53" width="16" height="5.32" fill="#fafdc8"/>
<rect x="121.9" y="515.53" width="16" height="5.32" fill="#fee89c"/>
<rect x="137.9" y="515.53" width="16" height="5.32" fill="#86b4d5"/>
<rect x="153.9" y="515.53" width="16" height="5.32" fill="#f0f9dc"/>
<rect x="0.5" y="520.85" width="11.2" height="5.32" fill="#FFFFFF"/>
<rect x="13.8" y="520.85" width="11.2" height="5.32" fill="#FFFFFF"/>
<rect x="27.2" y="520.85" width="11.2" height="5.32" fill="#FF3E96"/>
<rect x="41.9" y="520.85" width="16" height="5.32" fill="#fee597"/>
<rect x="57.9" y="520.85" width="16" height="5.32" fill="#fca267"/>
<rect x="73.9" y="520.85" width="16" height="5.32" fill="#fc9961"/>
<rect x="89.9" y="520.85" width="16" height="5.32" fill="#b8d9ea"/>
<rect x="105.9" y="520.85" width="16" height="5.32" fill="#d4ebf4"/>
<rect x="121.9" y="520.85" width="16" height="5.32" fill="#feeba0"/>
<rect x="137.9" y="520.85" width="16" height="5.32" fill="#fef0a8"/>
<rect x="153.9" y="520.85" width="16" height="5.32" fill="#9dc7df"/>
<rect x="0.5" y="526.17" width="11.2" height="5.32" fill="#FF3E96"/>
<rect x="13.8" y="526.17" width="11.2" height="5.32" fill="#FFFFFF"/>
<rect x="27.2" y="526.17" width="11.2" height="5.32" fill="#FF3E96"/>
<rect x="41.9" y="526.17" width="16" height="5.32" fill="#fed488"/>
<rect x="57.9" y="526.17" width="16" height="5.32" fill="#fdc37d"/>
<rect x="73.9" y="526.17" width="16" height="5.32" fill="#fdaa6c"/>
<rect x="89.9" y="526.17" width="16" height="5.32" fill="#b8d9ea"/>
<rect x="105.9" y="526.17" width="16" height="5.32" fill="#add1e5"/>
<rect x="121.9" y="526.17" width="16" height="5.32" fill="#fee090"/>
<rect x="137.9" y="526.17" width="16" height="5.32" fill="#fafdc8"/>
<rect x="153.9" y="526.17" width="16" height="5.32" fill="#b8d9ea"/>
<rect x="0.5" y="531.49" width="11.2" height="5.32" fill="#FFFFFF"/>
<rect x="13.8" y="531.49" width="11.2" height="5.32" fill="#FF3E96"/>
<rect x="27.2" y="531.49" width="11.2" height="5.32" fill="#FFFFFF"/>
<rect x="41.9" y="531.49" width="16" height="5.32" fill="#fecb82"/>
<rect x="57.9" y="531.49" width="16" height="5.32" fill="#fc9961"/>
<rect x="73.9" y="531.49" width="16" height="5.32" fill="#f7fccd"/>
<rect x="89.9" y="531.49" width="16" height="5.32" fill="#fee89c"/>
<rect x="105.9" y="531.49" width="16" height="5.32" fill="#9dc7df"/>
<rect x="121.9" y="531.49" width="16" height="5.32" fill="#feeba0"/>
<rect x="137.9" y="531.49" width="16" height="5.32" fill="#feeba0"/>
<rect x="153.9" y="531.49" width="16" height="5.32" fill="#86b4d5"/>
<rect x="0.5" y="536.82" width="11.2" height="5.32" fill="#FF3E96"/>
<rect x="13.8" y="536.82" width="11.2" height="5.32" fill="#FF3E96"/>
<rect x="27.2" y="536.82" width="11.2" height="5.32" fill="#FF3E96"/>
<rect x="41.9" y="536.82" width="16" height="5.32" fill="#fff4af"/>
<rect x="57.9" y="536.82" width="16" height="5.32" fill="#ef6c48"/>
<rect x="73.9" y="536.82" width="16" height="5.32" fill="#fee597"/>
<rect x="89.9" y="536.82" width="16" height="5.32" fill="#fff7b3"/>
<rect x="105.9" y="536.82" width="16" height="5.32" fill="#a5cce2"/>
<rect x="121.9" y="536.82" width="16" height="5.32" fill="#b8d9ea"/>
<rect x="137.9" y="536.82" width="16" height="5.32" fill="#fef0a8"/>
<rect x="153.9" y="536.82" width="16" height="5.32" fill="#fee597"/>
<rect x="0.5" y="542.14" width="11.2" height="5.32" fill="#FFFFFF"/>
<rect x="13.8" y="542.14" width="11.2" height="5.32" fill="#FF3E96"/>
<rect x="27.2" y="542.14" width="11.2" height="5.32" fill="#FF3E96"/>
<rect x="41.9" y="542.14" width="16" height="5.32" fill="#fff4af"/>
<rect x="57.9" y="542.14" width="16" height="5.32" fill="#fdb674"/>
<rect x="73.9" y="542.14" width="16" height="5.32" fill="#fee090"/>
<rect x="89.9" y="542.14" width="16" height="5.32" fill="#fee89c"/>
<rect x="105.9" y="542.14" width="16" height="5.32" fill="#5080ba"/>
<rect x="121.9" y="542.14" width="16" height="5.32" fill="#e8f6ea"/>
<rect x="137.9" y="542.14" width="16" height="5.32" fill="#fff4af"/>
<rect x="153.9" y="542.14" width="16" height="5.32" fill="#fee090"/>
<rect x="0.5" y="547.46" width="11.2" height="5.32" fill="#FFFFFF"/>
<rect x="13.8" y="547.46" width="11.2" height="5.32" fill="#FFFFFF"/>
<rect x="27.2" y="547.46" width="11.2" height="5.32" fill="#FF3E96"/>
<rect x="41.9" y="547.46" width="16" height="5.32" fill="#fef0a8"/>
<rect x="57.9" y="547.46" width="16" height="5.32" fill="#fecb82"/>
<rect x="73.9" y="547.46" width="16" height="5.32" fill="#fecb82"/>
<rect x="89.9" y="547.46" width="16" height="5.32" fill="#fee89c"/>
<rect x="105.9" y="547.46" width="16" height="5.32" fill="#4d7cb8"/>
<rect x="121.9" y="547.46" width="16" height="5.32" fill="#e5f5ef"/>
<rect x="137.9" y="547.46" width="16" height="5.32" fill="#fee597"/>
<rect x="153.9" y="547.46" width="16" height="5.32" fill="#fef0a8"/>
<rect x="0.5" y="552.78" width="11.2" height="5.32" fill="#FF3E96"/>
<rect x="13.8" y="552.78" width="11.2" height="5.32" fill="#FFFFFF"/>
<rect x="27.2" y="552.78" width="11.2" height="5.32" fill="#FF3E96"/>
<rect x="41.9" y="552.78" width="16" height="5.32" fill="#fff4af"/>
<rect x="57.9" y="552.78" width="16" height="5.32" fill="#dd3e2f"/>
<rect x="73.9" y="552.78" width="16" height="5.32" fill="#fff4af"/>
<rect x="89.9" y="552.78" width="16" height="5.32" fill="#fef0a8"/>
<rect x="105.9" y="552.78" width="16" height="5.32" fill="#91bfdb"/>
<rect x="121.9" y="552.78" width="16" height="5.32" fill="#f4fbd3"/>
<rect x="137.9" y="552.78" width="16" height="5.32" fill="#fffab8"/>
<rect x="153.9" y="552.78" width="16" height="5.32" fill="#e5f5ef"/>
</g>
<g font-size="6.1" font-style="italic" fill="#000">
<text x="173.2" y="30.66">Myl12b</text>
<text x="173.2" y="35.98">Rras</text>
<text x="173.2" y="41.3">Iqgap3</text>
<text x="173.2" y="46.62">Cfl1</text>
<text x="173.2" y="51.94">Pfn1</text>
<text x="173.2" y="57.27">Hmmr</text>
<text x="173.2" y="62.59">Mapk3</text>
<text x="173.2" y="67.91">Col6a3</text>
<text x="173.2" y="73.23">Vegfb</text>
<text x="173.2" y="78.55">Pdgfb</text>
<text x="173.2" y="83.87">Tnc</text>
<text x="173.2" y="89.19">Tmsb4x</text>
<text x="173.2" y="94.51">Col6a1</text>
<text x="173.2" y="99.83">Cxcr4</text>
<text x="173.2" y="105.15">Itga3</text>
<text x="173.2" y="110.48">Bcl2</text>
<text x="173.2" y="115.8">Itga5</text>
<text x="173.2" y="121.12">Thbs1</text>
<text x="173.2" y="126.44">Pak4</text>
<text x="173.2" y="131.76">Lama5</text>
<text x="173.2" y="137.08">Flnc</text>
<text x="173.2" y="142.4">Src</text>
<text x="173.2" y="147.72">Itgb4</text>
<text x="173.2" y="153.04">Thbs3</text>
<text x="173.2" y="158.36">Itgax</text>
<text x="173.2" y="163.69">Ssh3</text>
<text x="173.2" y="169.01">Spp1</text>
<text x="173.2" y="174.33">Pdgfa</text>
<text x="173.2" y="179.65">Itgam</text>
<text x="173.2" y="184.97">Itga2</text>
<text x="173.2" y="190.29">Bdkrb2</text>
<text x="173.2" y="195.61">Pak1</text>
<text x="173.2" y="200.93">Prkcb</text>
<text x="173.2" y="206.25">Limk1</text>
<text x="173.2" y="211.57">Lamc1</text>
<text x="173.2" y="216.9">Col6a2</text>
<text x="173.2" y="222.22">Itgb5</text>
<text x="173.2" y="227.54">Col6a5</text>
<text x="173.2" y="232.86">Col1a1</text>
<text x="173.2" y="238.18">Arpc1b</text>
<text x="173.2" y="243.5">Itga8</text>
<text x="173.2" y="248.82">Baiap2</text>
<text x="173.2" y="254.14">Fyn</text>
<text x="173.2" y="259.46">Parvb</text>
<text x="173.2" y="264.78">Pak3</text>
<text x="173.2" y="270.11">Lama4</text>
<text x="173.2" y="275.43">Iqgap1</text>
<text x="173.2" y="280.75">Itgb6</text>
<text x="173.2" y="286.07">Pdgfc</text>
<text x="173.2" y="291.39">Msn</text>
<text x="173.2" y="296.71">Enah</text>
<text x="173.2" y="302.03">Gsn</text>
<text x="173.2" y="307.35">Ezr</text>
<text x="173.2" y="312.67">Git1</text>
<text x="173.2" y="317.99">Nckap1l</text>
<text x="173.2" y="323.32">Col4a5</text>
<text x="173.2" y="328.64">Birc3</text>
<text x="173.2" y="333.96">Col1a2</text>
<text x="173.2" y="339.28">Shc4</text>
<text x="173.2" y="344.6">Myh9</text>
<text x="173.2" y="349.92">Pdgfrb</text>
<text x="173.2" y="355.24">Col4a6</text>
<text x="173.2" y="360.56">Birc2</text>
<text x="173.2" y="365.88">Itga6</text>
<text x="173.2" y="371.2">Pdgfra</text>
<text x="173.2" y="376.53">Fgd3</text>
<text x="173.2" y="381.85">Pik3cd</text>
<text x="173.2" y="387.17">Lamb1</text>
<text x="173.2" y="392.49">Col4a1</text>
<text x="173.2" y="397.81">Flna</text>
<text x="173.2" y="403.13">Lamb2</text>
<text x="173.2" y="408.45">Col4a2</text>
<text x="173.2" y="413.77">Pgf</text>
<text x="173.2" y="419.09">Actn1</text>
<text x="173.2" y="424.41">Cd44</text>
<text x="173.2" y="429.74">Col4a4</text>
<text x="173.2" y="435.06">Hspg2</text>
<text x="173.2" y="440.38">Cav2</text>
<text x="173.2" y="445.7">Cyfip2</text>
<text x="173.2" y="451.02">Frem1</text>
<text x="173.2" y="456.34">Fgd1</text>
<text x="173.2" y="461.66">Prkcg</text>
<text x="173.2" y="466.98">Shc2</text>
<text x="173.2" y="472.3">Pip4k2a</text>
<text x="173.2" y="477.62">Rac2</text>
<text x="173.2" y="482.95">Itgb2</text>
<text x="173.2" y="488.27">Erbb2</text>
<text x="173.2" y="493.59">Pak6</text>
<text x="173.2" y="498.91">Itga11</text>
<text x="173.2" y="504.23">Pik3r3</text>
<text x="173.2" y="509.55">Vegfc</text>
<text x="173.2" y="514.87">Itgb8</text>
<text x="173.2" y="520.19">Chrm3</text>
<text x="173.2" y="525.51">Ccnd2</text>
<text x="173.2" y="530.83">Lamc2</text>
<text x="173.2" y="536.16">Tiam1</text>
<text x="173.2" y="541.48">Itgb7</text>
<text x="173.2" y="546.8">Vav1</text>
<text x="173.2" y="552.12">Parvg</text>
<text x="173.2" y="557.44">Col9a3</text>
</g>
<text x="50.7" y="562.4" font-size="8.3" text-anchor="end" fill="#222" transform="rotate(-90 50.7 562.4)" textLength="41.7" lengthAdjust="spacing">AAV-GFP-1</text>
<text x="66.7" y="562.4" font-size="8.3" text-anchor="end" fill="#222" transform="rotate(-90 66.7 562.4)" textLength="41.7" lengthAdjust="spacing">AAV-GFP-2</text>
<text x="82.7" y="562.4" font-size="8.3" text-anchor="end" fill="#222" transform="rotate(-90 82.7 562.4)" textLength="41.7" lengthAdjust="spacing">AAV-GFP-3</text>
<text x="98.7" y="562.4" font-size="8.3" text-anchor="end" fill="#222" transform="rotate(-90 98.7 562.4)" textLength="41.7" lengthAdjust="spacing">AAV-GFP-4</text>
<text x="114.7" y="562.4" font-size="8.3" text-anchor="end" fill="#222" transform="rotate(-90 114.7 562.4)" textLength="49.9" lengthAdjust="spacing">AAV-AGXT-1</text>
<text x="130.7" y="562.4" font-size="8.3" text-anchor="end" fill="#222" transform="rotate(-90 130.7 562.4)" textLength="49.9" lengthAdjust="spacing">AAV-AGXT-2</text>
<text x="146.7" y="562.4" font-size="8.3" text-anchor="end" fill="#222" transform="rotate(-90 146.7 562.4)" textLength="49.9" lengthAdjust="spacing">AAV-AGXT-3</text>
<text x="162.7" y="562.4" font-size="8.3" text-anchor="end" fill="#222" transform="rotate(-90 162.7 562.4)" textLength="49.9" lengthAdjust="spacing">AAV-AGXT-4</text>
<text x="7.4" y="562.4" font-size="9" text-anchor="end" fill="#222" transform="rotate(-90 7.4 562.4)" textLength="102.4" lengthAdjust="spacing">ECM–receptor interaction</text>
<text x="20" y="562.4" font-size="9" text-anchor="end" fill="#222" transform="rotate(-90 20 562.4)" textLength="129.5" lengthAdjust="spacing">Regulation of actin cytoskeleton</text>
<text x="34" y="562.4" font-size="9" text-anchor="end" fill="#222" transform="rotate(-90 34 562.4)" textLength="59.6" lengthAdjust="spacing">Focal adhesion</text>
<defs><linearGradient id="cb" x1="0" y1="0" x2="0" y2="1">
<stop offset="0" stop-color="#D73027"/>
<stop offset="0.17" stop-color="#FC8D59"/>
<stop offset="0.33" stop-color="#FEE090"/>
<stop offset="0.5" stop-color="#FFFFBF"/>
<stop offset="0.67" stop-color="#E0F3F8"/>
<stop offset="0.83" stop-color="#91BFDB"/>
<stop offset="1" stop-color="#4575B4"/>
</linearGradient></defs>
<rect x="210.2" y="9.8" width="13.7" height="199.4" fill="url(#cb)"/>
<text x="227" y="24.6" font-size="7.5" fill="#222">2</text>
<text x="227" y="68.9" font-size="7.5" fill="#222">1</text>
<text x="227" y="113.1" font-size="7.5" fill="#222">0</text>
<text x="227" y="157.4" font-size="7.5" fill="#222">−1</text>
<text x="227" y="201.6" font-size="7.5" fill="#222">−2</text>
<text x="243.6" y="19.3" font-size="8.6" fill="#222" letter-spacing="0.2">Group</text>
<rect x="244" y="25.1" width="7.4" height="7.4" fill="#0000FF" stroke="#9b9b9b" stroke-width="0.7"/>
<text x="256.6" y="32.1" font-size="8.6" fill="#222" letter-spacing="0.2">AAV-AGXT</text>
<rect x="244" y="39.1" width="7.4" height="7.4" fill="#FF0000" stroke="#9b9b9b" stroke-width="0.7"/>
<text x="256.6" y="46" font-size="8.6" fill="#222" letter-spacing="0.2">AAV-GFP</text>
<text x="243.6" y="63.7" font-size="8.6" fill="#222" letter-spacing="0.2">ECM–receptor</text>
<text x="243.6" y="73.3" font-size="8.6" fill="#222" letter-spacing="0.2">interaction</text>
<rect x="244" y="81.1" width="7.4" height="7.4" fill="#FF3E96" stroke="#9b9b9b" stroke-width="0.7"/>
<text x="256.6" y="87.8" font-size="8.6" fill="#222" letter-spacing="0.2">Yes</text>
<rect x="244" y="95.1" width="7.4" height="7.4" fill="#FFFFFF" stroke="#9b9b9b" stroke-width="0.7"/>
<text x="256.6" y="101.8" font-size="8.6" fill="#222" letter-spacing="0.2">No</text>
<text x="243.6" y="119.3" font-size="8.6" fill="#222" letter-spacing="0.2">Regulation of actin</text>
<text x="243.6" y="129.1" font-size="8.6" fill="#222" letter-spacing="0.2">cytoskeleton</text>
<rect x="244" y="135.8" width="7.4" height="7.4" fill="#FF3E96" stroke="#9b9b9b" stroke-width="0.7"/>
<text x="256.6" y="142.6" font-size="8.6" fill="#222" letter-spacing="0.2">Yes</text>
<rect x="244" y="149.8" width="7.4" height="7.4" fill="#FFFFFF" stroke="#9b9b9b" stroke-width="0.7"/>
<text x="256.6" y="156.6" font-size="8.6" fill="#222" letter-spacing="0.2">No</text>
<text x="243.6" y="174.1" font-size="8.6" fill="#222" letter-spacing="0.2">Focal adhesion</text>
<rect x="244" y="180.1" width="7.4" height="7.4" fill="#FF3E96" stroke="#9b9b9b" stroke-width="0.7"/>
<text x="256.6" y="186.9" font-size="8.6" fill="#222" letter-spacing="0.2">Yes</text>
<rect x="244" y="194" width="7.4" height="7.4" fill="#FFFFFF" stroke="#9b9b9b" stroke-width="0.7"/>
<text x="256.6" y="200.7" font-size="8.6" fill="#222" letter-spacing="0.2">No</text>
<text x="339.6" y="9.3" font-size="12.5" font-weight="bold" fill="#000" stroke="#000" stroke-width="0.35">b</text>
<rect x="391" y="46.7" width="7.3" height="7.3" fill="#FF0000" stroke="#000" stroke-width="0.7"/>
<text x="403.4" y="53.4" font-size="8.3" fill="#222">AAV8-GFP</text>
<rect x="457.5" y="46.7" width="7.3" height="7.3" fill="#0000FF" stroke="#000" stroke-width="0.7"/>
<text x="469.8" y="53.4" font-size="8.3" fill="#222">AAV8-AGXT</text>
<line x1="369.4" y1="64.7" x2="369.4" y2="159.5" stroke="#8a8a8a" stroke-width="0.8"/>
<line x1="366" y1="159.1" x2="649.5" y2="159.1" stroke="#8a8a8a" stroke-width="0.8"/>
<line x1="366" y1="159.1" x2="369.4" y2="159.1" stroke="#8a8a8a" stroke-width="0.8"/>
<line x1="366" y1="135.5" x2="369.4" y2="135.5" stroke="#8a8a8a" stroke-width="0.8"/>
<line x1="366" y1="111.9" x2="369.4" y2="111.9" stroke="#8a8a8a" stroke-width="0.8"/>
<line x1="366" y1="88.3" x2="369.4" y2="88.3" stroke="#8a8a8a" stroke-width="0.8"/>
<line x1="366" y1="64.7" x2="369.4" y2="64.7" stroke="#8a8a8a" stroke-width="0.8"/>
<text x="362.6" y="161.5" font-size="8" text-anchor="end" fill="#222">0</text>
<text x="362.6" y="114.3" font-size="8" text-anchor="end" fill="#222">1</text>
<text x="362.6" y="67.1" font-size="8" text-anchor="end" fill="#222">2</text>
<text x="348" y="112" font-size="8.8" text-anchor="middle" fill="#222" transform="rotate(-90 348 112)">Fold gene expression</text>
<rect x="376.2" y="112.3" width="12.3" height="46.8" fill="#FF0000" stroke="#000" stroke-width="0.9"/>
<rect x="392.8" y="139.68" width="12.4" height="19.42" fill="#0000FF" stroke="#000" stroke-width="0.9"/>
<line x1="390" y1="159.1" x2="390" y2="162.1" stroke="#8a8a8a" stroke-width="0.8"/>
<text x="390" y="173.6" font-size="8.7" text-anchor="middle" font-style="italic" fill="#222">Tgfb1</text>
<rect x="416.1" y="112.3" width="12.2" height="46.8" fill="#FF0000" stroke="#000" stroke-width="0.9"/>
<rect x="432.3" y="146.52" width="12.4" height="12.58" fill="#0000FF" stroke="#000" stroke-width="0.9"/>
<line x1="430" y1="159.1" x2="430" y2="162.1" stroke="#8a8a8a" stroke-width="0.8"/>
<text x="430" y="173.6" font-size="8.7" text-anchor="middle" font-style="italic" fill="#222">Tgfb2</text>
<rect x="455.8" y="112.3" width="12.2" height="46.8" fill="#FF0000" stroke="#000" stroke-width="0.9"/>
<rect x="472" y="136.84" width="12.4" height="22.26" fill="#0000FF" stroke="#000" stroke-width="0.9"/>
<line x1="469.5" y1="159.1" x2="469.5" y2="162.1" stroke="#8a8a8a" stroke-width="0.8"/>
<text x="469.5" y="173.6" font-size="8.7" text-anchor="middle" font-style="italic" fill="#222">Tgfbr1</text>
<rect x="495.3" y="112.3" width="12.2" height="46.8" fill="#FF0000" stroke="#000" stroke-width="0.9"/>
<rect x="511.5" y="141.33" width="12.3" height="17.77" fill="#0000FF" stroke="#000" stroke-width="0.9"/>
<line x1="509.2" y1="159.1" x2="509.2" y2="162.1" stroke="#8a8a8a" stroke-width="0.8"/>
<text x="509.2" y="173.6" font-size="8.7" text-anchor="middle" font-style="italic" fill="#222">Tgfbr2</text>
<rect x="534.5" y="112.3" width="12.3" height="46.8" fill="#FF0000" stroke="#000" stroke-width="0.9"/>
<rect x="551" y="149.49" width="12.5" height="9.61" fill="#0000FF" stroke="#000" stroke-width="0.9"/>
<line x1="548.8" y1="159.1" x2="548.8" y2="162.1" stroke="#8a8a8a" stroke-width="0.8"/>
<text x="548.8" y="173.6" font-size="8.7" text-anchor="middle" font-style="italic" fill="#222">Col1a1</text>
<rect x="574.2" y="112.3" width="12.1" height="46.8" fill="#FF0000" stroke="#000" stroke-width="0.9"/>
<rect x="590.5" y="140.01" width="12.3" height="19.09" fill="#0000FF" stroke="#000" stroke-width="0.9"/>
<line x1="588.6" y1="159.1" x2="588.6" y2="162.1" stroke="#8a8a8a" stroke-width="0.8"/>
<text x="588.6" y="173.6" font-size="8.7" text-anchor="middle" font-style="italic" fill="#222">Col1a2</text>
<rect x="613.7" y="112.3" width="12.1" height="46.8" fill="#FF0000" stroke="#000" stroke-width="0.9"/>
<rect x="629.8" y="143.78" width="12.5" height="15.32" fill="#0000FF" stroke="#000" stroke-width="0.9"/>
<line x1="627.7" y1="159.1" x2="627.7" y2="162.1" stroke="#8a8a8a" stroke-width="0.8"/>
<text x="627.7" y="173.6" font-size="8.7" text-anchor="middle" font-style="italic" fill="#222">Col4a1</text>
<line x1="382.4" y1="107.6" x2="382.4" y2="117.3" stroke="#000" stroke-width="0.9"/>
<line x1="380.15" y1="107.6" x2="384.65" y2="107.6" stroke="#000" stroke-width="0.9"/>
<line x1="380.15" y1="117.3" x2="384.65" y2="117.3" stroke="#000" stroke-width="0.9"/>
<line x1="399" y1="135.7" x2="399" y2="142.8" stroke="#000" stroke-width="0.9"/>
<line x1="396.75" y1="135.7" x2="401.25" y2="135.7" stroke="#000" stroke-width="0.9"/>
<line x1="396.75" y1="142.8" x2="401.25" y2="142.8" stroke="#000" stroke-width="0.9"/>
<line x1="422.2" y1="106.2" x2="422.2" y2="117.3" stroke="#000" stroke-width="0.9"/>
<line x1="419.95" y1="106.2" x2="424.45" y2="106.2" stroke="#000" stroke-width="0.9"/>
<line x1="419.95" y1="117.3" x2="424.45" y2="117.3" stroke="#000" stroke-width="0.9"/>
<line x1="438.5" y1="141.2" x2="438.5" y2="150.8" stroke="#000" stroke-width="0.9"/>
<line x1="436.25" y1="141.2" x2="440.75" y2="141.2" stroke="#000" stroke-width="0.9"/>
<line x1="436.25" y1="150.8" x2="440.75" y2="150.8" stroke="#000" stroke-width="0.9"/>
<line x1="461.9" y1="107.3" x2="461.9" y2="116.3" stroke="#000" stroke-width="0.9"/>
<line x1="459.65" y1="107.3" x2="464.15" y2="107.3" stroke="#000" stroke-width="0.9"/>
<line x1="459.65" y1="116.3" x2="464.15" y2="116.3" stroke="#000" stroke-width="0.9"/>
<line x1="478.2" y1="134" x2="478.2" y2="140.4" stroke="#000" stroke-width="0.9"/>
<line x1="475.95" y1="134" x2="480.45" y2="134" stroke="#000" stroke-width="0.9"/>
<line x1="475.95" y1="140.4" x2="480.45" y2="140.4" stroke="#000" stroke-width="0.9"/>
<line x1="501.4" y1="106.2" x2="501.4" y2="117.3" stroke="#000" stroke-width="0.9"/>
<line x1="499.15" y1="106.2" x2="503.65" y2="106.2" stroke="#000" stroke-width="0.9"/>
<line x1="499.15" y1="117.3" x2="503.65" y2="117.3" stroke="#000" stroke-width="0.9"/>
<line x1="517.6" y1="135.3" x2="517.6" y2="145.8" stroke="#000" stroke-width="0.9"/>
<line x1="515.35" y1="135.3" x2="519.85" y2="135.3" stroke="#000" stroke-width="0.9"/>
<line x1="515.35" y1="145.8" x2="519.85" y2="145.8" stroke="#000" stroke-width="0.9"/>
<line x1="540.6" y1="103.6" x2="540.6" y2="120.7" stroke="#000" stroke-width="0.9"/>
<line x1="538.35" y1="103.6" x2="542.85" y2="103.6" stroke="#000" stroke-width="0.9"/>
<line x1="538.35" y1="120.7" x2="542.85" y2="120.7" stroke="#000" stroke-width="0.9"/>
<line x1="557.2" y1="144" x2="557.2" y2="153.9" stroke="#000" stroke-width="0.9"/>
<line x1="554.95" y1="144" x2="559.45" y2="144" stroke="#000" stroke-width="0.9"/>
<line x1="554.95" y1="153.9" x2="559.45" y2="153.9" stroke="#000" stroke-width="0.9"/>
<line x1="580.2" y1="106.8" x2="580.2" y2="116.9" stroke="#000" stroke-width="0.9"/>
<line x1="577.95" y1="106.8" x2="582.45" y2="106.8" stroke="#000" stroke-width="0.9"/>
<line x1="577.95" y1="116.9" x2="582.45" y2="116.9" stroke="#000" stroke-width="0.9"/>
<line x1="596.6" y1="133.9" x2="596.6" y2="145.3" stroke="#000" stroke-width="0.9"/>
<line x1="594.35" y1="133.9" x2="598.85" y2="133.9" stroke="#000" stroke-width="0.9"/>
<line x1="594.35" y1="145.3" x2="598.85" y2="145.3" stroke="#000" stroke-width="0.9"/>
<line x1="619.7" y1="106.4" x2="619.7" y2="116.9" stroke="#000" stroke-width="0.9"/>
<line x1="617.45" y1="106.4" x2="621.95" y2="106.4" stroke="#000" stroke-width="0.9"/>
<line x1="617.45" y1="116.9" x2="621.95" y2="116.9" stroke="#000" stroke-width="0.9"/>
<line x1="636" y1="139.3" x2="636" y2="147.2" stroke="#000" stroke-width="0.9"/>
<line x1="633.75" y1="139.3" x2="638.25" y2="139.3" stroke="#000" stroke-width="0.9"/>
<line x1="633.75" y1="147.2" x2="638.25" y2="147.2" stroke="#000" stroke-width="0.9"/>
<g fill="#fff" stroke="#000" stroke-width="1.0">
<circle cx="382.5" cy="88.7" r="1.75"/>
<circle cx="382.5" cy="93.5" r="1.75"/>
<circle cx="382.5" cy="102.2" r="1.75"/>
<circle cx="382.5" cy="107.8" r="1.75"/>
<circle cx="387.3" cy="120.5" r="1.75"/>
<circle cx="377.7" cy="122.9" r="1.75"/>
<circle cx="387.3" cy="128.5" r="1.75"/>
<circle cx="377.7" cy="130.1" r="1.75"/>
<circle cx="398.9" cy="123.4" r="1.75"/>
<circle cx="398.9" cy="133.6" r="1.75"/>
<circle cx="394.5" cy="142.5" r="1.75"/>
<circle cx="403.2" cy="144.4" r="1.75"/>
<circle cx="398.9" cy="141.2" r="1.75"/>
<circle cx="398.9" cy="152.4" r="1.75"/>
<circle cx="417.2" cy="93.5" r="1.75"/>
<circle cx="426.8" cy="90.3" r="1.75"/>
<circle cx="426.8" cy="95.8" r="1.75"/>
<circle cx="422" cy="105.4" r="1.75"/>
<circle cx="422" cy="116.5" r="1.75"/>
<circle cx="422" cy="123.7" r="1.75"/>
<circle cx="426.8" cy="132.8" r="1.75"/>
<circle cx="417.2" cy="136.1" r="1.75"/>
<circle cx="433.8" cy="129.6" r="1.75"/>
<circle cx="438.3" cy="131.7" r="1.75"/>
<circle cx="433.8" cy="151.6" r="1.75"/>
<circle cx="438.3" cy="152" r="1.75"/>
<circle cx="443" cy="155.3" r="1.75"/>
<circle cx="433.5" cy="156" r="1.75"/>
<circle cx="456.9" cy="103.3" r="1.75"/>
<circle cx="460.1" cy="101.7" r="1.75"/>
<circle cx="463.3" cy="102.2" r="1.75"/>
<circle cx="466.5" cy="101.7" r="1.75"/>
<circle cx="461.7" cy="116.2" r="1.75"/>
<circle cx="461.7" cy="122.6" r="1.75"/>
<circle cx="461.7" cy="130.4" r="1.75"/>
<circle cx="461.7" cy="111.5" r="1.75"/>
<circle cx="478" cy="122.9" r="1.75"/>
<circle cx="478" cy="128.8" r="1.75"/>
<circle cx="478" cy="134.1" r="1.75"/>
<circle cx="473.7" cy="141.2" r="1.75"/>
<circle cx="482.9" cy="142.8" r="1.75"/>
<circle cx="478" cy="148.9" r="1.75"/>
<circle cx="498.8" cy="93.1" r="1.75"/>
<circle cx="503.6" cy="93.1" r="1.75"/>
<circle cx="501.2" cy="104.3" r="1.75"/>
<circle cx="501.2" cy="111" r="1.75"/>
<circle cx="501.2" cy="116.5" r="1.75"/>
<circle cx="501.2" cy="123.4" r="1.75"/>
<circle cx="496.3" cy="127.7" r="1.75"/>
<circle cx="506" cy="127.7" r="1.75"/>
<circle cx="517.5" cy="119.4" r="1.75"/>
<circle cx="513.2" cy="138.4" r="1.75"/>
<circle cx="522.3" cy="139.6" r="1.75"/>
<circle cx="513.2" cy="144.4" r="1.75"/>
<circle cx="522.3" cy="146" r="1.75"/>
<circle cx="517.5" cy="153.2" r="1.75"/>
<circle cx="540.6" cy="70" r="1.75"/>
<circle cx="540.6" cy="94.1" r="1.75"/>
<circle cx="535.8" cy="105.1" r="1.75"/>
<circle cx="545.5" cy="102.3" r="1.75"/>
<circle cx="540.6" cy="120.7" r="1.75"/>
<circle cx="535.8" cy="130.1" r="1.75"/>
<circle cx="545.5" cy="133.9" r="1.75"/>
<circle cx="540.6" cy="138.3" r="1.75"/>
<circle cx="555.4" cy="134.9" r="1.75"/>
<circle cx="558.8" cy="132.6" r="1.75"/>
<circle cx="555.4" cy="154.4" r="1.75"/>
<circle cx="562" cy="155.4" r="1.75"/>
<circle cx="552.5" cy="158" r="1.75"/>
<circle cx="558.8" cy="157.3" r="1.75"/>
<circle cx="575.3" cy="96.2" r="1.75"/>
<circle cx="584.8" cy="95.2" r="1.75"/>
<circle cx="575.3" cy="106.4" r="1.75"/>
<circle cx="584.8" cy="104.5" r="1.75"/>
<circle cx="580" cy="111.7" r="1.75"/>
<circle cx="580" cy="119.3" r="1.75"/>
<circle cx="580" cy="126.5" r="1.75"/>
<circle cx="580" cy="133.9" r="1.75"/>
<circle cx="596.6" cy="117.4" r="1.75"/>
<circle cx="596.6" cy="132.4" r="1.75"/>
<circle cx="591.8" cy="145" r="1.75"/>
<circle cx="601.5" cy="143.1" r="1.75"/>
<circle cx="601.5" cy="146.9" r="1.75"/>
<circle cx="596.6" cy="152.4" r="1.75"/>
<circle cx="619.5" cy="90.3" r="1.75"/>
<circle cx="619.5" cy="101.7" r="1.75"/>
<circle cx="614.6" cy="105.5" r="1.75"/>
<circle cx="624.3" cy="104.5" r="1.75"/>
<circle cx="617.4" cy="115.9" r="1.75"/>
<circle cx="621.8" cy="115" r="1.75"/>
<circle cx="619.5" cy="127.9" r="1.75"/>
<circle cx="619.5" cy="133.6" r="1.75"/>
<circle cx="631.3" cy="133.4" r="1.75"/>
<circle cx="640.8" cy="130.7" r="1.75"/>
<circle cx="635.6" cy="145.7" r="1.75"/>
<circle cx="640.5" cy="146" r="1.75"/>
<circle cx="631.3" cy="153.5" r="1.75"/>
<circle cx="640.8" cy="150" r="1.75"/>
</g>
<path d="M382.2 80.7V75.1H399.2V116.5" fill="none" stroke="#8a8a8a" stroke-width="0.8"/>
<text x="391.6" y="72.2" font-size="7.5" text-anchor="middle" fill="#222"><tspan font-style="italic">P</tspan> = 0.0034</text>
<path d="M421.5 84.7V79.6H440.3V121.3" fill="none" stroke="#8a8a8a" stroke-width="0.8"/>
<text x="430.3" y="77.7" font-size="7.5" text-anchor="middle" fill="#222"><tspan font-style="italic">P</tspan> = 0.0080</text>
<path d="M461.4 93.5V88.7H479.2V116.5" fill="none" stroke="#8a8a8a" stroke-width="0.8"/>
<text x="469.2" y="86.2" font-size="7.5" text-anchor="middle" fill="#222"><tspan font-style="italic">P</tspan> = 0.0009</text>
<path d="M502.3 86.3V81.2H518.6V111.8" fill="none" stroke="#8a8a8a" stroke-width="0.8"/>
<text x="509" y="78.5" font-size="7.5" text-anchor="middle" fill="#222"><tspan font-style="italic">P</tspan> = 0.0017</text>
<path d="M540.6 62.8V57.7H557.3V125.4" fill="none" stroke="#8a8a8a" stroke-width="0.8"/>
<text x="550.8" y="55.9" font-size="7.5" text-anchor="middle" fill="#222"><tspan font-style="italic">P</tspan> = 0.0047</text>
<path d="M580 89V83.7H598.1V111.2" fill="none" stroke="#8a8a8a" stroke-width="0.8"/>
<text x="588.2" y="81.5" font-size="7.5" text-anchor="middle" fill="#222"><tspan font-style="italic">P</tspan> = 0.0024</text>
<path d="M618.9 84.6V79.9H635.6V126.4" fill="none" stroke="#8a8a8a" stroke-width="0.8"/>
<text x="628.5" y="78.1" font-size="7.5" text-anchor="middle" fill="#222"><tspan font-style="italic">P</tspan> = 0.0005</text>
<text x="340" y="217.8" font-size="12.5" font-weight="bold" fill="#000" stroke="#000" stroke-width="0.35">c</text>
<text x="446.8" y="227.2" font-size="8.8" text-anchor="middle" fill="#222">Picrosirius red</text>
<text x="392.2" y="322.4" font-size="8.3" text-anchor="middle" fill="#222">AAV8-GFP</text>
<text x="501.2" y="322.4" font-size="8.3" text-anchor="middle" fill="#222">AAV8-AGXT</text>
<defs>
<filter id="nz1" x="0" y="0" width="100%" height="100%"><feTurbulence type="fractalNoise" baseFrequency="0.55" numOctaves="2" seed="3" result="n"/><feColorMatrix type="matrix" values="0 0 0 0 0.62  0 0 0 0 0.50  0 0 0 0 0.30  1.6 0 0 0 -0.62"/></filter>
<filter id="nz1b" x="0" y="0" width="100%" height="100%"><feTurbulence type="fractalNoise" baseFrequency="0.7" numOctaves="2" seed="11"/><feColorMatrix type="matrix" values="0 0 0 0 1  0 0 0 0 0.98  0 0 0 0 0.85  0 1.8 0 0 -0.85"/></filter>
<filter id="bl" x="-5%" y="-5%" width="110%" height="110%"><feGaussianBlur stdDeviation="0.35"/></filter>
<clipPath id="c1"><rect x="339.4" y="232.4" width="105.2" height="77.9"/></clipPath>
<clipPath id="c2"><rect x="448.6" y="232.4" width="104.8" height="77.9"/></clipPath>
</defs>
<g clip-path="url(#c1)">
<rect x="339.4" y="232.4" width="105.2" height="77.9" fill="#d6bd8e"/>

<g opacity="1.0"><rect x="339.4" y="232.4" width="105.2" height="77.9" filter="url(#nz1)"/></g>
<rect x="339.4" y="232.4" width="105.2" height="77.9" filter="url(#nz1b)"/>
<g fill="none" stroke="#e0222a" stroke-opacity="0.9" stroke-linecap="round" stroke-linejoin="round" filter="url(#bl)">
<path d="M405.03 290.6L411.1 286.98L412.61 284.07" stroke-width="0.42"/>
<path d="M378.41 300.61L375.85 302.31L374.28 306.49" stroke-width="0.76"/>
<path d="M420.17 244.61L422.04 241.59L420.69 236.36L416.1 235.29" stroke-width="0.78"/>
<path d="M356.58 245.15L354.54 249.02L355.4 254.24L354.03 259.45" stroke-width="0.75"/>
<path d="M370.67 260.53L373.41 262.11L374.8 265.92L375.41 270.35" stroke-width="0.38"/>
<path d="M376.67 256.18L375.02 252.03L369.73 250.86L366.62 254.27" stroke-width="0.73"/>
<path d="M340.92 294.23L336.98 299.67L330.71 304.66" stroke-width="0.4"/>
<path d="M365.09 296.74L363.34 295.47L360.73 293.89L359.75 291.63L357.76 289.91" stroke-width="0.79"/>
<path d="M361.1 272.52L359.28 277.42L357.92 280.2L357.78 282.82" stroke-width="0.39"/>
<path d="M354.78 286.44L356.82 287.47L360.87 290.78L365.2 289.22" stroke-width="0.5"/>
<path d="M365.52 283.43L365.48 288.18L370.33 294.74" stroke-width="0.6"/>
<path d="M353.07 302.82L351.12 304.42L348.1 304.2L342.6 304.36" stroke-width="0.73"/>
<path d="M442.46 267.83L440.21 268.1L438.43 268.72L435.05 271.04L432.17 269.79" stroke-width="0.57"/>
<path d="M374.88 239.04L377.5 241.49L380.27 242.76L382.18 241.48L385.09 240.03" stroke-width="0.73"/>
<path d="M367.07 309.5L367.42 306.49L365.02 304.81L361.76 304.6L358.12 304.66" stroke-width="0.64"/>
<path d="M423.55 259.48L421.06 257.87L420.58 255.27L423.02 253.19L424.84 251.76L425.34 248.85" stroke-width="0.77"/>
<path d="M389.59 286.62L387.34 284.89L385.6 282.96L383.62 281.42L382.86 278.99L383.09 277.76" stroke-width="0.42"/>
<path d="M385.75 283.36L385.55 285.5L385.47 288.29L387.47 289.72" stroke-width="0.49"/>
<path d="M358.24 247.28L360.82 247.01L361.64 245.6L363.32 244.53L365.32 242.04L368.32 241.7" stroke-width="0.66"/>
<path d="M397.01 308.19L394.55 309.79L392.75 312.21L389.11 311.93L385.49 312.3" stroke-width="0.64"/>
<path d="M378.16 243.23L378.28 240L378.81 238.13L379.91 237.63L380.57 235.34L381.33 234.05" stroke-width="0.63"/>
<path d="M433.48 261.69L430.15 263.27L426.81 263.22L425.02 261.4" stroke-width="0.62"/>
<path d="M417.55 255.76L420.66 263.31L422.45 267.45" stroke-width="0.56"/>
<path d="M351.92 281.11L351.54 282.93L351.64 285.69L351.42 287.82L351.36 289.42" stroke-width="0.57"/>
<path d="M428.45 289L427.48 290.96L425.74 292.71L424.34 293.08L422.6 292.5L420.84 291.78" stroke-width="0.48"/>
<path d="M395.17 268.68L396.08 271.42L398.2 276.17L396.56 279.72" stroke-width="0.36"/>
<path d="M421.51 265.79L420.61 262.96L419.69 260.5L420.07 257.43L420.2 254.64L419.74 253.53" stroke-width="0.7"/>
<path d="M400.7 283.22L399.12 285.48L397.27 287.59L396.62 289.38L394.77 292.5" stroke-width="0.38"/>
<path d="M363.38 296.75L362.83 291.52L358.37 288.99" stroke-width="0.57"/>
<path d="M352.08 241.67L350.69 238.23L344.87 233.01" stroke-width="0.42"/>
<path d="M403.72 264.7L406.1 264.72L408.28 264.15L409.62 260.37" stroke-width="0.68"/>
<path d="M432.12 242.61L429.33 242.67L426.3 243.76L424.73 242.75L421.76 242.4" stroke-width="0.66"/>
<path d="M369.77 306.42L365.92 307.23L362.53 310.37L360.66 311.98" stroke-width="0.46"/>
<path d="M378.35 290.2L378.7 293.63L377.79 296.99" stroke-width="0.41"/>
<path d="M401.96 250.85L403.34 251.2L405.57 251.92L408.54 252.09L409.61 253.9L409.29 256.66" stroke-width="0.39"/>
<path d="M435.61 270.82L436.51 272.26L438.51 273.75L440.42 274.36L443.02 272.97L445.87 272.49" stroke-width="0.55"/>
<path d="M429.27 272.88L427.76 269.85L425.7 269.38L423.76 270.27" stroke-width="0.75"/>
<path d="M389.99 292.07L392.85 290.73L394.51 291.62L395.98 292.25L396.97 293.17L397.01 296.19" stroke-width="0.56"/>
<path d="M397.52 240.71L398.67 239.61L401.06 239.88L402.89 241.31L404.38 240.84" stroke-width="0.56"/>
<path d="M428.97 244.32L428.2 241.14L428.71 239.28L428.12 237.84L426.7 236.89" stroke-width="0.53"/>
<path d="M442.2 260.78L442.09 262.11L440.08 262.96L438.54 262.64L437.37 263.19L434.7 263.72" stroke-width="0.47"/>
<path d="M387.96 267.79L384.08 267.25L382.75 263.67L381.28 261.87" stroke-width="0.38"/>
<path d="M434.27 270.8L440.65 270.79L447.76 270.74" stroke-width="0.37"/>
<path d="M427.34 267.22L428.54 263.39L432.8 258.66" stroke-width="0.43"/>
<path d="M363.77 305.23L366.45 297.86L370.47 291.53" stroke-width="0.45"/>
<path d="M340.85 274.63L339.37 274.68L338.12 277.18L335.76 279.14L333.59 278.21L331.54 279.05" stroke-width="0.7"/>
<path d="M366.93 263.81L371.71 268.45L372.85 276.45" stroke-width="0.65"/>
<path d="M368.24 270.92L365.18 274.99L362.94 275.17L360.04 273.53" stroke-width="0.7"/>
<path d="M339.01 254.59L342.48 253.85L346.27 255.85L346.65 260.38" stroke-width="0.67"/>
<path d="M367.38 296.15L366.07 298.94L367.39 302.44L368.83 303.99" stroke-width="0.59"/>
<path d="M417.33 234.2L417.64 237.72L420.74 242.05L424.56 241.62" stroke-width="0.41"/>
<path d="M360.33 260.3L360.43 262.63L360.38 265.23L358.73 268.39" stroke-width="0.77"/>
<path d="M423.25 241.34L422.09 244.66L421.12 249.25L417.57 250.77" stroke-width="0.79"/>
<path d="M402.18 240.18L403.36 239.06L402.49 236.07L400.44 234.34L398.43 233.52L395.61 234.32" stroke-width="0.49"/>
<path d="M393.68 292.4L393.45 290.26L396.48 288.13L399.57 288.61L401.44 288.49" stroke-width="0.72"/>
<path d="M390.95 234.98L390.72 239.45L384.76 243.46" stroke-width="0.69"/>
<path d="M389.58 269.14L386.38 265.33L380.81 266.49" stroke-width="0.61"/>
<path d="M358.58 262.74L355.07 267.22L351.44 271.83" stroke-width="0.66"/>
<path d="M386.67 294.22L380.65 290.28L374.77 288.61" stroke-width="0.66"/>
<path d="M394.35 254.45L397.22 259.95L394.73 267.5" stroke-width="0.54"/>
<path d="M441.67 233.14L442.52 228.58L445.36 224.05L449.72 223.44" stroke-width="0.73"/>
<path d="M417.29 280.27L414.85 283.75L409.01 283.25" stroke-width="0.53"/>
<path d="M339.31 262.82L337.51 266.56L337.03 268.89L334.75 272.1" stroke-width="0.67"/>
<path d="M378.65 302.05L377.18 305.34L379.13 308.82L381.69 309.16L384.42 307.45" stroke-width="0.61"/>
<path d="M405.41 282.55L403.32 282.33L400.27 281.81L398.54 282.28L395.31 282.39L394.37 283.23" stroke-width="0.4"/>
<path d="M398.63 279.67L400.32 281.32L400.85 284.43L405.6 286.85" stroke-width="0.41"/>
<path d="M394.05 237.75L394.24 240.89L395.87 243L395.67 245.19L396.81 246.32L398.2 246.37" stroke-width="0.42"/>
<path d="M404.27 240.29L406.72 237.64L410.4 236.27L412.9 238.17L412.72 239.93" stroke-width="0.4"/>
<path d="M345.83 248.31L342.57 248.07L341.2 247.03L341.33 244.85L338.53 243.18L338.5 241.7" stroke-width="0.35"/>
<path d="M379.39 259.07L380.75 256.71L380.86 255.27L380.92 253.33L382.55 250.66L383.07 248.93" stroke-width="0.57"/>
<path d="M412.87 294.33L409.04 293.26L407 294.93L405.92 298.87L406.71 302.17" stroke-width="0.42"/>
<path d="M441.55 275.71L438.38 276.81L436.5 275.46L431.88 274.01" stroke-width="0.35"/>
<path d="M420.19 260.52L424.08 261.48L424.93 262.96L423.94 264.7L422.52 265.28" stroke-width="0.58"/>
<path d="M440.35 279.27L441.06 278.17L442.01 275.5L442.49 273.1L444.75 271.9L446 271.66" stroke-width="0.36"/>
<path d="M420.57 264.65L422.55 264.89L423.51 267.51L422.77 268.83L420.88 269.72L418.16 267.87" stroke-width="0.45"/>
<path d="M383.67 253.4L382.78 256.44L380.09 258.66L380.26 261.96L382.52 263.19" stroke-width="0.42"/>
<path d="M407.71 291.04L405.88 290.71L402.27 292.24L400.93 291.39L398.33 291.74" stroke-width="0.47"/>
<path d="M418.91 261.46L417.42 256.55L419.54 253.22L419.76 250.86" stroke-width="0.53"/>
<path d="M371.18 303.61L370.76 301.95L370.6 300.21L370.61 297.47L369.02 295.94L368.6 294.79" stroke-width="0.7"/>
<path d="M383.4 271.83L380.7 272.61L380.02 275.03L380.12 276.58L381.44 278.92" stroke-width="0.64"/>
<path d="M437.03 261.27L436.47 259.52L433.75 257.92L431.77 258.76L429.48 258.49L426.36 258.88" stroke-width="0.48"/>
<path d="M397.48 297.54L398.99 297.4L401.97 297.55L403.95 294.72L403.08 291" stroke-width="0.52"/>
<path d="M375.12 296.4L372.47 295.18L370.77 291.35L368.19 288.04" stroke-width="0.46"/>
<path d="M366.92 301.25L363 301.95L360.53 299.85L356.96 300.3" stroke-width="0.66"/>
<path d="M403.77 285.25L402.24 281.97L402.56 275.77" stroke-width="0.63"/>
<path d="M362.48 306.97L364.81 312.62L371.46 313.78" stroke-width="0.49"/>
<path d="M394.6 274.75L393.65 271.4L392 269.82L388.7 270.95L385.01 272.09" stroke-width="0.56"/>
<path d="M355.47 249.1L355.5 251.62L351.76 253.63L348.68 255.88" stroke-width="0.53"/>
<path d="M359.85 304.29L359 306.02L360.21 307.75L361.23 309.76L360.41 311.2L360.48 312.75" stroke-width="0.6"/>
<path d="M365.64 256.77L362.46 256.1L361.03 253.55L360.09 249.41" stroke-width="0.78"/>
<path d="M351.35 292.82L346.95 293.77L343.25 292.41" stroke-width="0.7"/>
<path d="M396.57 245.6L397.85 249.13L396.75 251.17L396.66 253.56L394.33 254.64" stroke-width="0.38"/>
<path d="M346.3 235.11L348.3 234.54L349.1 233.58L350.44 232.36L350.38 230.09L352.92 228.17" stroke-width="0.56"/>
<path d="M349.89 292.73L357.92 291.15L363.19 290.61" stroke-width="0.47"/>
<path d="M397.4 308.86L392.37 306.81L388.44 308.56L387.28 310.96" stroke-width="0.75"/>
<path d="M414.42 237.62L414.59 239.98L413.2 242.09L413.13 243.64L412.44 245.69L412.12 248.36" stroke-width="0.39"/>
<path d="M402.17 268.11L406.01 266.34L409.54 261.03" stroke-width="0.67"/>
<path d="M366.24 268.65L363.9 268.07L362.04 268.65L361.28 271.26L362.74 273.65L364.67 275.16" stroke-width="0.64"/>
<path d="M390.8 301.02L392.39 300.58L394.52 298.64L395.43 296.34L397.31 295.08" stroke-width="0.44"/>
<path d="M439.86 234.59L435.47 236.95L432.03 237.42L428.44 234.93" stroke-width="0.5"/>
<path d="M416.57 271.91L411.89 268.84L405.68 272.38" stroke-width="0.7"/>
<path d="M427.73 235.41L426.89 232.8L425.54 232.01L423.32 230.66L421.98 230.21L419 229.78" stroke-width="0.64"/>
<path d="M436.53 248.2L434.09 253.29L432.71 257.69" stroke-width="0.68"/>
<path d="M378.52 279.14L380.22 277.01L382.53 276.93L383.43 275.04L383.99 273.55L383.5 272.06" stroke-width="0.75"/>
<path d="M434.28 269.08L439.42 274.08L440.74 280.22" stroke-width="0.73"/>
<path d="M404.09 288.56L402.01 283.91L403.66 281.77L402.72 278.72" stroke-width="0.4"/>
<path d="M378.15 239.05L381.25 240.2L388.41 237.75" stroke-width="0.53"/>
<path d="M420.82 241.04L420.08 244.37L419.7 247.78L422.58 249.92" stroke-width="0.7"/>
<path d="M412.5 299.96L415.51 292.75L419.97 290.12" stroke-width="0.65"/>
<path d="M408.78 301.74L409.23 300.17L410.44 297.76L411.68 297.37L414.65 298.65L417.04 297.81" stroke-width="0.67"/>
<path d="M384.9 296.42L382.48 297.13L380.35 298.16L380.21 302.08" stroke-width="0.78"/>
<path d="M427.41 257.77L431.73 255.4L437.44 259.08" stroke-width="0.52"/>
<path d="M432.87 252.91L430.62 251.07L428 251.16L424.39 251.78L422.75 253.35" stroke-width="0.72"/>
<path d="M346.52 274.42L349.54 276.02L351.78 276.68L353.49 279.78L356.1 281.76" stroke-width="0.41"/>
<path d="M394 238.52L388.35 239.23L383.13 240.26" stroke-width="0.42"/>
<path d="M368.49 267.51L369.88 272.22L370.07 274.47L371.29 277.7" stroke-width="0.42"/>
<path d="M405.35 265.49L407.53 264.59L411.04 261.16L412.54 259.66" stroke-width="0.78"/>
<path d="M413.24 305.53L410.58 305.05L409.1 302.57L408.26 301.05L406.48 297.67" stroke-width="0.54"/>
<path d="M359.81 289.56L361.61 284.57L365.87 282.81" stroke-width="0.51"/>
<path d="M402.95 278.65L404.7 279.22L406.88 280.31L407.68 281.34L407.21 283.09L407.61 285.16" stroke-width="0.45"/>
<path d="M403.67 278.99L402.67 281.01L400.01 284.53L397.52 285.6L397.16 288.74" stroke-width="0.7"/>
<path d="M407.63 282.98L401.57 285.74L396.58 284.51" stroke-width="1"/>
<path d="M398.28 279.99L396.91 285.73L399.21 292.79" stroke-width="0.98"/>
<path d="M399.04 277.84L402.36 281.31L404.66 286.46" stroke-width="1.07"/>
<path d="M409.48 265.16L407.66 260.46L404.85 255.59" stroke-width="0.66"/>
<path d="M389.01 272.54L390.61 274.31L392.16 275.92L396.25 276.6L397.83 277.68" stroke-width="0.99"/>
<path d="M364.85 256.98L366.94 254.48L367.78 250.92L368.26 248.61L370.06 244.49" stroke-width="0.65"/>
<path d="M386.06 278.25L388.99 279.65L390.18 281.95L391.71 284.5L392.85 285.74L393.25 287.76" stroke-width="0.84"/>
<path d="M403.2 249.75L410.5 246.57L413.41 240.89" stroke-width="0.76"/>
<path d="M389.84 286.17L391.86 285.74L394.28 285.07L395.41 283.08L395.69 279.9L394.83 277.14" stroke-width="1.09"/>
<path d="M410.15 258.92L407.64 255.27L407.42 252.99L409.37 250.27L412.81 247.52" stroke-width="0.69"/>
<path d="M394.5 267.64L391.6 264.41L391.7 262.37L389.14 258.84L388.03 256.07" stroke-width="0.99"/>
<path d="M404.68 264.13L396.87 268.19L391.86 268.59" stroke-width="0.76"/>
<path d="M365.88 272.07L366.46 265.91L372.29 261.94" stroke-width="0.95"/>
<path d="M370.35 279.47L370.98 283.64L371.91 287.22L371.06 289.29L366.9 290.17" stroke-width="0.82"/>
<path d="M402.92 262.12L398.8 265.42L395.64 270.09" stroke-width="0.62"/>
<path d="M389.12 254.41L389.12 257.85L390.56 258.71L391.5 261.39L391.9 262.91L393.78 264.19" stroke-width="0.63"/>
<path d="M413.65 276.43L414.97 275.41L416.69 275.15L419.16 275.04L420.81 274.94L422.22 272.76" stroke-width="0.62"/>
<path d="M390.27 248.76L389.1 254.11L384.67 257.87L379.85 259.21" stroke-width="0.66"/>
<path d="M398.54 276.08L404.15 279.82L409.58 279.29" stroke-width="0.79"/>
<path d="M386.05 259.89L390.31 262L391.93 265.44L392.35 271.33" stroke-width="0.68"/>
<path d="M395.27 259.31L399.12 260.6L404.35 264.61" stroke-width="0.94"/>
<path d="M393.78 244.69L395.64 246.64L395.28 248.73L394.97 251.73L393.52 252.88L391.85 253.41" stroke-width="0.66"/>
<path d="M413.16 244.25L415.23 243.89L417.07 243.33L419.84 244.82L420.67 246.58L421.16 248.55" stroke-width="1"/>
<path d="M401.24 286.78L401.96 284.79L403 283.12L403.57 281.01L405.42 280.4" stroke-width="1.06"/>
<path d="M411.39 261.6L412.07 257.75L410.91 251.57" stroke-width="0.83"/>
<path d="M377.18 272.47L373.23 272.78L369.02 276.94L366.67 280.87" stroke-width="0.88"/>
<path d="M395.34 263.62L396.15 266.11L395.44 268.88L396.72 271.46" stroke-width="1.06"/>
<path d="M364.13 249.22L366.19 251.81L367.88 254.24L367.68 256.72L365.18 259L364.93 262.42" stroke-width="1.03"/>
<path d="M406.75 257.2L408.77 261.29L408.99 264.56L407.37 267.22" stroke-width="0.8"/>
<path d="M355.19 277.73L355.55 273.5L357.79 265.28" stroke-width="0.61"/>
<path d="M343.3 287.89L345.6 289.28L345.72 292.1L345.5 293.71L344.98 295.23L345.74 297.79" stroke-width="0.57"/>
<path d="M359.96 292.55L355.86 294.41L354.61 296.96L351.04 299.66" stroke-width="0.81"/>
<path d="M363.82 292.21L364.68 289.91L364.43 286.75L365.13 284.87L366.42 282.61L369.38 281.93" stroke-width="0.64"/>
<path d="M388.01 276.49L387.1 279.51L389.5 282.23L389.98 285.58L388.27 287.67" stroke-width="0.85"/>
<path d="M368.72 294.04L363.96 290L361.99 286.44" stroke-width="0.85"/>
<path d="M371.36 309.74L374.72 307.22L377.15 303.61L378.09 300.27L378.72 297.9" stroke-width="0.64"/>
<path d="M375.92 287.12L376.22 284.7L377 281.43L379.67 279.47L380.7 277.33L381.17 274.01" stroke-width="0.98"/>
<path d="M346.55 278.7L351.56 280.72L354.88 279.64L356.88 275.76" stroke-width="0.8"/>
<path d="M354.93 276.77L359.57 269.86L366.89 269.96" stroke-width="0.78"/>
<path d="M358.9 286.98L358.13 288.42L358.4 290.24L359.18 291.66L360.99 291.6L362.39 289.82" stroke-width="0.51"/>
<path d="M382.72 295.33L381.48 298.56L380.82 300.64L379.59 304.91L378.95 307.52" stroke-width="0.57"/>
<path d="M376.48 300.13L373.28 300.45L370.93 297.51L369.48 292" stroke-width="0.88"/>
<path d="M353.9 296.43L357.39 298.88L359.74 299.59L362.7 300.8L365.4 303.01" stroke-width="0.89"/>
<path d="M376.92 279.42L376.04 281.19L374.96 283.16L375.76 284.5L377.5 285.56L379.48 288.46" stroke-width="0.72"/>
<path d="M385.85 309.55L386.62 307.54L387.43 304.9L388.58 300.6L389.49 298.95" stroke-width="0.95"/>
<path d="M356.2 296.44L363.98 295.36L369.72 297.87" stroke-width="0.59"/>
<path d="M378.46 284.64L379.18 281.66L378.03 280.23L378.65 278.8L380.07 276.77L382.34 275.16" stroke-width="0.8"/>
<path d="M362.72 307.62L368 307.24L370.61 308.41L372.29 310.88" stroke-width="0.99"/>
<path d="M348.74 305.21L351.95 304.29L355.35 303.98L358.2 303.2" stroke-width="0.96"/>
<path d="M391.54 256.52L389.07 254.05L387.03 252.16L384.47 250.18" stroke-width="1.16"/>
<path d="M383.03 255.99L384.61 254.07L383.96 251.81L381.94 251.06L380.21 251.07" stroke-width="1.59"/>
<path d="M383.33 246.97L383.81 243.53L385.36 242.78L386.8 241.75" stroke-width="1.22"/>
<path d="M394.19 248.62L393.39 244.93L389.71 243.19" stroke-width="1.47"/>
<path d="M391.45 255.75L390 250.78L390.25 247.47" stroke-width="1.25"/>
<path d="M395.42 256.78L397.53 257.56L400.17 259.04L402.39 258.61" stroke-width="1.6"/>
<path d="M383.59 246.41L380.6 242.96L376.7 243.02" stroke-width="1.12"/>
<path d="M395.53 246.59L394.68 248.64L393.99 250.17L393.87 251.97L392.71 254.08" stroke-width="1.17"/>
<path d="M400.79 253.44L398.01 254.54L396.7 253.77L393.66 253.71" stroke-width="1.24"/>
<path d="M387.35 246.14L388.67 251.21L389.24 253.47" stroke-width="1.23"/>
<path d="M358.63 263.59L358.4 260.77L360.26 258.7L360.33 257.06" stroke-width="1.41"/>
<path d="M365.43 254.42L363.99 258.95L366.63 262.76" stroke-width="1.43"/>
<path d="M358.67 260.31L356.72 259.82L355.43 257.71L355.45 255.08" stroke-width="1.16"/>
<path d="M360.1 260.02L359.85 264.04L358.79 266.89" stroke-width="1.17"/>
<path d="M363.56 267.82L362.36 268.18L361.64 269.3L361.3 270.47L361.68 272.4L361.73 273.96" stroke-width="1.24"/>
<path d="M367.41 263.82L368.24 265.69L369.31 267.09L369.04 268L369.92 269.64L369.5 271.26" stroke-width="1"/>
<path d="M345.14 296.05L343.33 295.17L341.73 292.86L339.26 291.4" stroke-width="1.14"/>
<path d="M358.55 284.37L359.25 285.71L358.86 287.75L359.93 289.38L360.23 290.72" stroke-width="1.29"/>
<path d="M345.46 288.74L346.06 290.92L346.35 294.28L345.16 295.47" stroke-width="1.28"/>
<path d="M360.72 293.58L359.47 293.37L358.43 291.79L356.71 291.23L354.5 291.94" stroke-width="1.2"/>
<path d="M345.05 298.36L346.36 297.99L348.28 297.01L349.98 296.52L350.97 297.47" stroke-width="1.13"/>
<path d="M349.19 291.2L347.49 294.18L345.87 297.94" stroke-width="1.19"/>
<path d="M428.3 260.23L429.75 258.88L429.26 255.81L426.94 254.1" stroke-width="1.08"/>
<path d="M411.34 269.33L411.17 270.49L409.61 271.65L408.44 271.64L407.56 270.4L406.21 269.9" stroke-width="1.11"/>
<path d="M410.58 271.29L408.49 271.15L406.09 271.5L405.01 269.99L405.41 268.91" stroke-width="0.97"/>
<path d="M412.44 278.76L409.65 276.28L409.68 273.73" stroke-width="0.96"/>
<path d="M409.95 269.37L410.6 267.61L409.71 265.22L408.79 264.07L406.69 262.98" stroke-width="1.06"/>
<path d="M427.1 266.72L422.43 265.78L419.87 266.58" stroke-width="1.24"/>
</g>
<g fill="#fdf8d8" stroke="#c4ad78" stroke-width="0.2">
<circle cx="356.75" cy="286.13" r="3.37"/>
<circle cx="362.12" cy="294.15" r="3.41"/>
<circle cx="392.53" cy="250.79" r="3.25"/>
<circle cx="363.83" cy="250.53" r="4"/>
<circle cx="417.11" cy="300.57" r="2.84"/>
<circle cx="374" cy="271.16" r="3.94"/>
<circle cx="378.16" cy="244.46" r="2.95"/>
<circle cx="437.02" cy="267.7" r="3.21"/>
<circle cx="433.45" cy="291.2" r="3.5"/>
<circle cx="386.88" cy="262.45" r="3.26"/>
<circle cx="342.22" cy="239.67" r="3.99"/>
<circle cx="391.58" cy="270.69" r="3.7"/>
<circle cx="362.76" cy="279.83" r="3.55"/>
<circle cx="375.86" cy="278.92" r="2.92"/>
<circle cx="346.31" cy="295.79" r="3.25"/>
<circle cx="411.29" cy="285.05" r="3.95"/>
<circle cx="382.22" cy="309.45" r="3.51"/>
<circle cx="431.57" cy="245.04" r="3.77"/>
<circle cx="420.82" cy="270.04" r="2.86"/>
<circle cx="346.71" cy="258.74" r="3.98"/>
<circle cx="394.7" cy="289.16" r="3.05"/>
<circle cx="384.22" cy="277.67" r="3.17"/>
<circle cx="340.48" cy="285.78" r="2.83"/>
<circle cx="401.86" cy="282.56" r="3.5"/>
<circle cx="366.46" cy="264" r="2.52"/>
<circle cx="353.45" cy="239.79" r="1.72"/>
<circle cx="386.41" cy="243.37" r="2.29"/>
<circle cx="352.71" cy="274.36" r="2.14"/>
<circle cx="414.09" cy="275.25" r="2.34"/>
<circle cx="388.2" cy="237.35" r="1.86"/>
<circle cx="372.39" cy="235.66" r="1.98"/>
<circle cx="397.19" cy="306.27" r="2.24"/>
<circle cx="425.11" cy="308.5" r="1.99"/>
<circle cx="443.89" cy="240.78" r="1.77"/>
<circle cx="425.07" cy="291.6" r="2.26"/>
<circle cx="380.37" cy="263.68" r="1.74"/>
<circle cx="385.05" cy="251.65" r="2.44"/>
<circle cx="415.54" cy="267.92" r="2.05"/>
<circle cx="390.61" cy="281.62" r="1.78"/>
<circle cx="421.41" cy="281.23" r="2.3"/>
<circle cx="429.76" cy="286.85" r="1.92"/>
<circle cx="372.29" cy="256.68" r="1.83"/>
<circle cx="439.97" cy="287.24" r="2"/>
<circle cx="373.29" cy="252.21" r="1.84"/>
<circle cx="379.86" cy="253.62" r="2.56"/>
<circle cx="341.4" cy="271.44" r="2.25"/>
<circle cx="413.08" cy="251.11" r="2.19"/>
<circle cx="395.09" cy="236.23" r="2.06"/>
<circle cx="428.14" cy="304.47" r="1.72"/>
<circle cx="417.98" cy="291.55" r="1.75"/>
<circle cx="350.35" cy="304.91" r="2.07"/>
<circle cx="426.43" cy="249.05" r="2.02"/>
<circle cx="395.42" cy="281.34" r="2.34"/>
<circle cx="434.37" cy="273.94" r="2.57"/>
<circle cx="395.81" cy="301.08" r="2.6"/>
<circle cx="377.52" cy="238.85" r="1.86"/>
<circle cx="396.19" cy="295.89" r="1.82"/>
<circle cx="342.24" cy="265.35" r="1.72"/>
<circle cx="367.26" cy="285.56" r="1.9"/>
<circle cx="361.17" cy="271.16" r="1.9"/>
<circle cx="348.53" cy="270.58" r="2.42"/>
<circle cx="359.04" cy="244.22" r="2.46"/>
<circle cx="362.65" cy="241.11" r="1.8"/>
<circle cx="382.03" cy="291.67" r="2.33"/>
<circle cx="349.53" cy="248.27" r="2.44"/>
<circle cx="372.87" cy="303.56" r="2.41"/>
<circle cx="351.2" cy="283.96" r="1.91"/>
<circle cx="378.76" cy="299.8" r="2.32"/>
<circle cx="405.43" cy="269.29" r="2.03"/>
<circle cx="359.02" cy="303.55" r="1.88"/>
<circle cx="342.74" cy="249.09" r="2"/>
<circle cx="386.77" cy="289.76" r="2.04"/>
<circle cx="368.87" cy="278.69" r="2.32"/>
<circle cx="440.85" cy="300.87" r="2.6"/>
<circle cx="373.87" cy="261.99" r="1.85"/>
<circle cx="370.42" cy="242.49" r="1.82"/>
<circle cx="344.5" cy="282" r="2.16"/>
<circle cx="339.78" cy="258.92" r="2.01"/>
<circle cx="361.82" cy="234.37" r="1.86"/>
<circle cx="399.7" cy="275.57" r="2.46"/>
<circle cx="412.28" cy="293.51" r="2.25"/>
<circle cx="439.43" cy="307.59" r="2.22"/>
<circle cx="419.74" cy="249.92" r="2.52"/>
<circle cx="356.18" cy="264.42" r="1.94"/>
<circle cx="404.19" cy="290.47" r="2.38"/>
<circle cx="405.97" cy="304.68" r="2.3"/>
<circle cx="442.16" cy="273.54" r="1.79"/>
<circle cx="430.45" cy="282.51" r="1.8"/>
<circle cx="370.23" cy="307.82" r="2.18"/>
<circle cx="383.55" cy="285.66" r="1.93"/>
<circle cx="437.4" cy="281.45" r="2.14"/>
<circle cx="401.11" cy="302.02" r="2.03"/>
<circle cx="378.75" cy="258.97" r="1.75"/>
<circle cx="410.84" cy="306.93" r="1.87"/>
<circle cx="374.61" cy="294.45" r="2.39"/>
<circle cx="425.74" cy="268.53" r="1.85"/>
<circle cx="391.85" cy="257.26" r="2.06"/>
<circle cx="421.55" cy="304.37" r="2.04"/>
<circle cx="371.66" cy="288.44" r="2.24"/>
<circle cx="357.18" cy="235.25" r="2.46"/>
<circle cx="354.53" cy="252.7" r="2.28"/>
<circle cx="406.3" cy="277.4" r="2.28"/>
<circle cx="437.91" cy="254.55" r="1.92"/>
<circle cx="415.95" cy="259.23" r="2.34"/>
<circle cx="422.22" cy="239.87" r="2.02"/>
<circle cx="386.96" cy="256.18" r="2.09"/>
<circle cx="368.49" cy="298.93" r="2.03"/>
<circle cx="439.8" cy="295.11" r="1.81"/>
<circle cx="339.78" cy="309.92" r="1.74"/>
<circle cx="382.61" cy="296.78" r="2.02"/>
<circle cx="400.44" cy="262.3" r="2.48"/>
<circle cx="367.77" cy="258.21" r="2.58"/>
<circle cx="348.41" cy="287.92" r="2.37"/>
<circle cx="340.04" cy="294.87" r="2.51"/>
<circle cx="359" cy="308.45" r="2.25"/>
<circle cx="426.19" cy="296.53" r="2.11"/>
<circle cx="431.03" cy="301.11" r="2.01"/>
<circle cx="389.38" cy="296.36" r="2.05"/>
<circle cx="422.9" cy="276.38" r="2.18"/>
<circle cx="444.05" cy="296.17" r="1.72"/>
<circle cx="345.76" cy="275.66" r="1.94"/>
<circle cx="385.73" cy="272.51" r="1.72"/>
<circle cx="367.51" cy="234.8" r="1.9"/>
<circle cx="359.45" cy="256.97" r="2.11"/>
<circle cx="389.99" cy="309.51" r="2.53"/>
<circle cx="360.48" cy="266.51" r="1.77"/>
<circle cx="428.93" cy="277.34" r="2.48"/>
<circle cx="414.17" cy="309.91" r="1.98"/>
<circle cx="443.53" cy="248.2" r="1.76"/>
<circle cx="443.37" cy="291.07" r="2.54"/>
<circle cx="405.99" cy="264.37" r="1.85"/>
<circle cx="406.51" cy="253.37" r="2"/>
<circle cx="387.11" cy="302.65" r="1.71"/>
<circle cx="378.4" cy="287.96" r="1.98"/>
<circle cx="418.8" cy="309.16" r="2.29"/>
<circle cx="404.91" cy="233.97" r="2.17"/>
<circle cx="414.36" cy="240.41" r="2.49"/>
<circle cx="421.07" cy="296.05" r="2.35"/>
<circle cx="366.45" cy="271.36" r="2.01"/>
<circle cx="365.64" cy="303.82" r="2.41"/>
<circle cx="339.72" cy="276.58" r="2.52"/>
<circle cx="421.57" cy="285.84" r="1.86"/>
<circle cx="434.11" cy="284.65" r="1.76"/>
<circle cx="353.73" cy="279.51" r="2.03"/>
<circle cx="343.56" cy="289.87" r="1.36"/>
<circle cx="399.49" cy="258.32" r="0.95"/>
<circle cx="421.63" cy="258.35" r="1.4"/>
<circle cx="444.34" cy="305.79" r="0.86"/>
<circle cx="441.12" cy="237.72" r="1.45"/>
<circle cx="424.22" cy="252.4" r="1"/>
<circle cx="394.96" cy="276.7" r="0.99"/>
<circle cx="418.14" cy="243.31" r="1.28"/>
<circle cx="402.25" cy="249.66" r="0.94"/>
<circle cx="350.81" cy="244.53" r="1.08"/>
<circle cx="421.85" cy="245.95" r="1.03"/>
<circle cx="362.64" cy="300.15" r="0.88"/>
<circle cx="360.91" cy="289.6" r="0.86"/>
<circle cx="397.6" cy="268.19" r="1.32"/>
<circle cx="440.74" cy="251.52" r="1.43"/>
<circle cx="351.09" cy="277.32" r="0.87"/>
<circle cx="410.29" cy="237.2" r="1.32"/>
<circle cx="429.86" cy="237.13" r="1.06"/>
<circle cx="441.01" cy="263.41" r="1.1"/>
<circle cx="389.94" cy="292.28" r="1.12"/>
<circle cx="341.14" cy="255.14" r="1.27"/>
<circle cx="433.43" cy="238.26" r="1.12"/>
<circle cx="379.93" cy="282.45" r="1.43"/>
<circle cx="412.18" cy="303.58" r="0.85"/>
<circle cx="369.93" cy="264.85" r="0.8"/>
<circle cx="373.24" cy="247.83" r="1.45"/>
<circle cx="409.67" cy="275.68" r="0.94"/>
<circle cx="347.74" cy="238.45" r="1.03"/>
<circle cx="434.72" cy="249.3" r="1.25"/>
<circle cx="413.73" cy="235.54" r="1.43"/>
<circle cx="433.73" cy="254.07" r="1.45"/>
<circle cx="378.54" cy="294.56" r="0.81"/>
<circle cx="361.16" cy="260.18" r="1.12"/>
<circle cx="430.6" cy="268.73" r="1.21"/>
<circle cx="397.82" cy="271.38" r="0.87"/>
<circle cx="339.66" cy="302.77" r="0.93"/>
<circle cx="346.26" cy="243.29" r="1.03"/>
<circle cx="426.79" cy="236.75" r="0.84"/>
<circle cx="423.24" cy="262.82" r="1"/>
<circle cx="398.22" cy="253.32" r="1.17"/>
<circle cx="363.23" cy="258.93" r="0.83"/>
<circle cx="390.26" cy="277.5" r="0.9"/>
<circle cx="438.31" cy="273.79" r="0.89"/>
<circle cx="428.89" cy="252.98" r="1.19"/>
<circle cx="356.58" cy="295.36" r="1.29"/>
<circle cx="434.89" cy="235.85" r="1.25"/>
<circle cx="346.21" cy="309.4" r="0.87"/>
<circle cx="382.96" cy="238.72" r="1.22"/>
<circle cx="364.44" cy="245.18" r="1.03"/>
<circle cx="443.84" cy="252.89" r="1.2"/>
<circle cx="343.82" cy="306.84" r="1.35"/>
<circle cx="381.53" cy="272.41" r="1.25"/>
<circle cx="405.71" cy="257.49" r="1"/>
<circle cx="418.27" cy="240.01" r="0.99"/>
<circle cx="433.51" cy="233.45" r="0.82"/>
<circle cx="360.22" cy="237.84" r="0.95"/>
<circle cx="401.33" cy="242.82" r="1.28"/>
<circle cx="435.6" cy="307.4" r="1.1"/>
<circle cx="350.04" cy="264.1" r="1.3"/>
<circle cx="426.6" cy="240.8" r="1.17"/>
<circle cx="380.67" cy="267.45" r="1.08"/>
<circle cx="442.61" cy="260.62" r="1.38"/>
<circle cx="435.81" cy="309.93" r="0.99"/>
<circle cx="397.11" cy="257.56" r="0.97"/>
<circle cx="411.71" cy="232.84" r="1.45"/>
<circle cx="354.05" cy="299.91" r="1.12"/>
<circle cx="395.54" cy="241.86" r="1.07"/>
<circle cx="441.25" cy="282.13" r="0.86"/>
<circle cx="436.03" cy="301.12" r="0.9"/>
<circle cx="424.17" cy="236.64" r="1.47"/>
<circle cx="377.11" cy="263.42" r="0.99"/>
<circle cx="412.8" cy="263.7" r="0.99"/>
<circle cx="363.2" cy="308.03" r="1.49"/>
<circle cx="412.19" cy="279.06" r="1.31"/>
<circle cx="364.83" cy="237.23" r="1.2"/>
<circle cx="422.5" cy="233.87" r="1.46"/>
<circle cx="348.53" cy="281.3" r="1"/>
<circle cx="416.36" cy="287.5" r="1.32"/>
<circle cx="409.83" cy="303.62" r="0.81"/>
<circle cx="395.14" cy="265.86" r="1.38"/>
<circle cx="382.41" cy="232.6" r="1.17"/>
<circle cx="390.47" cy="304.4" r="0.97"/>
<circle cx="361.14" cy="262.49" r="0.89"/>
<circle cx="441.72" cy="256.8" r="1.1"/>
<circle cx="360.27" cy="275.48" r="1.08"/>
<circle cx="382.92" cy="259.08" r="1.48"/>
<circle cx="348.27" cy="233.88" r="1.41"/>
<circle cx="411.78" cy="258.3" r="1.08"/>
<circle cx="373.44" cy="244.08" r="1.33"/>
<circle cx="377.95" cy="249.34" r="1.22"/>
<circle cx="425.76" cy="255.53" r="0.93"/>
<circle cx="432.63" cy="270.42" r="0.96"/>
<circle cx="437.42" cy="232.68" r="0.87"/>
<circle cx="409.42" cy="259.53" r="1.11"/>
<circle cx="376.88" cy="303.22" r="1.29"/>
<circle cx="426.61" cy="244.08" r="1.04"/>
<circle cx="418.73" cy="233.02" r="0.89"/>
<circle cx="411.78" cy="267.14" r="0.87"/>
<circle cx="422.72" cy="288.96" r="0.87"/>
<circle cx="366.87" cy="241.27" r="1.36"/>
<circle cx="435.17" cy="278.33" r="1.23"/>
<circle cx="381.97" cy="303.94" r="0.82"/>
<circle cx="386.95" cy="283.24" r="1"/>
<circle cx="418.75" cy="286.69" r="0.83"/>
<circle cx="349.88" cy="254.55" r="0.98"/>
<circle cx="350.39" cy="309.16" r="1.15"/>
<circle cx="368.56" cy="291.93" r="1.37"/>
<circle cx="375.6" cy="256.71" r="1.03"/>
<circle cx="341.6" cy="298.76" r="1.33"/>
<circle cx="351.08" cy="267.24" r="1.23"/>
<circle cx="343.85" cy="232.56" r="0.88"/>
<circle cx="339.45" cy="263.49" r="1.26"/>
<circle cx="355.2" cy="303.16" r="0.89"/>
<circle cx="407.33" cy="237.57" r="1.15"/>
<circle cx="384.2" cy="282.38" r="0.97"/>
<circle cx="356.81" cy="268.75" r="0.88"/>
<circle cx="374.46" cy="265.7" r="0.94"/>
<circle cx="398.3" cy="292.57" r="1.37"/>
<circle cx="345.95" cy="266.64" r="1.2"/>
<circle cx="404.29" cy="299.25" r="0.84"/>
<circle cx="402.06" cy="246.97" r="0.87"/>
<circle cx="383.82" cy="300.7" r="1.12"/>
<circle cx="429.1" cy="259.87" r="1.19"/>
<circle cx="399.7" cy="235.24" r="1.02"/>
<circle cx="367.63" cy="246.69" r="0.87"/>
<circle cx="381.95" cy="246.68" r="1.18"/>
<circle cx="407.82" cy="293.27" r="0.94"/>
<circle cx="416.62" cy="283.49" r="0.85"/>
<circle cx="343.12" cy="301.68" r="1.07"/>
<circle cx="433.73" cy="296.94" r="1.23"/>
<circle cx="403.49" cy="258.2" r="0.87"/>
<circle cx="355.21" cy="259.01" r="1.05"/>
<circle cx="347.58" cy="283.32" r="0.85"/>
<circle cx="394.16" cy="244.47" r="1.19"/>
<circle cx="375.65" cy="232.75" r="1.06"/>
<circle cx="412.11" cy="269.69" r="1.35"/>
<circle cx="404.6" cy="249.83" r="0.84"/>
<circle cx="431.69" cy="306.3" r="0.83"/>
<circle cx="407.32" cy="247.41" r="1.11"/>
<circle cx="398.5" cy="239.81" r="0.82"/>
<circle cx="352.67" cy="257.31" r="1.39"/>
<circle cx="392.51" cy="239.9" r="1.07"/>
<circle cx="363.82" cy="286.56" r="0.83"/>
<circle cx="432.77" cy="261.83" r="0.98"/>
<circle cx="433.8" cy="281.38" r="1.2"/>
<circle cx="431.64" cy="256.48" r="1.04"/>
<circle cx="350.93" cy="299.54" r="1.44"/>
<circle cx="375.84" cy="283.86" r="0.94"/>
<circle cx="416.21" cy="247.22" r="1.33"/>
<circle cx="423.65" cy="300.03" r="0.86"/>
<circle cx="429.45" cy="255.89" r="0.9"/>
<circle cx="434.95" cy="259.02" r="0.97"/>
<circle cx="393.79" cy="259.86" r="0.86"/>
<circle cx="422.22" cy="254.87" r="1.4"/>
<circle cx="429" cy="262.81" r="0.91"/>
<circle cx="412.39" cy="260.84" r="1.25"/>
<circle cx="345" cy="234.9" r="1.05"/>
<circle cx="439.64" cy="277.91" r="1.2"/>
<circle cx="411.13" cy="242.35" r="0.84"/>
<circle cx="390.27" cy="285.63" r="1.19"/>
<circle cx="437.63" cy="261.88" r="1"/>
<circle cx="346.21" cy="302.32" r="1.06"/>
<circle cx="415.34" cy="254.24" r="0.87"/>
<circle cx="407.57" cy="281.26" r="0.92"/>
<circle cx="379.26" cy="236.22" r="0.95"/>
<circle cx="379.87" cy="304.73" r="0.85"/>
<circle cx="404.1" cy="244.44" r="1.17"/>
<circle cx="357.46" cy="277.1" r="1.2"/>
<circle cx="372.95" cy="239.4" r="0.9"/>
<circle cx="405.45" cy="241.68" r="0.91"/>
<circle cx="408.78" cy="290.36" r="1.48"/>
<circle cx="354.73" cy="306.96" r="1"/>
<circle cx="377.94" cy="265.83" r="0.92"/>
<circle cx="371.65" cy="299.9" r="0.84"/>
<circle cx="392.41" cy="265.53" r="1.02"/>
<circle cx="441.54" cy="243.13" r="1.12"/>
<circle cx="357" cy="260.9" r="1.14"/>
<circle cx="374.4" cy="290.89" r="0.87"/>
<circle cx="355.51" cy="249.1" r="0.98"/>
<circle cx="390.66" cy="232.49" r="0.89"/>
<circle cx="373.85" cy="285.66" r="0.87"/>
<circle cx="436.68" cy="240.47" r="1.21"/>
<circle cx="365.47" cy="300.24" r="0.85"/>
<circle cx="407.96" cy="271.36" r="0.97"/>
<circle cx="408.06" cy="244.53" r="0.85"/>
<circle cx="401.64" cy="255.45" r="0.95"/>
<circle cx="386.27" cy="306.01" r="0.92"/>
<circle cx="430.13" cy="233.64" r="1.36"/>
<circle cx="352.53" cy="291.55" r="1.26"/>
<circle cx="354.78" cy="309.96" r="0.95"/>
<circle cx="418.17" cy="274.51" r="1.31"/>
<circle cx="389.16" cy="247.54" r="1.02"/>
<circle cx="425" cy="265.39" r="1.09"/>
<circle cx="419.97" cy="236.29" r="0.82"/>
<circle cx="413.05" cy="298.15" r="1.06"/>
<circle cx="384.9" cy="267.15" r="1.11"/>
<circle cx="357.96" cy="299.84" r="0.87"/>
<circle cx="406.74" cy="297.81" r="1.38"/>
<circle cx="365.03" cy="289.22" r="1.23"/>
<circle cx="410.14" cy="262.71" r="0.9"/>
<circle cx="427.41" cy="299.77" r="0.8"/>
<circle cx="350.31" cy="293.17" r="1.09"/>
<circle cx="436.72" cy="246.18" r="1.04"/>
<circle cx="411.02" cy="255.52" r="1.33"/>
<circle cx="439.6" cy="245.21" r="1.35"/>
<circle cx="401.75" cy="236.91" r="1.14"/>
<circle cx="419.21" cy="277.22" r="0.84"/>
<circle cx="414.37" cy="289.94" r="0.84"/>
<circle cx="349.66" cy="236.86" r="1.15"/>
<circle cx="396.54" cy="262.56" r="0.92"/>
<circle cx="399.78" cy="310.24" r="1.28"/>
<circle cx="439.21" cy="290.71" r="1.12"/>
<circle cx="428.79" cy="309.16" r="1.46"/>
<circle cx="425.01" cy="260.24" r="1.16"/>
<circle cx="425.61" cy="286.54" r="1.42"/>
<circle cx="404.53" cy="308.06" r="1.03"/>
<circle cx="442.6" cy="310.22" r="0.81"/>
<circle cx="370.2" cy="248.16" r="1.26"/>
<circle cx="345.73" cy="252.14" r="0.94"/>
<circle cx="385.9" cy="297.97" r="1.11"/>
<circle cx="354.67" cy="261.73" r="0.85"/>
<circle cx="402.67" cy="294.62" r="1.47"/>
<circle cx="442.18" cy="277.46" r="0.83"/>
<circle cx="357.73" cy="280.59" r="1.02"/>
<circle cx="443.96" cy="280.66" r="1.22"/>
<circle cx="343.5" cy="253" r="0.93"/>
<circle cx="432.23" cy="235.9" r="1.04"/>
<circle cx="438.06" cy="235.57" r="1.28"/>
<circle cx="353.55" cy="245.69" r="1.47"/>
<circle cx="443.97" cy="257.63" r="0.99"/>
<circle cx="348.03" cy="241.27" r="1.09"/>
<circle cx="357.46" cy="240.76" r="1.01"/>
<circle cx="432.89" cy="251.29" r="1.19"/>
<circle cx="339.88" cy="245.61" r="1.32"/>
<circle cx="391.32" cy="237.59" r="0.89"/>
<circle cx="376.07" cy="254.3" r="0.94"/>
<circle cx="435.79" cy="304.52" r="0.85"/>
<circle cx="420.31" cy="261.43" r="1.03"/>
<circle cx="416.73" cy="280.71" r="1.05"/>
<circle cx="357.41" cy="273.94" r="1.32"/>
<circle cx="354.39" cy="267.7" r="1.02"/>
<circle cx="426.31" cy="232.87" r="1.01"/>
<circle cx="409" cy="301.41" r="0.88"/>
<circle cx="355.35" cy="271.67" r="1.08"/>
<circle cx="347.43" cy="263.99" r="1.03"/>
<circle cx="377.13" cy="306.5" r="1.16"/>
<circle cx="341.29" cy="305.02" r="1.23"/>
<circle cx="431.12" cy="265.84" r="1.17"/>
<circle cx="413.28" cy="247.43" r="1.13"/>
<circle cx="432.35" cy="310.21" r="1.14"/>
<circle cx="428.69" cy="293.36" r="1.47"/>
<circle cx="358.61" cy="297.54" r="1.19"/>
<circle cx="383.81" cy="235.91" r="1.35"/>
<circle cx="408.16" cy="309.17" r="0.95"/>
<circle cx="385.74" cy="295.6" r="0.97"/>
<circle cx="380.01" cy="275.79" r="1.01"/>
<circle cx="397.92" cy="247.88" r="0.98"/>
<circle cx="408.46" cy="257.14" r="1.19"/>
<circle cx="439.91" cy="248.17" r="0.96"/>
<circle cx="344.82" cy="269.4" r="0.99"/>
<circle cx="405.82" cy="286.65" r="1.44"/>
<circle cx="417.54" cy="236.2" r="1.03"/>
<circle cx="390.84" cy="242.7" r="1.5"/>
<circle cx="352.88" cy="260.38" r="0.96"/>
<circle cx="429.06" cy="272.96" r="1.26"/>
<circle cx="353.09" cy="295.55" r="1.26"/>
<circle cx="339.75" cy="267.47" r="1.09"/>
<circle cx="406.38" cy="260.87" r="1.22"/>
<circle cx="401.8" cy="239.73" r="1.2"/>
<circle cx="392.92" cy="297.99" r="1.03"/>
<circle cx="420.91" cy="264.25" r="1.25"/>
<circle cx="369.85" cy="261.97" r="0.85"/>
<circle cx="372.36" cy="281.83" r="1.31"/>
<circle cx="396.35" cy="232.79" r="1.23"/>
<circle cx="349.06" cy="275.56" r="0.96"/>
<circle cx="443.51" cy="286.15" r="1.05"/>
<circle cx="425.82" cy="282.75" r="1.1"/>
<circle cx="398.64" cy="237.42" r="0.86"/>
<circle cx="443.21" cy="234.92" r="0.93"/>
<circle cx="385.69" cy="233.47" r="0.96"/>
<circle cx="396.1" cy="273.43" r="0.94"/>
<circle cx="409.44" cy="248.97" r="1.17"/>
<circle cx="400.29" cy="288.49" r="1.34"/>
<circle cx="413.11" cy="244.75" r="0.85"/>
<circle cx="433.41" cy="304.05" r="1"/>
<circle cx="380.14" cy="233.52" r="0.96"/>
<circle cx="401.65" cy="252.74" r="1.13"/>
<circle cx="405.2" cy="273.36" r="0.96"/>
<circle cx="410.49" cy="298.18" r="1.16"/>
<circle cx="371.9" cy="265.8" r="1.12"/>
<circle cx="430.66" cy="296.7" r="0.93"/>
<circle cx="390.37" cy="239.43" r="0.83"/>
<circle cx="441.67" cy="266.66" r="1.01"/>
<circle cx="372.03" cy="296.97" r="0.89"/>
<circle cx="385.57" cy="240" r="0.8"/>
<circle cx="374.32" cy="241.39" r="0.82"/>
<circle cx="339.63" cy="300.61" r="0.81"/>
<circle cx="392.78" cy="294.02" r="0.88"/>
<circle cx="364.99" cy="297.93" r="0.92"/>
<circle cx="382.76" cy="270.29" r="0.9"/>
<circle cx="392.57" cy="303.29" r="0.9"/>
<circle cx="374.62" cy="310" r="1.09"/>
<circle cx="341.05" cy="290.95" r="1.08"/>
<circle cx="357.73" cy="271.13" r="0.87"/>
<circle cx="400.31" cy="268.69" r="1.06"/>
<circle cx="416.33" cy="296.35" r="0.85"/>
<circle cx="392.54" cy="262.9" r="1.34"/>
<circle cx="408.3" cy="240.38" r="1.02"/>
<circle cx="417.86" cy="263.1" r="1.21"/>
<circle cx="436.63" cy="298.68" r="0.88"/>
<circle cx="430.19" cy="250.73" r="1.01"/>
<circle cx="354.85" cy="292.91" r="1.07"/>
<circle cx="370.35" cy="245.66" r="0.93"/>
<circle cx="352.23" cy="235.64" r="1.44"/>
<circle cx="443.89" cy="237.13" r="0.93"/>
<circle cx="375.13" cy="287.79" r="0.89"/>
<circle cx="344.67" cy="286.36" r="0.91"/>
<circle cx="404.39" cy="247.82" r="0.81"/>
<circle cx="400.72" cy="271.78" r="0.98"/>
<circle cx="352.1" cy="232.51" r="1.05"/>
<circle cx="416.56" cy="306.44" r="0.98"/>
<circle cx="367.59" cy="244" r="0.95"/>
<circle cx="345.66" cy="304.79" r="0.94"/>
<circle cx="417.68" cy="255.03" r="1.09"/>
<circle cx="426.21" cy="272.03" r="1.01"/>
<circle cx="368.93" cy="282.57" r="0.86"/>
<circle cx="365.07" cy="275.02" r="1.36"/>
<circle cx="372.32" cy="276.67" r="0.86"/>
<circle cx="444.28" cy="263.8" r="1.1"/>
<circle cx="345.71" cy="245.83" r="1.16"/>
<circle cx="376.47" cy="251.36" r="1.01"/>
<circle cx="431.69" cy="259.73" r="0.99"/>
<circle cx="443.56" cy="270.06" r="1.46"/>
<circle cx="416.95" cy="278.22" r="1.02"/>
<circle cx="381.4" cy="240.73" r="0.99"/>
<circle cx="426.7" cy="262.19" r="1.06"/>
<circle cx="426.8" cy="257.46" r="0.95"/>
<circle cx="391.35" cy="300.55" r="1.02"/>
<circle cx="371.35" cy="260.14" r="0.88"/>
<circle cx="439.61" cy="271.89" r="0.89"/>
<circle cx="348.93" cy="252.09" r="0.99"/>
<circle cx="437.54" cy="250.08" r="0.95"/>
<circle cx="396.19" cy="245.8" r="0.96"/>
<circle cx="425.3" cy="301.82" r="0.96"/>
<circle cx="389.17" cy="233.95" r="0.89"/>
<circle cx="441.04" cy="233.22" r="1.04"/>
<circle cx="369.19" cy="302.21" r="0.86"/>
<circle cx="358.44" cy="291.31" r="0.82"/>
<circle cx="366.51" cy="309.57" r="1.11"/>
<circle cx="375.46" cy="235.47" r="0.85"/>
<circle cx="343.93" cy="310.1" r="0.95"/>
<circle cx="394.9" cy="256.19" r="0.87"/>
<circle cx="439.16" cy="260.24" r="0.95"/>
<circle cx="424.01" cy="242.56" r="0.94"/>
<circle cx="387.49" cy="286.01" r="1"/>
<circle cx="427.84" cy="238.58" r="0.93"/>
<circle cx="435.46" cy="262.35" r="0.8"/>
<circle cx="364.74" cy="232.6" r="0.93"/>
<circle cx="369.94" cy="254.6" r="0.88"/>
<circle cx="356.87" cy="247" r="0.8"/>
<circle cx="369.34" cy="237.71" r="0.73"/>
<circle cx="381.59" cy="249.48" r="0.54"/>
<circle cx="364.76" cy="259.92" r="0.47"/>
<circle cx="357.48" cy="249.74" r="0.73"/>
<circle cx="378.7" cy="269.36" r="0.54"/>
<circle cx="348.41" cy="302.82" r="0.53"/>
<circle cx="339.52" cy="235.7" r="0.48"/>
<circle cx="339.98" cy="253.07" r="0.54"/>
<circle cx="425.95" cy="279.76" r="0.61"/>
<circle cx="382.54" cy="242.35" r="0.51"/>
<circle cx="397.9" cy="243.98" r="0.78"/>
<circle cx="348.14" cy="309.07" r="0.63"/>
<circle cx="405.21" cy="295.84" r="0.45"/>
<circle cx="395.77" cy="254.45" r="0.61"/>
<circle cx="396.59" cy="259.64" r="0.68"/>
<circle cx="419.28" cy="245.43" r="0.47"/>
<circle cx="374.75" cy="307.15" r="0.57"/>
<circle cx="362.4" cy="288.87" r="0.55"/>
<circle cx="384.95" cy="248.12" r="0.76"/>
<circle cx="443.5" cy="303.57" r="0.48"/>
<circle cx="398.79" cy="290.1" r="0.47"/>
<circle cx="368.46" cy="294.45" r="0.65"/>
<circle cx="352.41" cy="287.89" r="0.63"/>
<circle cx="436.95" cy="303.17" r="0.5"/>
<circle cx="376.8" cy="291.93" r="0.55"/>
<circle cx="436.59" cy="237.9" r="0.77"/>
<circle cx="400.79" cy="292.75" r="0.62"/>
<circle cx="350.22" cy="239.63" r="0.49"/>
<circle cx="368.25" cy="289.73" r="0.59"/>
<circle cx="420.61" cy="289.56" r="0.78"/>
<circle cx="380.53" cy="239.16" r="0.51"/>
<circle cx="409.3" cy="242.73" r="0.48"/>
<circle cx="409.17" cy="296.45" r="0.57"/>
<circle cx="387.14" cy="269.13" r="0.7"/>
<circle cx="376.77" cy="267.35" r="0.5"/>
<circle cx="358.36" cy="254.11" r="0.69"/>
<circle cx="399.26" cy="296.39" r="0.48"/>
<circle cx="363.51" cy="267.03" r="0.73"/>
<circle cx="433.28" cy="264.6" r="0.46"/>
<circle cx="437.5" cy="243.15" r="0.79"/>
<circle cx="363.47" cy="261.64" r="0.55"/>
<circle cx="443.48" cy="244.93" r="0.57"/>
<circle cx="378.91" cy="271.9" r="0.7"/>
<circle cx="352.78" cy="248.41" r="0.46"/>
<circle cx="411.16" cy="300.59" r="0.74"/>
<circle cx="379.34" cy="285.09" r="0.52"/>
<circle cx="387.82" cy="275.28" r="0.74"/>
<circle cx="368.42" cy="274.75" r="0.57"/>
<circle cx="391.06" cy="306.07" r="0.46"/>
<circle cx="352.85" cy="269.6" r="0.67"/>
<circle cx="360.66" cy="300.4" r="0.77"/>
<circle cx="428.26" cy="284.26" r="0.56"/>
<circle cx="389.81" cy="254.99" r="0.71"/>
<circle cx="398.03" cy="286.17" r="0.57"/>
<circle cx="383.5" cy="240.75" r="0.57"/>
<circle cx="362.77" cy="263.44" r="0.48"/>
<circle cx="385.51" cy="292.99" r="0.48"/>
<circle cx="423.12" cy="249.17" r="0.52"/>
<circle cx="343.94" cy="299.4" r="0.6"/>
<circle cx="398.59" cy="255.42" r="0.58"/>
<circle cx="353.36" cy="264.81" r="0.58"/>
<circle cx="368.03" cy="254.34" r="0.69"/>
<circle cx="376.23" cy="308.73" r="0.58"/>
<circle cx="417.33" cy="294.09" r="0.52"/>
<circle cx="346.43" cy="278.51" r="0.52"/>
<circle cx="343.38" cy="245.56" r="0.65"/>
<circle cx="389.74" cy="289.95" r="0.52"/>
<circle cx="420.73" cy="273.92" r="0.45"/>
<circle cx="398.88" cy="250.9" r="0.58"/>
<circle cx="408.3" cy="250.85" r="0.49"/>
<circle cx="362.26" cy="302.95" r="0.72"/>
<circle cx="414.9" cy="245.14" r="0.66"/>
<circle cx="403.27" cy="254.16" r="0.77"/>
<circle cx="444.48" cy="283.52" r="0.5"/>
<circle cx="408.28" cy="234.21" r="0.67"/>
<circle cx="432.68" cy="279.1" r="0.68"/>
<circle cx="340.03" cy="281.04" r="0.67"/>
<circle cx="431.06" cy="238.72" r="0.47"/>
<circle cx="409.3" cy="268.32" r="0.63"/>
<circle cx="392.67" cy="305.74" r="0.49"/>
<circle cx="369.64" cy="267.95" r="0.53"/>
<circle cx="400.58" cy="266.4" r="0.66"/>
<circle cx="411.84" cy="290.06" r="0.58"/>
<circle cx="437.75" cy="277.22" r="0.56"/>
<circle cx="440.86" cy="304.36" r="0.6"/>
<circle cx="421.75" cy="291.07" r="0.75"/>
<circle cx="436.88" cy="251.96" r="0.47"/>
<circle cx="340.54" cy="233.58" r="0.58"/>
<circle cx="427.85" cy="265.04" r="0.46"/>
<circle cx="351.93" cy="262.27" r="0.78"/>
<circle cx="358.76" cy="262.62" r="0.56"/>
<circle cx="426.69" cy="252.57" r="0.71"/>
<circle cx="356.52" cy="238.69" r="0.66"/>
<circle cx="387.5" cy="299.68" r="0.68"/>
<circle cx="441.15" cy="269.52" r="0.64"/>
<circle cx="415.45" cy="292.9" r="0.49"/>
<circle cx="399.66" cy="246.83" r="0.76"/>
<circle cx="349.25" cy="291.49" r="0.56"/>
<circle cx="392" cy="246.58" r="0.74"/>
<circle cx="400.28" cy="250.18" r="0.52"/>
<circle cx="431.01" cy="307.86" r="0.59"/>
<circle cx="415.69" cy="294.6" r="0.74"/>
<circle cx="344.49" cy="291.86" r="0.55"/>
<circle cx="418.73" cy="284.94" r="0.52"/>
<circle cx="423.45" cy="247.33" r="0.64"/>
<circle cx="394.38" cy="308.84" r="0.59"/>
<circle cx="391.39" cy="234.53" r="0.58"/>
<circle cx="403.93" cy="296.82" r="0.63"/>
<circle cx="399.6" cy="243.91" r="0.49"/>
<circle cx="378.72" cy="291.45" r="0.67"/>
<circle cx="397.38" cy="278.76" r="0.61"/>
<circle cx="398.85" cy="279.37" r="0.55"/>
<circle cx="409.73" cy="245.72" r="0.73"/>
<circle cx="376.9" cy="297.32" r="0.5"/>
<circle cx="366.47" cy="282.68" r="0.65"/>
<circle cx="354.72" cy="290.14" r="0.63"/>
<circle cx="404.22" cy="237.37" r="0.47"/>
<circle cx="397.62" cy="309.73" r="0.5"/>
<circle cx="388.23" cy="267.37" r="0.57"/>
<circle cx="425.61" cy="299.5" r="0.56"/>
<circle cx="402.24" cy="308.97" r="0.48"/>
<circle cx="355.76" cy="305.42" r="0.51"/>
<circle cx="352.59" cy="298.01" r="0.51"/>
<circle cx="347.98" cy="244.45" r="0.76"/>
<circle cx="359.82" cy="240.63" r="0.57"/>
<circle cx="348.8" cy="300.53" r="0.6"/>
<circle cx="409.32" cy="279.74" r="0.53"/>
<circle cx="402.33" cy="266.35" r="0.78"/>
<circle cx="415.85" cy="304" r="0.52"/>
<circle cx="398.59" cy="303.36" r="0.5"/>
<circle cx="392.35" cy="277.58" r="0.77"/>
<circle cx="382.5" cy="255.86" r="0.59"/>
<circle cx="387.61" cy="281.32" r="0.53"/>
<circle cx="409.91" cy="273.21" r="0.63"/>
<circle cx="369.72" cy="250.4" r="0.49"/>
<circle cx="351.05" cy="281.07" r="0.56"/>
<circle cx="419.14" cy="256.87" r="0.77"/>
<circle cx="347.47" cy="303.69" r="0.46"/>
<circle cx="402.05" cy="244.97" r="0.61"/>
<circle cx="409.63" cy="266.39" r="0.76"/>
<circle cx="439.64" cy="242.02" r="0.55"/>
<circle cx="360.63" cy="298.45" r="0.46"/>
<circle cx="389.01" cy="258.24" r="0.53"/>
<circle cx="410.6" cy="247.36" r="0.56"/>
<circle cx="418.1" cy="265.68" r="0.72"/>
<circle cx="339.53" cy="250.11" r="0.62"/>
<circle cx="398.58" cy="266.16" r="0.59"/>
<circle cx="439.45" cy="256.87" r="0.48"/>
<circle cx="409.83" cy="251.26" r="0.47"/>
<circle cx="341.02" cy="262" r="0.63"/>
<circle cx="392.31" cy="285.02" r="0.59"/>
<circle cx="348.52" cy="278.25" r="0.56"/>
<circle cx="433.39" cy="308.43" r="0.61"/>
<circle cx="423.66" cy="257.22" r="0.59"/>
<circle cx="348.75" cy="267.07" r="0.74"/>
<circle cx="382.8" cy="244.56" r="0.67"/>
<circle cx="405.98" cy="293.92" r="0.57"/>
<circle cx="444.54" cy="275.96" r="0.76"/>
<circle cx="410.66" cy="301.99" r="0.49"/>
<circle cx="341.75" cy="308.27" r="0.57"/>
<circle cx="398.27" cy="233.8" r="0.54"/>
<circle cx="385.23" cy="269.32" r="0.49"/>
<circle cx="394.73" cy="263.02" r="0.53"/>
<circle cx="366.31" cy="295.43" r="0.71"/>
<circle cx="436.8" cy="259.33" r="0.47"/>
<circle cx="420.71" cy="299.43" r="0.69"/>
<circle cx="417.62" cy="245.6" r="0.46"/>
<circle cx="436.64" cy="294.25" r="0.58"/>
<circle cx="346.01" cy="306.49" r="0.52"/>
<circle cx="410.16" cy="278.23" r="0.52"/>
<circle cx="421.56" cy="243.19" r="0.55"/>
<circle cx="344.53" cy="263.2" r="0.64"/>
<circle cx="406.41" cy="307.74" r="0.49"/>
<circle cx="359.12" cy="251.94" r="0.5"/>
<circle cx="371.2" cy="292.82" r="0.59"/>
<circle cx="379.93" cy="279.57" r="0.78"/>
<circle cx="444.12" cy="255.48" r="0.76"/>
<circle cx="420.6" cy="292.71" r="0.7"/>
<circle cx="382.81" cy="267.68" r="0.54"/>
<circle cx="342.71" cy="261.9" r="0.79"/>
<circle cx="396.5" cy="251.49" r="0.51"/>
<circle cx="375.02" cy="249.74" r="0.54"/>
<circle cx="366.24" cy="268.31" r="0.68"/>
<circle cx="413.29" cy="255.19" r="0.69"/>
<circle cx="417.33" cy="285.35" r="0.47"/>
<circle cx="405.99" cy="300.26" r="0.65"/>
<circle cx="406.26" cy="282.51" r="0.56"/>
<circle cx="374.34" cy="298.19" r="0.77"/>
<circle cx="349.26" cy="279.48" r="0.55"/>
<circle cx="415.79" cy="264.23" r="0.52"/>
<circle cx="388.24" cy="278.75" r="0.55"/>
<circle cx="394.17" cy="261.51" r="0.54"/>
<circle cx="427.9" cy="289.96" r="0.61"/>
<circle cx="347.98" cy="274.02" r="0.52"/>
<circle cx="432.66" cy="267.53" r="0.5"/>
<circle cx="394.76" cy="247.18" r="0.64"/>
<circle cx="382.15" cy="288.3" r="0.65"/>
<circle cx="399.69" cy="297.97" r="0.62"/>
<circle cx="398.32" cy="241.76" r="0.64"/>
<circle cx="343.58" cy="277.96" r="0.57"/>
<circle cx="401.44" cy="234.39" r="0.65"/>
<circle cx="404.14" cy="259.89" r="0.48"/>
<circle cx="396.55" cy="239.45" r="0.69"/>
<circle cx="377.04" cy="234.53" r="0.73"/>
<circle cx="346.07" cy="236.33" r="0.49"/>
<circle cx="356.08" cy="291.22" r="0.48"/>
<circle cx="376.2" cy="260.03" r="0.55"/>
<circle cx="377.81" cy="256.33" r="0.47"/>
<circle cx="439.14" cy="240.29" r="0.46"/>
<circle cx="433.05" cy="277.4" r="0.72"/>
<circle cx="356.16" cy="255.83" r="0.51"/>
<circle cx="356.15" cy="281.53" r="0.56"/>
<circle cx="359.79" cy="283.12" r="0.61"/>
<circle cx="347.55" cy="279.72" r="0.6"/>
<circle cx="416.93" cy="233.13" r="0.49"/>
<circle cx="403.48" cy="271.53" r="0.51"/>
<circle cx="352.99" cy="303.29" r="0.62"/>
<circle cx="353.93" cy="282.44" r="0.61"/>
<circle cx="355.67" cy="242.74" r="0.47"/>
<circle cx="442.51" cy="305.48" r="0.72"/>
<circle cx="352.87" cy="242.62" r="0.51"/>
<circle cx="370.74" cy="251.31" r="0.53"/>
<circle cx="422.52" cy="266.42" r="0.61"/>
<circle cx="407.31" cy="273.45" r="0.71"/>
<circle cx="362.68" cy="273.83" r="0.6"/>
<circle cx="421.99" cy="310.06" r="0.74"/>
<circle cx="400.62" cy="306.59" r="0.64"/>
<circle cx="388.47" cy="253.7" r="0.49"/>
<circle cx="342.02" cy="234.14" r="0.69"/>
<circle cx="441.09" cy="280.11" r="0.55"/>
<circle cx="414.02" cy="296.08" r="0.55"/>
<circle cx="393.4" cy="242.01" r="0.66"/>
<circle cx="427.51" cy="281.07" r="0.79"/>
<circle cx="379.31" cy="296.44" r="0.58"/>
<circle cx="341.09" cy="251.82" r="0.7"/>
<circle cx="441.05" cy="240.68" r="0.56"/>
<circle cx="430.16" cy="257.96" r="0.53"/>
<circle cx="436.25" cy="287.43" r="0.54"/>
<circle cx="381.64" cy="236.75" r="0.49"/>
<circle cx="409.14" cy="264.21" r="0.52"/>
<circle cx="342.03" cy="279.4" r="0.79"/>
<circle cx="373.37" cy="232.91" r="0.51"/>
<circle cx="376.08" cy="264.83" r="0.49"/>
<circle cx="390.16" cy="266.1" r="0.57"/>
<circle cx="369.08" cy="269.15" r="0.47"/>
<circle cx="410.07" cy="270.4" r="0.55"/>
<circle cx="339.68" cy="306.9" r="0.46"/>
<circle cx="397.14" cy="249.71" r="0.46"/>
<circle cx="396.83" cy="255.82" r="0.54"/>
<circle cx="347.01" cy="250.39" r="0.57"/>
<circle cx="383.61" cy="305.04" r="0.64"/>
<circle cx="410.88" cy="271.87" r="0.54"/>
<circle cx="371" cy="263.47" r="0.62"/>
<circle cx="444.47" cy="299.59" r="0.67"/>
<circle cx="353.4" cy="308.69" r="0.52"/>
<circle cx="441.83" cy="245.22" r="0.54"/>
<circle cx="405.64" cy="239.09" r="0.51"/>
<circle cx="367.37" cy="281.47" r="0.54"/>
<circle cx="416.69" cy="252.53" r="0.77"/>
<circle cx="361.94" cy="304.65" r="0.64"/>
<circle cx="351.15" cy="242.03" r="0.5"/>
<circle cx="351.04" cy="238.48" r="0.63"/>
<circle cx="437.3" cy="285.59" r="0.52"/>
<circle cx="361.9" cy="286.94" r="0.69"/>
<circle cx="432.69" cy="240.32" r="0.64"/>
<circle cx="386.69" cy="247" r="0.66"/>
<circle cx="418.03" cy="282.38" r="0.49"/>
<circle cx="403.05" cy="278.06" r="0.45"/>
<circle cx="431.54" cy="271.91" r="0.47"/>
<circle cx="437.45" cy="296.83" r="0.49"/>
<circle cx="403.88" cy="275.39" r="0.59"/>
<circle cx="403.31" cy="310.07" r="0.73"/>
<circle cx="370.48" cy="275.51" r="0.48"/>
<circle cx="434.64" cy="302.19" r="0.45"/>
<circle cx="369.4" cy="304.46" r="0.48"/>
<circle cx="442.9" cy="233.01" r="0.49"/>
<circle cx="398.32" cy="259.72" r="0.53"/>
<circle cx="418.42" cy="246.78" r="0.6"/>
<circle cx="443.68" cy="308.58" r="0.58"/>
<circle cx="361.26" cy="285.14" r="0.59"/>
<circle cx="415.96" cy="272.12" r="0.74"/>
<circle cx="438.87" cy="284.59" r="0.5"/>
<circle cx="407.28" cy="249.68" r="0.73"/>
<circle cx="402.17" cy="297.06" r="0.48"/>
<circle cx="354.37" cy="297.73" r="0.47"/>
<circle cx="392.57" cy="232.53" r="0.61"/>
<circle cx="424.74" cy="304.66" r="0.72"/>
<circle cx="429.79" cy="240.48" r="0.68"/>
<circle cx="402.48" cy="270.07" r="0.78"/>
<circle cx="384.52" cy="294.07" r="0.5"/>
<circle cx="382.73" cy="262.59" r="0.6"/>
<circle cx="434.45" cy="299.82" r="0.49"/>
<circle cx="352.11" cy="307.15" r="0.51"/>
<circle cx="399.05" cy="294.79" r="0.55"/>
<circle cx="348.09" cy="254.1" r="0.59"/>
<circle cx="426.17" cy="274.98" r="0.66"/>
<circle cx="427.31" cy="274.13" r="0.5"/>
<circle cx="363.53" cy="256.72" r="0.69"/>
<circle cx="366.54" cy="254.9" r="0.62"/>
<circle cx="373.38" cy="307.66" r="0.63"/>
</g>
</g>
<g clip-path="url(#c2)">
<rect x="448.6" y="232.4" width="104.8" height="77.9" fill="#e6dcab"/>
<defs><linearGradient id="t2" x1="0" y1="1" x2="1" y2="0"><stop offset="0" stop-color="#e4e29a"/><stop offset="0.5" stop-color="#e8dea9"/><stop offset="1" stop-color="#e9d6ae"/></linearGradient></defs><rect x="448.6" y="232.4" width="104.8" height="77.9" fill="url(#t2)"/><ellipse cx="525.6" cy="291.6" rx="1.8" ry="2.2" fill="#c9c24a"/>
<g opacity="0.4"><rect x="448.6" y="232.4" width="104.8" height="77.9" filter="url(#nz1)"/></g>
<rect x="448.6" y="232.4" width="104.8" height="77.9" filter="url(#nz1b)"/>
<g fill="none" stroke="#e0222a" stroke-opacity="0.9" stroke-linecap="round" stroke-linejoin="round" filter="url(#bl)">
<path d="M461.34 260.87L465.79 260.34L468.16 263.87" stroke-width="0.8"/>
<path d="M472.96 245.59L470.55 242.9L467.08 239.25L465.8 235.38" stroke-width="0.71"/>
<path d="M495.56 253.78L497.28 250.87L501.05 247.2" stroke-width="0.81"/>
<path d="M466.92 252.74L464.39 252.32L460.33 256.45L458.44 258.47" stroke-width="0.97"/>
<path d="M478.95 253.87L482.25 251.5L483.65 250.11L486.27 248.46L487.72 246.33" stroke-width="0.8"/>
<path d="M474.73 250.72L473.46 253.47L475.52 257.14L477.23 260.32L479.23 261.31" stroke-width="0.46"/>
<path d="M467.16 240.01L465.42 242.32L464.18 244.8L465.46 247.99L464.97 249.16L463.4 249.37" stroke-width="0.51"/>
<path d="M489.82 243.41L491.34 243.2L493.52 243.21L494.35 242.13L495.5 241.58L498.53 241.32" stroke-width="0.74"/>
<path d="M457.68 260.09L456.43 258.22L453.88 258.43L449.82 259.82" stroke-width="0.86"/>
<path d="M467.57 260.95L470.26 259.03L469.99 255.53L471.69 252.38L472.7 251.1L474.94 251.41" stroke-width="0.5"/>
<path d="M480.27 246.92L478.06 247.93L473.47 247.67L469.99 245.59" stroke-width="0.5"/>
<path d="M496.43 248.92L496.12 247.27L495.68 245.88L496.23 243.03L496.76 241.89L497.06 239.68" stroke-width="0.5"/>
<path d="M498.39 254.67L495.09 254.6L491.13 255.56L489.17 258.04" stroke-width="0.61"/>
<path d="M453.99 241.63L454.7 239.85L456.35 236.72L457.02 233.32L459.02 231.94L462.33 230.8" stroke-width="0.88"/>
<path d="M464.79 257.37L466.65 260.04L466 262.06L465.77 264.7L463.17 266.33" stroke-width="0.83"/>
<path d="M467.79 252.28L464.64 252.71L463.26 252.87L461.69 254.68L458.12 254.87L455.84 253.43" stroke-width="0.9"/>
<path d="M499.34 240.22L499.27 236.06L498.73 233.53L501.54 230.87L503.74 230.4" stroke-width="0.9"/>
<path d="M479.83 256.89L474.59 257.87L467 256.67" stroke-width="1"/>
<path d="M496.02 255.59L496.73 257.83L498.79 262.9L496.03 267.89" stroke-width="0.5"/>
<path d="M480.35 257.95L480.47 253.95L478.98 252.74L478.02 248.36L476.02 247.47" stroke-width="0.47"/>
<path d="M489.51 238.67L486 236.37L485.75 233.05L485.32 231.13L486.49 229.58" stroke-width="0.85"/>
<path d="M453.26 248.03L456.02 248.47L456.95 250.5L456.42 253.15" stroke-width="0.54"/>
<path d="M481.98 240.86L484.28 242.67L485.76 242.29L487.42 242.8L488.96 242.29L489.93 240.25" stroke-width="0.83"/>
<path d="M472.42 252.04L471.09 255.11L468.31 255.78L466.7 254.02L463.93 252.38L462.33 251.29" stroke-width="0.82"/>
<path d="M473.79 235.84L475.61 234.24L478.03 234.03L480.16 235.46L481.59 235.98L483.81 236.72" stroke-width="0.61"/>
<path d="M451.6 258.07L448.16 259.11L446.23 259.17L444.62 258.51L441.53 259.49" stroke-width="0.52"/>
<path d="M503.47 263.8L506.94 265.76L509.51 268.14" stroke-width="0.68"/>
<path d="M516.51 279.77L515.79 281.12L516.02 282.07L517.94 283.17L517.91 284.16L517.02 286.05" stroke-width="0.66"/>
<path d="M528.54 256.22L527.22 257.8L525.73 257.76L524.81 258.06L523.91 257.93L521.67 258.06" stroke-width="0.65"/>
<path d="M485.65 257.65L487.47 256.31L490.46 256.14" stroke-width="0.65"/>
<path d="M496.16 287.16L499.1 290.43L500.91 292.82" stroke-width="0.37"/>
<path d="M488.57 281.42L485.98 279.86L485.95 278.23L486.25 275.23" stroke-width="0.4"/>
<path d="M492.76 291.77L495.38 294.46L495.04 297.3" stroke-width="0.53"/>
<path d="M518.48 285.05L516.92 282.89L517.7 279.36" stroke-width="0.42"/>
<path d="M488.93 289.61L489.75 288.49L490.32 287.41L490.82 286.11L489.86 284.53L487.81 284.21" stroke-width="0.36"/>
<path d="M520.94 283.34L519.29 283.13L517.72 282.36L516.29 279.99" stroke-width="0.68"/>
<path d="M508.83 253.26L510.86 255.31L511.02 256.92L512.03 257.82L513.24 257.77" stroke-width="0.51"/>
<path d="M521.26 260.24L523.14 259.49L525.03 257.25L526.63 256.72L527.38 254.96" stroke-width="0.4"/>
<path d="M508.91 282.77L507.57 281.04L506.27 278.31L503.6 275.59" stroke-width="0.45"/>
<path d="M485.06 282.93L486.85 281.92L486.83 279.98L486.51 277.1" stroke-width="0.49"/>
<path d="M487.52 268.69L489.42 270.09L488.59 275.61" stroke-width="0.54"/>
<path d="M506.79 271.17L511.04 272.31L511.8 274.69" stroke-width="0.43"/>
<path d="M530.86 287.01L529.04 286.22L526.42 286.44L525.54 288.21" stroke-width="0.38"/>
<path d="M546.1 298.09L544.78 298.2L543.89 298.51L542.74 298.46L541.49 297.85L540.06 298.38" stroke-width="0.69"/>
<path d="M546.78 293.47L548.77 292.84L551.34 294.59" stroke-width="0.62"/>
<path d="M517.61 295.33L517.22 296.58L516.53 296.96L516.05 297.95L516.69 298.96L516.5 300.33" stroke-width="0.54"/>
<path d="M542.21 277.24L541.97 276.29L543.32 274.94L544.67 273.17L544.63 271.9" stroke-width="0.69"/>
</g>
<g fill="#fdf8d8" stroke="#c4ad78" stroke-width="0.2">
<circle cx="508.37" cy="281.65" r="2.61"/>
<circle cx="468.15" cy="283.17" r="2.85"/>
<circle cx="481.01" cy="271.05" r="2.97"/>
<circle cx="460.89" cy="236.76" r="2.61"/>
<circle cx="470.96" cy="302.25" r="2.44"/>
<circle cx="482.31" cy="251.3" r="2.31"/>
<circle cx="503.59" cy="256.11" r="2.5"/>
<circle cx="507.25" cy="242.05" r="2.43"/>
<circle cx="481.77" cy="236.89" r="2.52"/>
<circle cx="486.12" cy="274.39" r="2.64"/>
<circle cx="455.96" cy="269.88" r="3.16"/>
<circle cx="460.23" cy="300.39" r="2.9"/>
<circle cx="495.09" cy="256.96" r="1.86"/>
<circle cx="465.7" cy="270.96" r="1.33"/>
<circle cx="457.77" cy="279.28" r="1.67"/>
<circle cx="492.83" cy="271.89" r="2"/>
<circle cx="549.39" cy="269.94" r="1.62"/>
<circle cx="468.02" cy="287.84" r="1.53"/>
<circle cx="513.95" cy="291.66" r="1.97"/>
<circle cx="494.08" cy="295.47" r="2"/>
<circle cx="472.49" cy="239.58" r="1.77"/>
<circle cx="508.65" cy="247.87" r="2.06"/>
<circle cx="456.09" cy="304.57" r="1.76"/>
<circle cx="552.94" cy="285.35" r="2.05"/>
<circle cx="491.93" cy="303.8" r="1.41"/>
<circle cx="487.01" cy="294.67" r="1.99"/>
<circle cx="513.44" cy="257.86" r="1.57"/>
<circle cx="457.2" cy="248.22" r="1.38"/>
<circle cx="492.04" cy="242.54" r="1.74"/>
<circle cx="496.82" cy="282.19" r="1.32"/>
<circle cx="456.84" cy="258.67" r="1.5"/>
<circle cx="480.72" cy="297.35" r="1.66"/>
<circle cx="488.74" cy="254.37" r="1.48"/>
<circle cx="453.03" cy="244.82" r="1.58"/>
<circle cx="460.87" cy="308.03" r="2.07"/>
<circle cx="489.04" cy="300.67" r="1.8"/>
<circle cx="468.36" cy="247.93" r="1.64"/>
<circle cx="495.13" cy="263.52" r="1.91"/>
<circle cx="465.19" cy="249.42" r="1.43"/>
<circle cx="488.82" cy="269.53" r="1.64"/>
<circle cx="503.35" cy="302.81" r="1.76"/>
<circle cx="504.24" cy="262.21" r="1.93"/>
<circle cx="496.63" cy="303.72" r="1.5"/>
<circle cx="469.01" cy="267.49" r="1.5"/>
<circle cx="511.66" cy="300.25" r="1.58"/>
<circle cx="483.57" cy="246.37" r="1.87"/>
<circle cx="462.37" cy="246.19" r="1.6"/>
<circle cx="480.2" cy="255.51" r="1.77"/>
<circle cx="481.26" cy="278.51" r="1.73"/>
<circle cx="517.47" cy="264.47" r="1.8"/>
<circle cx="478.89" cy="245.25" r="1.46"/>
<circle cx="468.67" cy="258.65" r="2.07"/>
<circle cx="481.5" cy="291.18" r="2.05"/>
<circle cx="521.17" cy="271.21" r="1.81"/>
<circle cx="463.17" cy="241.14" r="1.97"/>
<circle cx="474.55" cy="294.03" r="1.47"/>
<circle cx="505.9" cy="291.45" r="1.85"/>
<circle cx="486.28" cy="261.81" r="1.3"/>
<circle cx="474.13" cy="309.56" r="1.63"/>
<circle cx="451.05" cy="303.51" r="1.32"/>
<circle cx="504.27" cy="245.97" r="2.06"/>
<circle cx="500.25" cy="238.65" r="1.95"/>
<circle cx="488.46" cy="287.13" r="2.04"/>
<circle cx="488.21" cy="280.6" r="1.55"/>
<circle cx="487.47" cy="248.43" r="1.82"/>
<circle cx="472.06" cy="285.76" r="1.48"/>
<circle cx="472.23" cy="245.07" r="1.96"/>
<circle cx="541.76" cy="232.88" r="1.66"/>
<circle cx="482.05" cy="307.23" r="1.69"/>
<circle cx="477.13" cy="276.07" r="1.41"/>
<circle cx="493.68" cy="309.62" r="1.92"/>
<circle cx="541.11" cy="269.75" r="1.93"/>
<circle cx="509.89" cy="290.38" r="1.68"/>
<circle cx="455.33" cy="292.62" r="1.92"/>
<circle cx="500.61" cy="263.39" r="1.36"/>
<circle cx="497.06" cy="277.6" r="2.02"/>
<circle cx="487.51" cy="307.3" r="1.61"/>
<circle cx="507.48" cy="260.62" r="1.32"/>
<circle cx="542.65" cy="260.4" r="1.37"/>
<circle cx="527.82" cy="289.68" r="2.05"/>
<circle cx="463.29" cy="278.63" r="1.62"/>
<circle cx="491.98" cy="251.42" r="1.48"/>
<circle cx="476.13" cy="268.65" r="1.52"/>
<circle cx="467.64" cy="292.75" r="1.4"/>
<circle cx="455.8" cy="237.42" r="1.94"/>
<circle cx="515.36" cy="298.29" r="2.01"/>
<circle cx="488.6" cy="235.7" r="1.49"/>
<circle cx="497.36" cy="267.42" r="1.53"/>
<circle cx="478.57" cy="285.24" r="1.84"/>
<circle cx="452.88" cy="285.07" r="1.91"/>
<circle cx="538.26" cy="290.89" r="1.88"/>
<circle cx="477.59" cy="249.29" r="1.89"/>
<circle cx="504.78" cy="274.19" r="0.73"/>
<circle cx="540.44" cy="273.24" r="0.84"/>
<circle cx="459.97" cy="251.45" r="1.22"/>
<circle cx="510.4" cy="267.85" r="1.04"/>
<circle cx="459.94" cy="282.51" r="0.79"/>
<circle cx="500.57" cy="253.11" r="0.82"/>
<circle cx="505.69" cy="232.81" r="1.06"/>
<circle cx="500.99" cy="284.01" r="1.04"/>
<circle cx="475.49" cy="304.38" r="0.72"/>
<circle cx="516.6" cy="302.31" r="0.86"/>
<circle cx="532.28" cy="274.11" r="1.08"/>
<circle cx="475.42" cy="234.38" r="0.89"/>
<circle cx="514.96" cy="246.64" r="1.07"/>
<circle cx="536.3" cy="283.77" r="1.18"/>
<circle cx="468.72" cy="253.85" r="0.95"/>
<circle cx="464.57" cy="302.39" r="0.71"/>
<circle cx="484.77" cy="259.16" r="1.1"/>
<circle cx="498.55" cy="301.39" r="1.17"/>
<circle cx="483.68" cy="256.08" r="0.96"/>
<circle cx="514.69" cy="236.62" r="1.13"/>
<circle cx="507.17" cy="272.7" r="0.92"/>
<circle cx="454.77" cy="280.01" r="0.85"/>
<circle cx="464.62" cy="290.83" r="1.02"/>
<circle cx="502.18" cy="278.15" r="0.84"/>
<circle cx="490.51" cy="309.06" r="0.82"/>
<circle cx="545.6" cy="249.27" r="0.89"/>
<circle cx="514.03" cy="305.54" r="0.79"/>
<circle cx="505.38" cy="306.8" r="0.71"/>
<circle cx="474.73" cy="259.8" r="0.76"/>
<circle cx="494.75" cy="300.45" r="0.8"/>
<circle cx="519.62" cy="260.96" r="0.75"/>
<circle cx="519.54" cy="233.57" r="0.82"/>
<circle cx="521.04" cy="297.04" r="1.21"/>
<circle cx="538.5" cy="235.86" r="1.16"/>
<circle cx="517.3" cy="241.98" r="0.99"/>
<circle cx="474.35" cy="270.82" r="0.75"/>
<circle cx="450.11" cy="239.36" r="0.95"/>
<circle cx="532.67" cy="288.57" r="0.74"/>
<circle cx="510.2" cy="277.15" r="0.86"/>
<circle cx="493.63" cy="268.18" r="1.05"/>
<circle cx="501.28" cy="273.43" r="1.13"/>
<circle cx="450.17" cy="271.67" r="0.78"/>
<circle cx="484.76" cy="281.26" r="0.88"/>
<circle cx="491.66" cy="254.95" r="1.21"/>
<circle cx="516.85" cy="251.92" r="0.77"/>
<circle cx="495.98" cy="289.88" r="0.87"/>
<circle cx="509.4" cy="304.81" r="1.08"/>
<circle cx="450.82" cy="261.92" r="1.06"/>
<circle cx="513.51" cy="233.55" r="0.78"/>
<circle cx="450.48" cy="290.95" r="0.81"/>
<circle cx="463.38" cy="262.01" r="0.72"/>
<circle cx="502.9" cy="267.67" r="0.93"/>
<circle cx="512.12" cy="304.62" r="0.95"/>
<circle cx="544.45" cy="267.33" r="0.7"/>
<circle cx="471.52" cy="289.57" r="0.79"/>
<circle cx="528.05" cy="293.57" r="1.04"/>
<circle cx="483.63" cy="262" r="0.99"/>
<circle cx="484.61" cy="310.28" r="0.76"/>
<circle cx="486.15" cy="241.71" r="1.13"/>
<circle cx="481.88" cy="241.45" r="0.96"/>
<circle cx="476.05" cy="298.94" r="1.15"/>
<circle cx="499.62" cy="299.1" r="1.01"/>
<circle cx="491.23" cy="248.25" r="0.88"/>
<circle cx="544.85" cy="244.29" r="0.77"/>
<circle cx="473.83" cy="297.64" r="0.84"/>
<circle cx="543.09" cy="291.76" r="0.99"/>
<circle cx="463.22" cy="252.94" r="0.88"/>
<circle cx="512.17" cy="250.95" r="0.99"/>
<circle cx="490.64" cy="267.61" r="0.72"/>
<circle cx="486.19" cy="290.47" r="1.18"/>
<circle cx="524.97" cy="309.86" r="1.03"/>
<circle cx="537.77" cy="267.83" r="1.08"/>
<circle cx="465.94" cy="245.3" r="0.96"/>
<circle cx="549.28" cy="305.8" r="0.83"/>
<circle cx="528.46" cy="246.1" r="0.75"/>
<circle cx="488.85" cy="250.93" r="0.72"/>
<circle cx="472.2" cy="280.08" r="1.01"/>
<circle cx="504.31" cy="284.23" r="0.86"/>
<circle cx="468.81" cy="234.18" r="1.24"/>
<circle cx="543.68" cy="252.95" r="0.81"/>
<circle cx="496.76" cy="247.35" r="1.02"/>
<circle cx="539.53" cy="276.19" r="0.91"/>
<circle cx="529.24" cy="259.86" r="0.78"/>
<circle cx="485.76" cy="253.78" r="0.74"/>
<circle cx="513.93" cy="283.23" r="0.75"/>
<circle cx="452.19" cy="249.17" r="0.94"/>
<circle cx="455.87" cy="283.65" r="0.89"/>
<circle cx="510.28" cy="260.87" r="1.05"/>
<circle cx="506.84" cy="309.99" r="0.74"/>
<circle cx="538.5" cy="298.62" r="0.92"/>
<circle cx="517.44" cy="272.94" r="0.94"/>
<circle cx="521.72" cy="261.39" r="1.05"/>
<circle cx="456.52" cy="244.96" r="1.02"/>
<circle cx="475.92" cy="288.91" r="1.1"/>
<circle cx="540.91" cy="250.94" r="1.06"/>
<circle cx="500.39" cy="234.14" r="0.99"/>
<circle cx="517.96" cy="253.83" r="1.01"/>
<circle cx="498.65" cy="249.18" r="0.74"/>
<circle cx="471.46" cy="248.86" r="1.2"/>
<circle cx="518.29" cy="290.85" r="1.17"/>
<circle cx="465.24" cy="293.21" r="0.79"/>
<circle cx="512.51" cy="272.63" r="0.94"/>
<circle cx="523.36" cy="303.95" r="0.83"/>
<circle cx="473.44" cy="282.07" r="0.84"/>
<circle cx="466.89" cy="237.9" r="0.77"/>
<circle cx="521.89" cy="278.98" r="0.99"/>
<circle cx="493.84" cy="238.63" r="1.13"/>
<circle cx="454.32" cy="253.85" r="0.92"/>
<circle cx="458.67" cy="293.94" r="0.71"/>
<circle cx="461.02" cy="275.25" r="0.83"/>
<circle cx="503.69" cy="288.55" r="1.17"/>
<circle cx="512.54" cy="264.45" r="1.13"/>
<circle cx="484.69" cy="305.28" r="0.95"/>
<circle cx="481.73" cy="282.29" r="1.15"/>
<circle cx="478.77" cy="239.69" r="0.82"/>
<circle cx="517.1" cy="234.42" r="1.07"/>
<circle cx="541.11" cy="294.24" r="1.23"/>
<circle cx="461.11" cy="261.78" r="1.15"/>
<circle cx="480.73" cy="233.01" r="0.94"/>
<circle cx="518.31" cy="267.91" r="0.7"/>
<circle cx="500.42" cy="242.59" r="1.17"/>
<circle cx="533.2" cy="306.84" r="0.83"/>
<circle cx="528.37" cy="270.64" r="0.87"/>
<circle cx="517.13" cy="260.07" r="0.86"/>
<circle cx="476.68" cy="256.9" r="0.8"/>
<circle cx="496.07" cy="298.31" r="1.1"/>
<circle cx="467.33" cy="275.94" r="0.86"/>
<circle cx="513.4" cy="253.8" r="0.78"/>
<circle cx="495.38" cy="249.32" r="1.07"/>
<circle cx="516.34" cy="308.9" r="0.95"/>
<circle cx="512.46" cy="276.51" r="0.99"/>
<circle cx="516.08" cy="295" r="0.85"/>
<circle cx="453.75" cy="263.18" r="0.71"/>
<circle cx="546.24" cy="278.24" r="0.98"/>
<circle cx="489.87" cy="277.85" r="0.88"/>
<circle cx="450.94" cy="273.89" r="0.91"/>
<circle cx="546.71" cy="234.61" r="1.13"/>
<circle cx="543.29" cy="235.71" r="0.99"/>
<circle cx="550.98" cy="246.86" r="0.84"/>
<circle cx="452.41" cy="251.54" r="1.12"/>
<circle cx="529.99" cy="296.34" r="0.91"/>
<circle cx="499.56" cy="307.32" r="1.14"/>
<circle cx="517.23" cy="284.63" r="0.85"/>
<circle cx="470.68" cy="295.19" r="1.07"/>
<circle cx="552.97" cy="281.51" r="1.15"/>
<circle cx="467.56" cy="250.44" r="0.71"/>
<circle cx="498.07" cy="271.83" r="0.7"/>
<circle cx="504.32" cy="298.73" r="1.24"/>
<circle cx="477.81" cy="306.7" r="0.74"/>
<circle cx="552.99" cy="259.72" r="0.93"/>
<circle cx="543.7" cy="263.12" r="1.09"/>
<circle cx="457.82" cy="261.58" r="0.83"/>
<circle cx="450.03" cy="254.77" r="0.8"/>
<circle cx="464.84" cy="273.43" r="0.94"/>
<circle cx="485.82" cy="251.16" r="0.8"/>
<circle cx="507.61" cy="263.77" r="0.89"/>
<circle cx="468.38" cy="305.38" r="0.92"/>
<circle cx="479.73" cy="304.07" r="1.2"/>
<circle cx="500.52" cy="258.24" r="0.71"/>
<circle cx="490.89" cy="245.43" r="0.85"/>
<circle cx="530.11" cy="298.58" r="0.77"/>
<circle cx="507.43" cy="276.05" r="0.77"/>
<circle cx="525.82" cy="274.19" r="1.01"/>
<circle cx="467.59" cy="264.87" r="1.21"/>
<circle cx="514.59" cy="270.31" r="1.21"/>
<circle cx="493.95" cy="288.82" r="0.88"/>
<circle cx="475.73" cy="302.01" r="0.95"/>
<circle cx="511.03" cy="309.75" r="1.08"/>
<circle cx="497.57" cy="294.3" r="1.15"/>
<circle cx="548.04" cy="252.1" r="0.99"/>
<circle cx="457.21" cy="253.22" r="1.13"/>
<circle cx="500.06" cy="295.08" r="0.79"/>
<circle cx="528.01" cy="273.82" r="0.83"/>
<circle cx="534.63" cy="251.27" r="0.78"/>
<circle cx="520.15" cy="305.25" r="0.75"/>
<circle cx="490.98" cy="292.39" r="0.93"/>
<circle cx="499.45" cy="251.22" r="0.87"/>
<circle cx="492.28" cy="236.57" r="1.13"/>
<circle cx="544.01" cy="294.24" r="1.06"/>
<circle cx="453.42" cy="234.72" r="0.77"/>
<circle cx="493.14" cy="299.1" r="1.04"/>
<circle cx="478.82" cy="259.53" r="1.14"/>
<circle cx="507.9" cy="235.85" r="0.82"/>
<circle cx="527.82" cy="265.82" r="1.04"/>
<circle cx="514.49" cy="262.62" r="1.21"/>
<circle cx="549.35" cy="280.65" r="0.9"/>
<circle cx="495.96" cy="306.72" r="1.19"/>
<circle cx="455.74" cy="241.9" r="0.72"/>
<circle cx="503.02" cy="241.25" r="0.7"/>
<circle cx="533.7" cy="270.32" r="1.25"/>
<circle cx="529.97" cy="248.45" r="0.97"/>
<circle cx="452.3" cy="277.61" r="0.79"/>
<circle cx="490.04" cy="259.96" r="0.87"/>
<circle cx="478.91" cy="262.2" r="0.72"/>
<circle cx="496.01" cy="240.06" r="0.79"/>
<circle cx="517.67" cy="306.6" r="1.17"/>
<circle cx="537.3" cy="241.05" r="1.15"/>
<circle cx="517.23" cy="257.49" r="0.78"/>
<circle cx="452.48" cy="258.7" r="1.08"/>
<circle cx="477.45" cy="264.41" r="0.88"/>
<circle cx="457.87" cy="282.78" r="0.88"/>
<circle cx="451.03" cy="235.16" r="0.81"/>
<circle cx="524.66" cy="286.83" r="1.24"/>
<circle cx="551.07" cy="296.96" r="1.17"/>
<circle cx="497.99" cy="287.25" r="1.09"/>
<circle cx="463.26" cy="294.37" r="1.04"/>
<circle cx="544.27" cy="304.03" r="1.1"/>
<circle cx="455.07" cy="251.05" r="0.99"/>
<circle cx="473.18" cy="264.29" r="1.11"/>
<circle cx="489.56" cy="265.46" r="1.03"/>
<circle cx="510.1" cy="296.75" r="1.09"/>
<circle cx="519.5" cy="277.48" r="1.22"/>
<circle cx="511.06" cy="239.21" r="1.17"/>
<circle cx="455.61" cy="296.26" r="1.25"/>
<circle cx="462.41" cy="232.79" r="1.19"/>
<circle cx="526.8" cy="238.52" r="0.94"/>
<circle cx="548.93" cy="254.94" r="0.84"/>
<circle cx="551.71" cy="307.17" r="0.93"/>
<circle cx="509.13" cy="294.35" r="0.89"/>
<circle cx="544.98" cy="308.25" r="1.22"/>
<circle cx="469.98" cy="308.39" r="0.9"/>
<circle cx="541.62" cy="300.91" r="0.73"/>
<circle cx="462.1" cy="272.87" r="0.86"/>
<circle cx="506.95" cy="294.41" r="0.83"/>
<circle cx="548.96" cy="285.88" r="0.81"/>
<circle cx="509.65" cy="263.44" r="0.92"/>
<circle cx="532.37" cy="262.03" r="0.86"/>
<circle cx="504.94" cy="269.27" r="1.19"/>
<circle cx="512.93" cy="280.23" r="1.05"/>
<circle cx="540.22" cy="261.69" r="0.71"/>
<circle cx="499.26" cy="291.24" r="1.03"/>
<circle cx="493.63" cy="281.53" r="0.94"/>
<circle cx="549.79" cy="293.32" r="0.89"/>
<circle cx="494.22" cy="291.19" r="0.88"/>
<circle cx="505.29" cy="266.95" r="0.84"/>
<circle cx="502.35" cy="291.47" r="0.83"/>
<circle cx="544.7" cy="271.31" r="0.7"/>
<circle cx="538.47" cy="248.26" r="1.21"/>
<circle cx="520.18" cy="308.79" r="0.76"/>
<circle cx="498.64" cy="309.82" r="0.85"/>
<circle cx="463.02" cy="275.73" r="0.87"/>
<circle cx="459.73" cy="240.56" r="0.98"/>
<circle cx="469.8" cy="241.2" r="0.91"/>
<circle cx="494.44" cy="245.76" r="1.24"/>
<circle cx="506.95" cy="302.22" r="1.22"/>
<circle cx="520.76" cy="274.51" r="0.86"/>
<circle cx="536.76" cy="244.53" r="1.15"/>
<circle cx="486.15" cy="256.25" r="0.8"/>
<circle cx="449.39" cy="286.02" r="0.99"/>
<circle cx="546.67" cy="264.57" r="0.94"/>
<circle cx="453.9" cy="276.09" r="1.04"/>
<circle cx="477.47" cy="309.29" r="0.89"/>
<circle cx="553.25" cy="232.97" r="1.2"/>
<circle cx="498.25" cy="261.41" r="0.94"/>
<circle cx="480.47" cy="275.84" r="0.71"/>
<circle cx="545.29" cy="241.37" r="0.94"/>
<circle cx="451.6" cy="293.11" r="1.16"/>
<circle cx="532.16" cy="236.93" r="1.15"/>
<circle cx="464.11" cy="265.82" r="0.98"/>
<circle cx="498.84" cy="265.04" r="0.76"/>
<circle cx="526.38" cy="258.64" r="0.7"/>
<circle cx="449.51" cy="295.31" r="0.72"/>
<circle cx="454.78" cy="287.78" r="0.88"/>
<circle cx="474.26" cy="254.84" r="0.82"/>
<circle cx="469.05" cy="271" r="1.07"/>
<circle cx="547.06" cy="287.32" r="0.74"/>
<circle cx="523.27" cy="240.74" r="1.04"/>
<circle cx="455.03" cy="307.22" r="0.76"/>
<circle cx="536.47" cy="265.58" r="1.15"/>
<circle cx="534.67" cy="279.72" r="0.91"/>
<circle cx="509.23" cy="271.53" r="0.88"/>
<circle cx="552.86" cy="269.84" r="1.19"/>
<circle cx="518.33" cy="247.1" r="1.16"/>
<circle cx="520.76" cy="253.39" r="1.22"/>
<circle cx="461.44" cy="266.15" r="0.75"/>
<circle cx="523.45" cy="257.28" r="0.88"/>
<circle cx="504.07" cy="238.11" r="1.2"/>
<circle cx="507.4" cy="288.39" r="0.9"/>
<circle cx="532.63" cy="285.65" r="1.03"/>
<circle cx="543.02" cy="306.34" r="0.89"/>
<circle cx="486.67" cy="244.93" r="1.21"/>
<circle cx="527.19" cy="235.28" r="0.93"/>
<circle cx="454.31" cy="261.41" r="0.88"/>
<circle cx="529.1" cy="305.34" r="1.15"/>
<circle cx="465.28" cy="236.09" r="1.16"/>
<circle cx="530.89" cy="277.64" r="0.78"/>
<circle cx="466.03" cy="304.27" r="0.8"/>
<circle cx="512.34" cy="245.24" r="1.12"/>
<circle cx="508.17" cy="299.69" r="0.89"/>
<circle cx="460.81" cy="256.13" r="0.79"/>
<circle cx="466.17" cy="277.81" r="0.78"/>
<circle cx="541.18" cy="245.87" r="1.02"/>
<circle cx="472.66" cy="234.87" r="0.71"/>
<circle cx="482.5" cy="295.03" r="0.74"/>
<circle cx="533.65" cy="291.83" r="0.99"/>
<circle cx="493.45" cy="233.44" r="0.87"/>
<circle cx="450.28" cy="246.73" r="1.23"/>
<circle cx="510.01" cy="274.37" r="0.99"/>
<circle cx="510.9" cy="286.57" r="0.92"/>
<circle cx="450.51" cy="306.81" r="1.13"/>
<circle cx="477.86" cy="295.65" r="1.1"/>
<circle cx="475.96" cy="262.73" r="0.87"/>
<circle cx="515.88" cy="277.75" r="1.16"/>
<circle cx="459.7" cy="266.33" r="0.74"/>
<circle cx="512.57" cy="242.83" r="1"/>
<circle cx="449.27" cy="297.78" r="1.05"/>
<circle cx="506.85" cy="297.28" r="1.01"/>
<circle cx="524.04" cy="246.91" r="0.78"/>
<circle cx="448.93" cy="274.73" r="0.81"/>
<circle cx="526.84" cy="277.93" r="1.19"/>
<circle cx="525.79" cy="306.57" r="1.17"/>
<circle cx="473.74" cy="267.2" r="0.81"/>
<circle cx="469.58" cy="298.36" r="1.2"/>
<circle cx="458.44" cy="285.28" r="0.88"/>
<circle cx="511.51" cy="235.11" r="0.9"/>
<circle cx="476.73" cy="280.17" r="0.93"/>
<circle cx="465.07" cy="300.44" r="1.02"/>
<circle cx="510.22" cy="253.44" r="0.84"/>
<circle cx="484.4" cy="299.43" r="1.18"/>
<circle cx="462.62" cy="270.16" r="0.85"/>
<circle cx="501.26" cy="266.57" r="0.74"/>
<circle cx="534.69" cy="253.75" r="1.13"/>
<circle cx="479.6" cy="301.3" r="1.19"/>
<circle cx="497.53" cy="254.31" r="0.92"/>
<circle cx="528.95" cy="263.11" r="1.05"/>
<circle cx="503.86" cy="280.75" r="0.8"/>
<circle cx="504.62" cy="251.26" r="0.75"/>
<circle cx="484.17" cy="233.07" r="1.01"/>
<circle cx="487.35" cy="283.87" r="0.73"/>
<circle cx="452.26" cy="240.27" r="1"/>
<circle cx="542.64" cy="266.15" r="0.95"/>
<circle cx="529.17" cy="256.11" r="1.19"/>
<circle cx="473.95" cy="275.72" r="1.22"/>
<circle cx="514.7" cy="267.4" r="0.98"/>
<circle cx="512.68" cy="295.24" r="1.01"/>
<circle cx="521.91" cy="235.21" r="1.09"/>
<circle cx="547.59" cy="308.11" r="1"/>
<circle cx="510.52" cy="307.5" r="0.74"/>
<circle cx="477.02" cy="236.27" r="0.9"/>
<circle cx="449.21" cy="267.86" r="0.76"/>
<circle cx="552.38" cy="238.58" r="1.07"/>
<circle cx="450.63" cy="243.52" r="0.87"/>
<circle cx="491.33" cy="283.69" r="0.71"/>
<circle cx="523.11" cy="294.48" r="0.79"/>
<circle cx="449.95" cy="279.03" r="0.98"/>
<circle cx="457.07" cy="232.69" r="0.71"/>
<circle cx="474.43" cy="248.15" r="1.09"/>
<circle cx="533.11" cy="256.79" r="1.19"/>
<circle cx="495.1" cy="251.87" r="0.91"/>
<circle cx="451.78" cy="237.5" r="0.78"/>
<circle cx="453.11" cy="289.96" r="0.79"/>
<circle cx="482.78" cy="285.43" r="0.83"/>
<circle cx="464.8" cy="259.29" r="0.87"/>
<circle cx="515.67" cy="288.7" r="0.78"/>
<circle cx="485.74" cy="237.32" r="1.22"/>
<circle cx="500.53" cy="244.89" r="0.87"/>
<circle cx="465.42" cy="253.55" r="0.93"/>
<circle cx="549.96" cy="303.21" r="1.07"/>
<circle cx="472.36" cy="252.38" r="0.72"/>
<circle cx="496.16" cy="269.81" r="0.74"/>
<circle cx="550.8" cy="262.1" r="0.7"/>
<circle cx="493.27" cy="279.06" r="1.15"/>
<circle cx="498.79" cy="285.09" r="0.74"/>
<circle cx="456.3" cy="264.88" r="0.76"/>
<circle cx="551.88" cy="299.4" r="1.1"/>
<circle cx="482.24" cy="266.24" r="1.06"/>
<circle cx="536.76" cy="308.26" r="1.13"/>
<circle cx="471" cy="292.89" r="0.81"/>
<circle cx="500.79" cy="269.81" r="0.85"/>
<circle cx="487.51" cy="266.11" r="0.73"/>
<circle cx="527.14" cy="251.63" r="0.87"/>
<circle cx="505.87" cy="235.24" r="0.77"/>
<circle cx="465.27" cy="263.77" r="0.78"/>
<circle cx="466.36" cy="306.64" r="0.86"/>
<circle cx="458.61" cy="296.34" r="1.11"/>
<circle cx="514.72" cy="274.26" r="1.04"/>
<circle cx="491.69" cy="263.63" r="1.07"/>
<circle cx="475.95" cy="241.08" r="0.85"/>
<circle cx="497.28" cy="232.82" r="0.74"/>
<circle cx="471.26" cy="265.46" r="0.88"/>
<circle cx="552.95" cy="261.82" r="0.89"/>
<circle cx="475.27" cy="285.04" r="0.87"/>
<circle cx="491.78" cy="261.3" r="0.8"/>
<circle cx="495.21" cy="274.87" r="0.94"/>
<circle cx="471.33" cy="275.29" r="1.11"/>
<circle cx="553.08" cy="243.77" r="0.72"/>
<circle cx="472.14" cy="270.73" r="0.92"/>
<circle cx="484.87" cy="264.52" r="0.9"/>
<circle cx="463.72" cy="297.56" r="1.13"/>
<circle cx="480.9" cy="263.52" r="0.85"/>
<circle cx="550" cy="249.19" r="0.99"/>
<circle cx="487.38" cy="278.17" r="0.7"/>
<circle cx="502.97" cy="310.29" r="1.22"/>
<circle cx="546.63" cy="290.71" r="0.95"/>
<circle cx="460.22" cy="288.05" r="0.86"/>
<circle cx="550.28" cy="274.59" r="0.82"/>
<circle cx="539.74" cy="296.66" r="0.92"/>
<circle cx="503.04" cy="233.41" r="1.19"/>
<circle cx="515.36" cy="285.39" r="0.77"/>
<circle cx="537.04" cy="279.27" r="0.8"/>
<circle cx="525.63" cy="240.38" r="0.86"/>
<circle cx="548.77" cy="289.55" r="0.81"/>
<circle cx="448.71" cy="258.14" r="0.73"/>
<circle cx="519.43" cy="238.94" r="0.73"/>
<circle cx="459.66" cy="244.73" r="1.03"/>
<circle cx="535.14" cy="297.75" r="0.75"/>
<circle cx="546.41" cy="296.89" r="1.11"/>
<circle cx="465.18" cy="232.99" r="0.83"/>
<circle cx="469.53" cy="237.64" r="0.7"/>
<circle cx="544.14" cy="284.9" r="0.76"/>
<circle cx="463.16" cy="256.88" r="0.91"/>
<circle cx="500.51" cy="297.23" r="0.8"/>
<circle cx="496.33" cy="235.44" r="1.15"/>
<circle cx="536.59" cy="271.69" r="0.76"/>
<circle cx="521.31" cy="283.15" r="0.92"/>
<circle cx="502.53" cy="259.51" r="0.78"/>
<circle cx="448.99" cy="288.07" r="0.74"/>
<circle cx="449.48" cy="263.76" r="0.78"/>
<circle cx="541.14" cy="284.62" r="0.81"/>
<circle cx="449.35" cy="233.27" r="1.23"/>
<circle cx="535.32" cy="285.66" r="0.64"/>
<circle cx="490.98" cy="275.32" r="0.61"/>
<circle cx="469.8" cy="239.48" r="0.47"/>
<circle cx="522.32" cy="258.96" r="0.41"/>
<circle cx="518.62" cy="282.08" r="0.47"/>
<circle cx="507.42" cy="286.54" r="0.54"/>
<circle cx="462.45" cy="287.21" r="0.58"/>
<circle cx="538.2" cy="301.46" r="0.67"/>
<circle cx="528.65" cy="307.73" r="0.44"/>
<circle cx="468.52" cy="277.44" r="0.48"/>
<circle cx="451.54" cy="233.01" r="0.45"/>
<circle cx="451.7" cy="281.55" r="0.63"/>
<circle cx="550.42" cy="256.76" r="0.49"/>
<circle cx="536.44" cy="287.52" r="0.49"/>
<circle cx="551.19" cy="265.89" r="0.42"/>
<circle cx="541.68" cy="253.98" r="0.65"/>
<circle cx="516.92" cy="292.64" r="0.67"/>
<circle cx="531.02" cy="303.23" r="0.69"/>
<circle cx="487.22" cy="303.86" r="0.69"/>
<circle cx="451.19" cy="265.34" r="0.54"/>
<circle cx="466.98" cy="240.96" r="0.58"/>
<circle cx="552.06" cy="303.19" r="0.41"/>
<circle cx="484.55" cy="292.06" r="0.43"/>
<circle cx="453.29" cy="266.95" r="0.45"/>
<circle cx="509.06" cy="308.31" r="0.59"/>
<circle cx="531.66" cy="299.51" r="0.54"/>
<circle cx="531" cy="240.05" r="0.69"/>
<circle cx="543.64" cy="238.96" r="0.46"/>
<circle cx="531.15" cy="300.99" r="0.52"/>
<circle cx="473.16" cy="232.6" r="0.59"/>
<circle cx="531.22" cy="305" r="0.47"/>
<circle cx="547.99" cy="282.29" r="0.6"/>
<circle cx="485.47" cy="301.83" r="0.42"/>
<circle cx="529.72" cy="307.17" r="0.41"/>
<circle cx="527.42" cy="286.88" r="0.42"/>
<circle cx="453.29" cy="306.45" r="0.55"/>
<circle cx="547.19" cy="258.76" r="0.63"/>
<circle cx="536.81" cy="233.79" r="0.63"/>
<circle cx="448.65" cy="280.4" r="0.64"/>
<circle cx="519.25" cy="255.51" r="0.64"/>
<circle cx="512.36" cy="297.87" r="0.47"/>
<circle cx="542.13" cy="281.75" r="0.42"/>
<circle cx="524.06" cy="296.76" r="0.48"/>
<circle cx="479" cy="267.38" r="0.42"/>
<circle cx="523.85" cy="306.37" r="0.4"/>
<circle cx="532.46" cy="282.81" r="0.46"/>
<circle cx="506.93" cy="252.32" r="0.61"/>
<circle cx="486.39" cy="300.2" r="0.57"/>
<circle cx="532.76" cy="248.93" r="0.41"/>
<circle cx="527.9" cy="253.92" r="0.61"/>
<circle cx="507.88" cy="256.12" r="0.5"/>
<circle cx="479.29" cy="307.28" r="0.48"/>
<circle cx="476.45" cy="243.03" r="0.57"/>
<circle cx="489.56" cy="283.08" r="0.64"/>
<circle cx="552.85" cy="295.95" r="0.49"/>
<circle cx="536.72" cy="258.13" r="0.72"/>
<circle cx="475.66" cy="290.82" r="0.55"/>
<circle cx="523.52" cy="273.01" r="0.42"/>
<circle cx="458.88" cy="255.26" r="0.45"/>
<circle cx="478.06" cy="282.49" r="0.53"/>
<circle cx="473.34" cy="272.59" r="0.42"/>
<circle cx="449.64" cy="241.41" r="0.5"/>
<circle cx="532.55" cy="250.35" r="0.47"/>
<circle cx="521.71" cy="292.75" r="0.45"/>
<circle cx="460.1" cy="273.06" r="0.64"/>
<circle cx="545.5" cy="252.51" r="0.43"/>
<circle cx="544.39" cy="276.24" r="0.5"/>
<circle cx="519.52" cy="245.29" r="0.58"/>
<circle cx="533.99" cy="299.32" r="0.6"/>
<circle cx="542.6" cy="240.79" r="0.42"/>
<circle cx="453.25" cy="232.74" r="0.43"/>
<circle cx="495.64" cy="280.33" r="0.44"/>
<circle cx="543.63" cy="248.52" r="0.64"/>
<circle cx="545.61" cy="238" r="0.7"/>
<circle cx="461.51" cy="248.62" r="0.68"/>
<circle cx="538.18" cy="254.48" r="0.61"/>
<circle cx="522.88" cy="237.73" r="0.7"/>
<circle cx="462.88" cy="284.74" r="0.48"/>
<circle cx="451.05" cy="300.21" r="0.71"/>
<circle cx="527.51" cy="260.62" r="0.65"/>
<circle cx="450.51" cy="259.37" r="0.42"/>
<circle cx="550.95" cy="253.29" r="0.55"/>
<circle cx="451.78" cy="254.17" r="0.68"/>
<circle cx="502.33" cy="305.92" r="0.59"/>
<circle cx="457.09" cy="309.41" r="0.66"/>
<circle cx="485.38" cy="285.18" r="0.63"/>
<circle cx="528.42" cy="268.53" r="0.6"/>
<circle cx="483.87" cy="296.28" r="0.56"/>
<circle cx="540.84" cy="306.83" r="0.52"/>
<circle cx="507" cy="307.22" r="0.56"/>
<circle cx="551.74" cy="273.8" r="0.47"/>
<circle cx="512.91" cy="240.43" r="0.51"/>
<circle cx="503.08" cy="293.38" r="0.7"/>
<circle cx="469.04" cy="244.76" r="0.7"/>
<circle cx="548.55" cy="310.15" r="0.54"/>
<circle cx="484.69" cy="288.7" r="0.54"/>
<circle cx="523.39" cy="298.8" r="0.45"/>
<circle cx="454.03" cy="301.12" r="0.51"/>
<circle cx="471.67" cy="268.7" r="0.41"/>
<circle cx="520.61" cy="267.11" r="0.58"/>
<circle cx="545.07" cy="282.16" r="0.71"/>
<circle cx="487.98" cy="263.19" r="0.58"/>
<circle cx="551.77" cy="289.87" r="0.74"/>
<circle cx="481.47" cy="261.11" r="0.72"/>
<circle cx="548.09" cy="249.95" r="0.51"/>
<circle cx="510.5" cy="236.65" r="0.58"/>
<circle cx="552.42" cy="275.76" r="0.51"/>
<circle cx="529.76" cy="283.14" r="0.45"/>
<circle cx="525.97" cy="268.09" r="0.62"/>
<circle cx="498.67" cy="269.6" r="0.5"/>
<circle cx="553.3" cy="248.81" r="0.62"/>
<circle cx="540.51" cy="242.47" r="0.44"/>
<circle cx="540.41" cy="281.13" r="0.69"/>
<circle cx="530.83" cy="307.23" r="0.44"/>
<circle cx="519.58" cy="295.48" r="0.59"/>
<circle cx="469.52" cy="255.66" r="0.74"/>
<circle cx="524.15" cy="248.48" r="0.44"/>
<circle cx="553.33" cy="253.08" r="0.57"/>
<circle cx="541.87" cy="288.97" r="0.48"/>
<circle cx="460.38" cy="295.27" r="0.69"/>
<circle cx="473.73" cy="290.1" r="0.45"/>
<circle cx="470.63" cy="236.31" r="0.56"/>
<circle cx="522.29" cy="267.47" r="0.59"/>
<circle cx="477.12" cy="266.5" r="0.48"/>
<circle cx="536.1" cy="239.16" r="0.48"/>
<circle cx="546.79" cy="268.13" r="0.48"/>
<circle cx="458.35" cy="234.53" r="0.48"/>
<circle cx="480.02" cy="293.54" r="0.43"/>
<circle cx="530.14" cy="254.12" r="0.46"/>
<circle cx="535.49" cy="290.25" r="0.45"/>
<circle cx="508.12" cy="295.83" r="0.63"/>
<circle cx="531.13" cy="283.38" r="0.62"/>
<circle cx="528.28" cy="309.1" r="0.54"/>
<circle cx="474.47" cy="291.88" r="0.43"/>
<circle cx="455.34" cy="299.15" r="0.52"/>
<circle cx="537.8" cy="310.05" r="0.42"/>
<circle cx="529.54" cy="242.42" r="0.43"/>
<circle cx="497.78" cy="289.23" r="0.42"/>
<circle cx="539.47" cy="309.33" r="0.49"/>
<circle cx="533.56" cy="241.26" r="0.7"/>
<circle cx="552.94" cy="247.05" r="0.42"/>
<circle cx="473.25" cy="260.95" r="0.73"/>
<circle cx="543.9" cy="281.36" r="0.41"/>
<circle cx="548.31" cy="276.69" r="0.7"/>
<circle cx="522.72" cy="276.24" r="0.45"/>
<circle cx="491.61" cy="276.81" r="0.75"/>
<circle cx="454.5" cy="265.43" r="0.6"/>
<circle cx="509.62" cy="302.99" r="0.45"/>
<circle cx="516.28" cy="249.25" r="0.61"/>
<circle cx="523.82" cy="259.92" r="0.47"/>
<circle cx="450.12" cy="250.39" r="0.66"/>
<circle cx="508.11" cy="277.98" r="0.49"/>
<circle cx="471.22" cy="255.87" r="0.51"/>
<circle cx="448.84" cy="265.97" r="0.56"/>
<circle cx="531.62" cy="264.47" r="0.68"/>
<circle cx="521.55" cy="299.66" r="0.41"/>
<circle cx="506.38" cy="253.92" r="0.54"/>
<circle cx="518.87" cy="243.78" r="0.63"/>
<circle cx="525.35" cy="256.42" r="0.53"/>
<circle cx="515.48" cy="304.26" r="0.52"/>
<circle cx="491.02" cy="295.5" r="0.51"/>
<circle cx="512.51" cy="289.2" r="0.47"/>
<circle cx="535.96" cy="293.1" r="0.57"/>
<circle cx="553.31" cy="236.6" r="0.55"/>
<circle cx="501.42" cy="288.53" r="0.67"/>
<circle cx="492.83" cy="247.47" r="0.62"/>
<circle cx="534.03" cy="265.55" r="0.61"/>
<circle cx="544.08" cy="299.59" r="0.49"/>
<circle cx="540.76" cy="287.4" r="0.57"/>
<circle cx="547.32" cy="275.48" r="0.45"/>
<circle cx="492.39" cy="257.73" r="0.62"/>
<circle cx="534.6" cy="263.82" r="0.55"/>
<circle cx="508.7" cy="232.7" r="0.7"/>
<circle cx="465.16" cy="256.76" r="0.57"/>
<circle cx="519.77" cy="292.97" r="0.7"/>
<circle cx="469.65" cy="276.76" r="0.41"/>
<circle cx="534.04" cy="275.13" r="0.6"/>
<circle cx="524.07" cy="292.97" r="0.41"/>
<circle cx="475.65" cy="271.79" r="0.44"/>
<circle cx="483.53" cy="283.73" r="0.45"/>
<circle cx="461.47" cy="243.64" r="0.67"/>
<circle cx="551.56" cy="251.37" r="0.53"/>
<circle cx="551.37" cy="294.78" r="0.41"/>
<circle cx="527.93" cy="298.7" r="0.52"/>
<circle cx="485.2" cy="286.69" r="0.44"/>
<circle cx="536.17" cy="249.45" r="0.48"/>
<circle cx="503.23" cy="249.63" r="0.63"/>
<circle cx="505.3" cy="265.11" r="0.42"/>
<circle cx="531.31" cy="292.88" r="0.42"/>
<circle cx="489.84" cy="305.75" r="0.63"/>
<circle cx="456.01" cy="233.81" r="0.5"/>
<circle cx="541.92" cy="298.42" r="0.57"/>
<circle cx="531.59" cy="245.34" r="0.71"/>
<circle cx="540.97" cy="235.9" r="0.72"/>
<circle cx="551.45" cy="258.7" r="0.64"/>
<circle cx="461.59" cy="258.3" r="0.55"/>
<circle cx="462.06" cy="282.78" r="0.7"/>
<circle cx="550.08" cy="236.44" r="0.74"/>
<circle cx="518.04" cy="287.79" r="0.45"/>
<circle cx="504.94" cy="252.9" r="0.46"/>
<circle cx="451.95" cy="272" r="0.44"/>
<circle cx="546.66" cy="239.61" r="0.6"/>
<circle cx="522.24" cy="302.87" r="0.42"/>
<circle cx="520.39" cy="285.47" r="0.48"/>
<circle cx="460.49" cy="264.34" r="0.5"/>
<circle cx="540.15" cy="263.29" r="0.4"/>
<circle cx="456.16" cy="255.52" r="0.67"/>
<circle cx="522.81" cy="252.06" r="0.52"/>
<circle cx="514.36" cy="255.24" r="0.52"/>
<circle cx="549.84" cy="278.92" r="0.49"/>
<circle cx="529.81" cy="301.39" r="0.44"/>
<circle cx="496.89" cy="300.17" r="0.48"/>
<circle cx="513.45" cy="284.66" r="0.46"/>
<circle cx="530.26" cy="271.34" r="0.6"/>
<circle cx="548.33" cy="274.46" r="0.56"/>
<circle cx="530.54" cy="268.46" r="0.41"/>
<circle cx="538.02" cy="273.04" r="0.51"/>
<circle cx="464.27" cy="283.11" r="0.59"/>
<circle cx="478.72" cy="281.16" r="0.49"/>
<circle cx="461.96" cy="291.12" r="0.66"/>
<circle cx="530.64" cy="232.97" r="0.41"/>
<circle cx="514.45" cy="287.56" r="0.6"/>
<circle cx="530.61" cy="257.57" r="0.45"/>
<circle cx="546.01" cy="302.9" r="0.61"/>
<circle cx="534.48" cy="234.62" r="0.52"/>
<circle cx="459.88" cy="232.97" r="0.54"/>
<circle cx="469.83" cy="261.9" r="0.57"/>
<circle cx="473.73" cy="257.68" r="0.7"/>
<circle cx="514.91" cy="248.83" r="0.41"/>
<circle cx="482.03" cy="302.19" r="0.56"/>
<circle cx="548.41" cy="232.5" r="0.59"/>
<circle cx="528.99" cy="277.52" r="0.58"/>
<circle cx="538.46" cy="304.37" r="0.74"/>
<circle cx="490.36" cy="238.68" r="0.53"/>
<circle cx="520.45" cy="240.71" r="0.7"/>
<circle cx="474.76" cy="243.83" r="0.52"/>
<circle cx="488.95" cy="240.93" r="0.71"/>
<circle cx="526.32" cy="280.9" r="0.42"/>
<circle cx="538.12" cy="295.19" r="0.62"/>
<circle cx="515.13" cy="252.79" r="0.68"/>
<circle cx="547.19" cy="266.59" r="0.5"/>
<circle cx="521" cy="245.25" r="0.5"/>
<circle cx="552.76" cy="309.97" r="0.7"/>
<circle cx="448.91" cy="290.53" r="0.45"/>
<circle cx="497.87" cy="243.01" r="0.45"/>
<circle cx="477.76" cy="234.29" r="0.51"/>
<circle cx="534.67" cy="239.13" r="0.61"/>
<circle cx="523.85" cy="234.23" r="0.41"/>
<circle cx="534.52" cy="295.62" r="0.64"/>
<circle cx="536.03" cy="247.33" r="0.49"/>
<circle cx="545.58" cy="258.69" r="0.66"/>
<circle cx="529.87" cy="293.75" r="0.42"/>
<circle cx="457.89" cy="288.75" r="0.45"/>
<circle cx="514.38" cy="302.71" r="0.57"/>
<circle cx="534.18" cy="305.32" r="0.58"/>
<circle cx="530.05" cy="309.42" r="0.73"/>
<circle cx="509.33" cy="258.14" r="0.43"/>
<circle cx="501.61" cy="280.69" r="0.67"/>
<circle cx="495.8" cy="272.06" r="0.44"/>
<circle cx="515.08" cy="242.19" r="0.6"/>
<circle cx="553.38" cy="279.5" r="0.62"/>
<circle cx="538.3" cy="252.59" r="0.45"/>
<circle cx="500.71" cy="303.42" r="0.58"/>
<circle cx="546.01" cy="299.96" r="0.46"/>
<circle cx="494.2" cy="283.76" r="0.69"/>
<circle cx="478.52" cy="233.07" r="0.41"/>
<circle cx="510.62" cy="242.14" r="0.5"/>
<circle cx="521.06" cy="290.17" r="0.69"/>
<circle cx="550.19" cy="234.58" r="0.67"/>
<circle cx="504.68" cy="286.76" r="0.62"/>
<circle cx="492.44" cy="266.68" r="0.58"/>
<circle cx="508.91" cy="287.5" r="0.45"/>
<circle cx="496.65" cy="252.73" r="0.52"/>
<circle cx="546.67" cy="306.08" r="0.6"/>
<circle cx="504.51" cy="272.28" r="0.64"/>
<circle cx="464.28" cy="268.66" r="0.75"/>
<circle cx="549.31" cy="291.27" r="0.46"/>
<circle cx="540.93" cy="266.85" r="0.46"/>
<circle cx="498.53" cy="275.09" r="0.43"/>
<circle cx="509.02" cy="239.16" r="0.44"/>
<circle cx="507.33" cy="267.34" r="0.74"/>
<circle cx="537.22" cy="302.39" r="0.43"/>
<circle cx="543" cy="283.48" r="0.44"/>
<circle cx="503.65" cy="278.45" r="0.4"/>
<circle cx="534.17" cy="277.7" r="0.59"/>
<circle cx="528.91" cy="236.68" r="0.69"/>
<circle cx="465.04" cy="286.45" r="0.47"/>
<circle cx="494.23" cy="234.88" r="0.49"/>
<circle cx="456.28" cy="289.91" r="0.42"/>
<circle cx="465.69" cy="309.95" r="0.74"/>
<circle cx="508.86" cy="269.1" r="0.59"/>
<circle cx="508.64" cy="251.13" r="0.48"/>
<circle cx="544.33" cy="296.87" r="0.61"/>
<circle cx="516.69" cy="240.18" r="0.62"/>
<circle cx="530.52" cy="275.58" r="0.67"/>
<circle cx="475.29" cy="265.09" r="0.68"/>
<circle cx="549.53" cy="242.85" r="0.5"/>
<circle cx="465.51" cy="296.08" r="0.49"/>
<circle cx="483.61" cy="293.57" r="0.69"/>
<circle cx="472.2" cy="305.9" r="0.4"/>
<circle cx="491.03" cy="297.25" r="0.47"/>
<circle cx="525.44" cy="265.75" r="0.62"/>
<circle cx="462.72" cy="254.56" r="0.45"/>
<circle cx="508.6" cy="244.9" r="0.42"/>
<circle cx="542.91" cy="258.19" r="0.48"/>
<circle cx="493.46" cy="274.9" r="0.41"/>
<circle cx="544.17" cy="255.72" r="0.47"/>
<circle cx="550.69" cy="244.09" r="0.63"/>
<circle cx="486.41" cy="234.79" r="0.6"/>
<circle cx="535.2" cy="242.54" r="0.63"/>
<circle cx="489.01" cy="272.57" r="0.51"/>
<circle cx="529.23" cy="250.97" r="0.55"/>
<circle cx="523.64" cy="300.52" r="0.57"/>
<circle cx="520.69" cy="294.3" r="0.45"/>
<circle cx="540.31" cy="237.64" r="0.53"/>
<circle cx="525.21" cy="261.84" r="0.54"/>
<circle cx="448.77" cy="292.64" r="0.61"/>
<circle cx="456.86" cy="263.54" r="0.42"/>
<circle cx="526.52" cy="243.1" r="0.48"/>
<circle cx="545.4" cy="287.41" r="0.5"/>
<circle cx="549.65" cy="287.77" r="0.59"/>
<circle cx="545.12" cy="301.56" r="0.58"/>
<circle cx="452.17" cy="310.1" r="0.64"/>
<circle cx="539.7" cy="300.89" r="0.57"/>
<circle cx="541.43" cy="290.28" r="0.58"/>
<circle cx="524.71" cy="252.27" r="0.54"/>
<circle cx="462.77" cy="251.17" r="0.57"/>
<circle cx="546.87" cy="273.76" r="0.58"/>
<circle cx="545.83" cy="272.71" r="0.47"/>
<circle cx="480.51" cy="265.55" r="0.5"/>
<circle cx="525.47" cy="303.7" r="0.57"/>
<circle cx="499.43" cy="304.92" r="0.49"/>
<circle cx="551.12" cy="280.68" r="0.45"/>
<circle cx="523.78" cy="243.43" r="0.57"/>
<circle cx="462.59" cy="304.77" r="0.66"/>
<circle cx="543.54" cy="300.85" r="0.56"/>
<circle cx="547.8" cy="242.66" r="0.66"/>
<circle cx="498.82" cy="235.88" r="0.73"/>
<circle cx="468.17" cy="296.24" r="0.46"/>
<circle cx="527.42" cy="302.13" r="0.72"/>
<circle cx="500.16" cy="278.63" r="0.51"/>
<circle cx="519.82" cy="251.6" r="0.52"/>
<circle cx="552.45" cy="241.75" r="0.74"/>
<circle cx="546.41" cy="257.09" r="0.52"/>
<circle cx="458.4" cy="239.13" r="0.55"/>
<circle cx="465.21" cy="288.59" r="0.68"/>
<circle cx="511.62" cy="255.23" r="0.54"/>
<circle cx="519.84" cy="288.76" r="0.61"/>
<circle cx="468.59" cy="309.88" r="0.74"/>
<circle cx="471.25" cy="242.4" r="0.52"/>
<circle cx="480.74" cy="243.71" r="0.66"/>
<circle cx="543.67" cy="274.11" r="0.72"/>
<circle cx="511.31" cy="284.27" r="0.69"/>
<circle cx="518.93" cy="280.12" r="0.67"/>
<circle cx="499.81" cy="276.49" r="0.41"/>
<circle cx="520.55" cy="242.85" r="0.54"/>
<circle cx="523.54" cy="254.62" r="0.75"/>
<circle cx="503.41" cy="307.94" r="0.64"/>
<circle cx="548.71" cy="295.61" r="0.71"/>
<circle cx="538.66" cy="250.85" r="0.49"/>
<circle cx="526.36" cy="246.89" r="0.66"/>
<circle cx="487.85" cy="243.17" r="0.55"/>
<circle cx="514.11" cy="308.85" r="0.6"/>
<circle cx="501.21" cy="300.32" r="0.55"/>
<circle cx="530.63" cy="289.62" r="0.48"/>
<circle cx="533.14" cy="243.52" r="0.74"/>
<circle cx="527.68" cy="281.62" r="0.69"/>
<circle cx="477.26" cy="290.66" r="0.72"/>
<circle cx="511.98" cy="259.81" r="0.53"/>
<circle cx="499.25" cy="246.52" r="0.55"/>
<circle cx="545.1" cy="256.4" r="0.4"/>
<circle cx="499.09" cy="259.42" r="0.52"/>
<circle cx="475.55" cy="306.33" r="0.43"/>
<circle cx="552.77" cy="245.44" r="0.46"/>
<circle cx="531.32" cy="290.85" r="0.58"/>
<circle cx="512.21" cy="236.93" r="0.57"/>
<circle cx="459.42" cy="276.58" r="0.42"/>
<circle cx="553.06" cy="304.04" r="0.45"/>
<circle cx="544.13" cy="250.52" r="0.47"/>
<circle cx="518.38" cy="304.85" r="0.42"/>
<circle cx="526.52" cy="271.67" r="0.7"/>
<circle cx="522.68" cy="290.81" r="0.57"/>
<circle cx="513.55" cy="286.12" r="0.65"/>
<circle cx="502.34" cy="282.26" r="0.68"/>
<circle cx="449.62" cy="309.95" r="0.69"/>
<circle cx="533.06" cy="308.34" r="0.42"/>
<circle cx="483.44" cy="242.82" r="0.6"/>
<circle cx="513.34" cy="260.88" r="0.58"/>
<circle cx="511.2" cy="279.05" r="0.61"/>
<circle cx="485.45" cy="297.29" r="0.67"/>
<circle cx="485.56" cy="278.05" r="0.44"/>
<circle cx="541.48" cy="307.95" r="0.49"/>
<circle cx="546.49" cy="285.11" r="0.67"/>
<circle cx="499.26" cy="282.6" r="0.5"/>
<circle cx="472.46" cy="307.5" r="0.41"/>
<circle cx="541.24" cy="257.69" r="0.5"/>
<circle cx="526.68" cy="295.19" r="0.44"/>
<circle cx="503.11" cy="272.75" r="0.46"/>
<circle cx="520" cy="284.28" r="0.41"/>
<circle cx="510.75" cy="257.4" r="0.61"/>
<circle cx="452.99" cy="280.56" r="0.72"/>
<circle cx="546.83" cy="243.84" r="0.43"/>
<circle cx="529.84" cy="272.71" r="0.44"/>
<circle cx="533.65" cy="296.96" r="0.6"/>
<circle cx="520.15" cy="237.34" r="0.57"/>
<circle cx="544.82" cy="310.17" r="0.41"/>
<circle cx="518.98" cy="250.02" r="0.59"/>
<circle cx="546.77" cy="246.8" r="0.43"/>
<circle cx="536.23" cy="296.23" r="0.51"/>
<circle cx="542.06" cy="296.22" r="0.41"/>
<circle cx="537.86" cy="259.97" r="0.61"/>
<circle cx="532.78" cy="309.75" r="0.57"/>
<circle cx="451.08" cy="288.79" r="0.59"/>
<circle cx="507.53" cy="257.92" r="0.54"/>
<circle cx="532.47" cy="304.1" r="0.71"/>
<circle cx="465.18" cy="238.03" r="0.41"/>
<circle cx="448.87" cy="249.44" r="0.54"/>
<circle cx="470.89" cy="271.75" r="0.41"/>
<circle cx="457.62" cy="290.89" r="0.42"/>
<circle cx="535.1" cy="235.92" r="0.59"/>
<circle cx="472.23" cy="282.97" r="0.4"/>
<circle cx="532.89" cy="294.64" r="0.43"/>
<circle cx="518.31" cy="294.23" r="0.5"/>
<circle cx="471.99" cy="261.89" r="0.45"/>
<circle cx="552.14" cy="254.52" r="0.52"/>
<circle cx="528.26" cy="296.7" r="0.47"/>
<circle cx="493.55" cy="287.02" r="0.63"/>
<circle cx="542.97" cy="279.48" r="0.45"/>
<circle cx="522.72" cy="245.85" r="0.4"/>
<circle cx="461.56" cy="254.09" r="0.52"/>
<circle cx="532.14" cy="252.9" r="0.66"/>
<circle cx="549.52" cy="300.85" r="0.69"/>
<circle cx="535.56" cy="259.77" r="0.54"/>
<circle cx="487.18" cy="232.63" r="0.6"/>
<circle cx="481.19" cy="288.14" r="0.46"/>
<circle cx="495.61" cy="259.83" r="0.65"/>
<circle cx="489.85" cy="257.96" r="0.53"/>
<circle cx="544.62" cy="279.33" r="0.66"/>
<circle cx="514.06" cy="301.34" r="0.49"/>
<circle cx="548.75" cy="257.69" r="0.46"/>
<circle cx="539.23" cy="243.67" r="0.45"/>
<circle cx="523.1" cy="249.11" r="0.52"/>
<circle cx="549.11" cy="298.19" r="0.46"/>
<circle cx="524.16" cy="284.83" r="0.45"/>
<circle cx="467.24" cy="295.48" r="0.5"/>
<circle cx="549.98" cy="260.93" r="0.42"/>
<circle cx="453.15" cy="302.53" r="0.66"/>
<circle cx="534.95" cy="261.6" r="0.56"/>
<circle cx="519.18" cy="300.08" r="0.43"/>
<circle cx="506.11" cy="277.63" r="0.49"/>
<circle cx="454.58" cy="257.86" r="0.63"/>
<circle cx="539.74" cy="302.57" r="0.61"/>
<circle cx="551.27" cy="255.68" r="0.49"/>
<circle cx="474.52" cy="256.42" r="0.52"/>
<circle cx="497.02" cy="273.77" r="0.68"/>
<circle cx="548.35" cy="247.57" r="0.46"/>
<circle cx="517.47" cy="270.98" r="0.5"/>
<circle cx="475.39" cy="278.04" r="0.48"/>
<circle cx="522.45" cy="288.16" r="0.74"/>
<circle cx="466.61" cy="261.22" r="0.68"/>
<circle cx="526.63" cy="300.13" r="0.49"/>
<circle cx="525.09" cy="238.03" r="0.49"/>
<circle cx="551.1" cy="240.86" r="0.41"/>
<circle cx="468.42" cy="290.72" r="0.48"/>
<circle cx="535.2" cy="300.66" r="0.41"/>
<circle cx="542" cy="248" r="0.73"/>
<circle cx="500.02" cy="260.6" r="0.41"/>
<circle cx="471.88" cy="257.99" r="0.55"/>
<circle cx="520.33" cy="264.24" r="0.73"/>
<circle cx="478.38" cy="299.02" r="0.42"/>
<circle cx="523.31" cy="274.39" r="0.69"/>
<circle cx="534.91" cy="303.04" r="0.66"/>
<circle cx="464.18" cy="306.38" r="0.65"/>
<circle cx="539.12" cy="306.16" r="0.51"/>
<circle cx="537.64" cy="281.67" r="0.64"/>
<circle cx="484.52" cy="277.48" r="0.44"/>
<circle cx="547.26" cy="262.72" r="0.6"/>
<circle cx="457.46" cy="241.29" r="0.72"/>
<circle cx="542.34" cy="277.06" r="0.73"/>
<circle cx="515.54" cy="238.51" r="0.66"/>
<circle cx="475.5" cy="246.16" r="0.54"/>
<circle cx="489.42" cy="261.82" r="0.7"/>
<circle cx="498.24" cy="305.59" r="0.52"/>
<circle cx="470.31" cy="278.67" r="0.42"/>
<circle cx="516.99" cy="255.65" r="0.5"/>
<circle cx="502.89" cy="274.38" r="0.46"/>
<circle cx="522.25" cy="309.19" r="0.66"/>
<circle cx="528.4" cy="243.87" r="0.54"/>
<circle cx="503.09" cy="275.81" r="0.5"/>
<circle cx="532.37" cy="259.29" r="0.68"/>
<circle cx="492.72" cy="301.53" r="0.48"/>
<circle cx="511.87" cy="269.88" r="0.57"/>
<circle cx="482.76" cy="287.79" r="0.7"/>
<circle cx="539.52" cy="257.64" r="0.58"/>
<circle cx="490.7" cy="307.14" r="0.64"/>
<circle cx="537.38" cy="262.78" r="0.72"/>
<circle cx="463.87" cy="281.23" r="0.57"/>
<circle cx="484.69" cy="282.93" r="0.51"/>
<circle cx="540.39" cy="304.81" r="0.44"/>
<circle cx="510.88" cy="303.31" r="0.59"/>
<circle cx="487.33" cy="259.27" r="0.61"/>
<circle cx="452.01" cy="298.67" r="0.57"/>
<circle cx="508.33" cy="254.38" r="0.61"/>
<circle cx="514.3" cy="239.37" r="0.47"/>
<circle cx="472.08" cy="272.46" r="0.51"/>
<circle cx="451.72" cy="256.16" r="0.52"/>
<circle cx="460.83" cy="292.41" r="0.62"/>
<circle cx="514.37" cy="250.13" r="0.75"/>
<circle cx="534.11" cy="283.92" r="0.43"/>
<circle cx="510.19" cy="245.25" r="0.69"/>
<circle cx="533.56" cy="282.11" r="0.51"/>
<circle cx="530.33" cy="285.56" r="0.56"/>
<circle cx="531.78" cy="268.11" r="0.46"/>
<circle cx="525.3" cy="291.73" r="0.41"/>
<circle cx="524.88" cy="280.52" r="0.59"/>
<circle cx="542.12" cy="304.81" r="0.51"/>
<circle cx="528.48" cy="240.46" r="0.69"/>
<circle cx="472.58" cy="295.67" r="0.48"/>
<circle cx="527.16" cy="279.87" r="0.47"/>
<circle cx="529.38" cy="279.32" r="0.54"/>
<circle cx="453.51" cy="256.75" r="0.54"/>
<circle cx="540.06" cy="278.97" r="0.62"/>
<circle cx="453.65" cy="281.93" r="0.43"/>
<circle cx="471.02" cy="232.97" r="0.73"/>
<circle cx="480.28" cy="309.37" r="0.68"/>
<circle cx="534.77" cy="307.3" r="0.46"/>
<circle cx="549.07" cy="265.32" r="0.64"/>
<circle cx="477.27" cy="271.99" r="0.43"/>
<circle cx="451.44" cy="276.05" r="0.41"/>
<circle cx="542.51" cy="310.02" r="0.63"/>
<circle cx="454.77" cy="239.91" r="0.4"/>
<circle cx="523.93" cy="266.55" r="0.66"/>
<circle cx="457.26" cy="274.45" r="0.71"/>
<circle cx="526.98" cy="297.32" r="0.66"/>
<circle cx="525.21" cy="236.26" r="0.4"/>
<circle cx="543.46" cy="241.98" r="0.47"/>
<circle cx="484.67" cy="308.65" r="0.44"/>
<circle cx="539.01" cy="283.37" r="0.47"/>
<circle cx="497.92" cy="256.6" r="0.43"/>
<circle cx="462.97" cy="267.72" r="0.46"/>
<circle cx="510.92" cy="293.01" r="0.68"/>
<circle cx="448.77" cy="299.56" r="0.43"/>
<circle cx="544.99" cy="291.04" r="0.43"/>
<circle cx="466.16" cy="302.17" r="0.46"/>
<circle cx="548.56" cy="261.2" r="0.58"/>
<circle cx="455.98" cy="285.72" r="0.47"/>
<circle cx="495.78" cy="233.15" r="0.41"/>
<circle cx="483.31" cy="239.98" r="0.45"/>
<circle cx="489.84" cy="290.68" r="0.53"/>
<circle cx="459.6" cy="242.4" r="0.59"/>
<circle cx="539.73" cy="255.19" r="0.72"/>
<circle cx="506.04" cy="284.31" r="0.59"/>
<circle cx="476.8" cy="293.59" r="0.52"/>
<circle cx="549.48" cy="282.38" r="0.45"/>
<circle cx="530.56" cy="243.92" r="0.57"/>
<circle cx="482.26" cy="300.12" r="0.63"/>
<circle cx="510.91" cy="271.94" r="0.41"/>
<circle cx="541.22" cy="240.03" r="0.42"/>
<circle cx="468.2" cy="273.22" r="0.68"/>
<circle cx="551.4" cy="271.63" r="0.61"/>
<circle cx="520.5" cy="246.47" r="0.41"/>
<circle cx="473.47" cy="299.61" r="0.45"/>
<circle cx="461.46" cy="285.65" r="0.5"/>
<circle cx="516.75" cy="282.1" r="0.45"/>
<circle cx="450.29" cy="282.26" r="0.42"/>
<circle cx="522.66" cy="306.7" r="0.43"/>
<circle cx="520.68" cy="300.59" r="0.48"/>
<circle cx="471.58" cy="254.35" r="0.71"/>
<circle cx="537.99" cy="256.77" r="0.6"/>
<circle cx="534.19" cy="247.95" r="0.47"/>
<circle cx="459.34" cy="259.81" r="0.56"/>
<circle cx="509.56" cy="265.5" r="0.52"/>
<circle cx="520.08" cy="257.26" r="0.48"/>
<circle cx="485" cy="239.86" r="0.47"/>
<circle cx="466.74" cy="297.26" r="0.63"/>
<circle cx="457.27" cy="242.95" r="0.51"/>
<circle cx="548.26" cy="236.36" r="0.61"/>
<circle cx="483.36" cy="257.95" r="0.44"/>
<circle cx="449.82" cy="276.29" r="0.5"/>
<circle cx="512.99" cy="248.86" r="0.71"/>
<circle cx="497.31" cy="238.46" r="0.66"/>
<circle cx="491.77" cy="234.1" r="0.49"/>
<circle cx="528.91" cy="275.96" r="0.45"/>
<circle cx="485.44" cy="270.71" r="0.58"/>
<circle cx="492.55" cy="293.27" r="0.43"/>
<circle cx="535.98" cy="306.5" r="0.5"/>
<circle cx="497.66" cy="296.71" r="0.73"/>
<circle cx="546.46" cy="281.42" r="0.41"/>
<circle cx="551.31" cy="301.44" r="0.72"/>
<circle cx="496.61" cy="244.33" r="0.67"/>
<circle cx="465.5" cy="267.23" r="0.49"/>
<circle cx="516.86" cy="274.69" r="0.6"/>
<circle cx="549.38" cy="259.93" r="0.45"/>
<circle cx="535.14" cy="267.49" r="0.45"/>
<circle cx="541.99" cy="272.47" r="0.64"/>
<circle cx="514.27" cy="281.43" r="0.42"/>
<circle cx="531.51" cy="279.49" r="0.52"/>
<circle cx="518.81" cy="309.94" r="0.61"/>
<circle cx="484.25" cy="267.75" r="0.63"/>
<circle cx="499.95" cy="268.12" r="0.4"/>
<circle cx="494.22" cy="301.89" r="0.44"/>
<circle cx="526.71" cy="309.82" r="0.43"/>
<circle cx="516.95" cy="269.49" r="0.56"/>
<circle cx="547.26" cy="272" r="0.58"/>
<circle cx="506.23" cy="305.09" r="0.74"/>
<circle cx="495.19" cy="286.69" r="0.42"/>
<circle cx="518.4" cy="296.42" r="0.52"/>
<circle cx="545.88" cy="294.87" r="0.44"/>
<circle cx="548.21" cy="240.95" r="0.48"/>
<circle cx="500.06" cy="287" r="0.69"/>
<circle cx="520.59" cy="302.06" r="0.7"/>
<circle cx="502.33" cy="235.74" r="0.63"/>
<circle cx="459.91" cy="268.29" r="0.42"/>
<circle cx="506" cy="249.14" r="0.47"/>
<circle cx="534.37" cy="258.67" r="0.66"/>
<circle cx="520.39" cy="280.9" r="0.62"/>
<circle cx="481.96" cy="304.37" r="0.66"/>
<circle cx="526.13" cy="269.93" r="0.7"/>
<circle cx="449.26" cy="301.47" r="0.69"/>
<circle cx="491.27" cy="288.28" r="0.6"/>
<circle cx="553.37" cy="292.44" r="0.43"/>
<circle cx="521.51" cy="248.84" r="0.63"/>
<circle cx="538.85" cy="264.67" r="0.66"/>
<circle cx="537.94" cy="238.19" r="0.62"/>
<circle cx="471.4" cy="251.06" r="0.45"/>
<circle cx="474.17" cy="303.44" r="0.61"/>
<circle cx="489.43" cy="232.91" r="0.52"/>
<circle cx="486.55" cy="309.91" r="0.44"/>
<circle cx="510.16" cy="251.06" r="0.41"/>
<circle cx="486.63" cy="257.83" r="0.6"/>
<circle cx="532.94" cy="280.48" r="0.4"/>
<circle cx="499.86" cy="289.04" r="0.5"/>
<circle cx="487.38" cy="297.61" r="0.71"/>
<circle cx="544.97" cy="269.71" r="0.45"/>
<circle cx="451.35" cy="267.24" r="0.46"/>
<circle cx="549.6" cy="299.36" r="0.5"/>
<circle cx="540.34" cy="288.89" r="0.64"/>
<circle cx="502.21" cy="296.4" r="0.45"/>
<circle cx="531.6" cy="247.06" r="0.68"/>
<circle cx="541.94" cy="243.03" r="0.44"/>
<circle cx="520.06" cy="268.65" r="0.64"/>
<circle cx="530.91" cy="251.74" r="0.48"/>
<circle cx="467.54" cy="235.94" r="0.44"/>
<circle cx="534.25" cy="260.32" r="0.53"/>
<circle cx="478.53" cy="288.64" r="0.65"/>
<circle cx="529.48" cy="303.13" r="0.47"/>
<circle cx="501.05" cy="293.34" r="0.75"/>
<circle cx="488.26" cy="257.65" r="0.57"/>
<circle cx="458.09" cy="264.57" r="0.64"/>
<circle cx="456.19" cy="275.98" r="0.67"/>
<circle cx="468.34" cy="240.11" r="0.65"/>
<circle cx="490.09" cy="273.1" r="0.42"/>
<circle cx="477.82" cy="297.69" r="0.61"/>
<circle cx="545.8" cy="254.17" r="0.63"/>
<circle cx="459.35" cy="246.87" r="0.46"/>
<circle cx="524.2" cy="270.45" r="0.48"/>
<circle cx="543.36" cy="256.93" r="0.42"/>
<circle cx="472.87" cy="237" r="0.45"/>
<circle cx="517.22" cy="238.08" r="0.67"/>
<circle cx="548.29" cy="302.01" r="0.67"/>
<circle cx="459.26" cy="291.89" r="0.64"/>
<circle cx="536.93" cy="269.99" r="0.57"/>
<circle cx="533.75" cy="249.53" r="0.44"/>
<circle cx="494.9" cy="285.25" r="0.47"/>
<circle cx="479.32" cy="251.93" r="0.47"/>
<circle cx="483.99" cy="279.08" r="0.67"/>
<circle cx="544" cy="246.52" r="0.64"/>
<circle cx="529.55" cy="281.49" r="0.53"/>
<circle cx="513.37" cy="268.69" r="0.42"/>
<circle cx="536.39" cy="261.04" r="0.41"/>
<circle cx="553.04" cy="277.62" r="0.46"/>
<circle cx="547.91" cy="303.79" r="0.64"/>
<circle cx="467.29" cy="262.71" r="0.69"/>
<circle cx="502.07" cy="297.96" r="0.61"/>
<circle cx="524.82" cy="289.16" r="0.71"/>
<circle cx="533.69" cy="238.16" r="0.47"/>
<circle cx="544.03" cy="288.63" r="0.63"/>
<circle cx="474.63" cy="280.02" r="0.74"/>
<circle cx="473.76" cy="287.53" r="0.62"/>
<circle cx="527.29" cy="285.36" r="0.51"/>
<circle cx="503.23" cy="265.62" r="0.43"/>
<circle cx="459.77" cy="280.74" r="0.44"/>
<circle cx="459.3" cy="258.25" r="0.62"/>
<circle cx="453.04" cy="296.42" r="0.49"/>
<circle cx="535.11" cy="232.41" r="0.48"/>
<circle cx="524.49" cy="302.08" r="0.43"/>
<circle cx="552.85" cy="235.14" r="0.49"/>
<circle cx="533.27" cy="272.49" r="0.54"/>
<circle cx="467.59" cy="298.49" r="0.53"/>
<circle cx="462.17" cy="296.07" r="0.49"/>
<circle cx="523.17" cy="301.85" r="0.54"/>
<circle cx="523.2" cy="282.46" r="0.75"/>
<circle cx="512.77" cy="306.95" r="0.46"/>
<circle cx="546.92" cy="280.18" r="0.52"/>
<circle cx="477.51" cy="253.14" r="0.62"/>
<circle cx="524.27" cy="276.06" r="0.52"/>
<circle cx="550.32" cy="277" r="0.59"/>
<circle cx="516.43" cy="290.09" r="0.47"/>
<circle cx="504.25" cy="235.93" r="0.69"/>
<circle cx="488.83" cy="303.54" r="0.59"/>
<circle cx="504.57" cy="275.78" r="0.48"/>
<circle cx="522.24" cy="265.5" r="0.7"/>
<circle cx="537.65" cy="275.3" r="0.72"/>
<circle cx="532.14" cy="235.01" r="0.43"/>
<circle cx="470.41" cy="291.14" r="0.47"/>
<circle cx="494.41" cy="304.73" r="0.54"/>
<circle cx="454.38" cy="309.98" r="0.43"/>
<circle cx="503.59" cy="294.98" r="0.53"/>
<circle cx="450.54" cy="269.64" r="0.45"/>
<circle cx="534.79" cy="273.42" r="0.62"/>
<circle cx="471.2" cy="234.5" r="0.48"/>
<circle cx="547.61" cy="237.49" r="0.42"/>
<circle cx="523.57" cy="269.41" r="0.45"/>
<circle cx="452" cy="295.38" r="0.61"/>
<circle cx="490.73" cy="279.74" r="0.65"/>
<circle cx="548.61" cy="238.99" r="0.42"/>
<circle cx="501.4" cy="248.56" r="0.42"/>
<circle cx="532.43" cy="233.7" r="0.45"/>
<circle cx="452.96" cy="265.76" r="0.49"/>
<circle cx="539.23" cy="233.3" r="0.53"/>
<circle cx="533.23" cy="301.4" r="0.54"/>
<circle cx="451.15" cy="264.06" r="0.48"/>
<circle cx="515.9" cy="258.85" r="0.44"/>
<circle cx="510.63" cy="243.52" r="0.59"/>
<circle cx="540.88" cy="309.88" r="0.72"/>
<circle cx="470.61" cy="273.03" r="0.6"/>
<circle cx="477.15" cy="273.35" r="0.51"/>
<circle cx="501.66" cy="307.81" r="0.67"/>
<circle cx="546.12" cy="293.18" r="0.6"/>
<circle cx="448.83" cy="282.6" r="0.63"/>
<circle cx="545.13" cy="274.9" r="0.61"/>
<circle cx="463.17" cy="289.75" r="0.45"/>
<circle cx="521.53" cy="243.86" r="0.48"/>
<circle cx="525.49" cy="255.19" r="0.42"/>
<circle cx="548.36" cy="245.73" r="0.48"/>
<circle cx="520.9" cy="258.82" r="0.68"/>
<circle cx="526.99" cy="263.72" r="0.69"/>
<circle cx="494.99" cy="243.48" r="0.64"/>
<circle cx="532.59" cy="276.09" r="0.66"/>
<circle cx="550.13" cy="239.86" r="0.56"/>
<circle cx="535.41" cy="275.53" r="0.49"/>
<circle cx="531.34" cy="249.64" r="0.44"/>
<circle cx="550.84" cy="264.51" r="0.74"/>
<circle cx="535.74" cy="304.92" r="0.45"/>
<circle cx="539.13" cy="266.48" r="0.42"/>
<circle cx="532.78" cy="239.13" r="0.47"/>
<circle cx="467.52" cy="256.07" r="0.43"/>
<circle cx="453.02" cy="294.59" r="0.42"/>
<circle cx="516.74" cy="280.73" r="0.58"/>
<circle cx="521" cy="306.46" r="0.47"/>
<circle cx="508.91" cy="301.89" r="0.45"/>
<circle cx="526.48" cy="282.99" r="0.56"/>
<circle cx="553.2" cy="257.95" r="0.54"/>
<circle cx="548.32" cy="278.31" r="0.66"/>
<circle cx="457.62" cy="276.52" r="0.61"/>
<circle cx="546.42" cy="304.51" r="0.74"/>
<circle cx="524.23" cy="278.8" r="0.58"/>
<circle cx="506.22" cy="236.78" r="0.43"/>
<circle cx="534.06" cy="245.23" r="0.42"/>
<circle cx="455.05" cy="248.57" r="0.54"/>
<circle cx="501.8" cy="251.32" r="0.61"/>
<circle cx="525.1" cy="282.05" r="0.48"/>
<circle cx="505.71" cy="296.05" r="0.41"/>
<circle cx="529.74" cy="235.04" r="0.55"/>
<circle cx="491.91" cy="282.16" r="0.51"/>
<circle cx="495.97" cy="291.71" r="0.62"/>
<circle cx="467.05" cy="253.91" r="0.43"/>
<circle cx="503.06" cy="242.83" r="0.59"/>
<circle cx="475.96" cy="237.64" r="0.41"/>
<circle cx="516.79" cy="286.51" r="0.52"/>
<circle cx="545.96" cy="260.06" r="0.4"/>
<circle cx="500" cy="254.89" r="0.48"/>
<circle cx="519.92" cy="265.79" r="0.62"/>
<circle cx="531.77" cy="271.31" r="0.42"/>
<circle cx="457.56" cy="306.87" r="0.58"/>
<circle cx="475.22" cy="282.88" r="0.53"/>
<circle cx="548" cy="299.54" r="0.41"/>
<circle cx="458.79" cy="274.13" r="0.52"/>
<circle cx="533.59" cy="290.01" r="0.4"/>
<circle cx="544.42" cy="233.25" r="0.55"/>
<circle cx="523.57" cy="262.94" r="0.51"/>
<circle cx="514.88" cy="234.4" r="0.41"/>
<circle cx="493.49" cy="249.23" r="0.47"/>
<circle cx="461.97" cy="288.51" r="0.47"/>
<circle cx="542.55" cy="302.39" r="0.46"/>
<circle cx="531.43" cy="266.17" r="0.59"/>
<circle cx="493.31" cy="259.58" r="0.73"/>
<circle cx="498.41" cy="245.07" r="0.74"/>
<circle cx="499.47" cy="272.24" r="0.42"/>
<circle cx="454.43" cy="297.9" r="0.47"/>
<circle cx="463.73" cy="308.66" r="0.52"/>
<circle cx="467.9" cy="303.51" r="0.48"/>
<circle cx="526.07" cy="233.6" r="0.6"/>
<circle cx="519.32" cy="235.24" r="0.45"/>
<circle cx="530.88" cy="287.15" r="0.46"/>
<circle cx="496.39" cy="285.09" r="0.59"/>
<circle cx="467.93" cy="269.4" r="0.44"/>
<circle cx="458.15" cy="246.01" r="0.65"/>
<circle cx="467.23" cy="252.44" r="0.41"/>
<circle cx="512.5" cy="274.5" r="0.62"/>
</g>
</g>
<rect x="339.4" y="232.4" width="105.2" height="77.9" fill="none" stroke="#000" stroke-width="0.9"/>
<rect x="448.6" y="232.4" width="104.8" height="77.9" fill="none" stroke="#000" stroke-width="0.9"/>
<rect x="424.1" y="307.5" width="19.2" height="2.3" fill="#000"/>
<rect x="533" y="307.5" width="19.2" height="2.3" fill="#000"/>
<text x="564" y="217.8" font-size="12.5" font-weight="bold" fill="#000" stroke="#000" stroke-width="0.35">d</text>
<line x1="606.5" y1="229" x2="606.5" y2="306.6" stroke="#8a8a8a" stroke-width="0.8"/>
<line x1="603.3" y1="306.2" x2="685" y2="306.2" stroke="#8a8a8a" stroke-width="0.8"/>
<line x1="603.3" y1="306.2" x2="606.5" y2="306.2" stroke="#8a8a8a" stroke-width="0.8"/>
<text x="600.6" y="309" font-size="8" text-anchor="end" fill="#222">0</text>
<line x1="603.3" y1="290.75" x2="606.5" y2="290.75" stroke="#8a8a8a" stroke-width="0.8"/>
<text x="600.6" y="293.55" font-size="8" text-anchor="end" fill="#222">0.5</text>
<line x1="603.3" y1="275.3" x2="606.5" y2="275.3" stroke="#8a8a8a" stroke-width="0.8"/>
<text x="600.6" y="278.1" font-size="8" text-anchor="end" fill="#222">1.0</text>
<line x1="603.3" y1="259.85" x2="606.5" y2="259.85" stroke="#8a8a8a" stroke-width="0.8"/>
<text x="600.6" y="262.65" font-size="8" text-anchor="end" fill="#222">1.5</text>
<line x1="603.3" y1="244.4" x2="606.5" y2="244.4" stroke="#8a8a8a" stroke-width="0.8"/>
<text x="600.6" y="247.2" font-size="8" text-anchor="end" fill="#222">2.0</text>
<line x1="603.3" y1="228.95" x2="606.5" y2="228.95" stroke="#8a8a8a" stroke-width="0.8"/>
<text x="600.6" y="231.75" font-size="8" text-anchor="end" fill="#222">2.5</text>
<rect x="618.8" y="267.2" width="23.4" height="39" fill="#FF0000" stroke="#000" stroke-width="0.9"/>
<rect x="649.1" y="287.5" width="23.4" height="18.7" fill="#0000FF" stroke="#000" stroke-width="0.9"/>
<line x1="630.7" y1="306.2" x2="630.7" y2="309.2" stroke="#8a8a8a" stroke-width="0.8"/>
<line x1="660.8" y1="306.2" x2="660.8" y2="309.2" stroke="#8a8a8a" stroke-width="0.8"/>
<line x1="630.7" y1="260.4" x2="630.7" y2="273.1" stroke="#000" stroke-width="0.9"/>
<line x1="627.2" y1="260.4" x2="634.2" y2="260.4" stroke="#000" stroke-width="0.9"/>
<line x1="627.2" y1="273.1" x2="634.2" y2="273.1" stroke="#000" stroke-width="0.9"/>
<line x1="660.8" y1="281.1" x2="660.8" y2="293" stroke="#000" stroke-width="0.9"/>
<line x1="658.05" y1="281.1" x2="663.55" y2="281.1" stroke="#000" stroke-width="0.9"/>
<line x1="658.05" y1="293" x2="663.55" y2="293" stroke="#000" stroke-width="0.9"/>
<g fill="#fff" stroke="#000" stroke-width="0.8">
<circle cx="630.7" cy="240.8" r="1.2"/>
<circle cx="630.7" cy="251.3" r="1.2"/>
<circle cx="630.7" cy="253.7" r="1.2"/>
<circle cx="630.7" cy="262.5" r="1.2"/>
<circle cx="630.7" cy="269.1" r="1.2"/>
<circle cx="630.7" cy="278.4" r="1.2"/>
<circle cx="630.7" cy="287.5" r="1.2"/>
<circle cx="630.7" cy="291" r="1.2"/>
<circle cx="660.8" cy="259.9" r="1.2"/>
<circle cx="660.8" cy="281.1" r="1.2"/>
<circle cx="660.8" cy="290.6" r="1.2"/>
<circle cx="655.9" cy="297" r="1.2"/>
<circle cx="660.8" cy="297" r="1.2"/>
<circle cx="666.2" cy="297" r="1.2"/>
</g>
<path d="M630.7 235.4V230.1H660.8V253.2" fill="none" stroke="#8a8a8a" stroke-width="0.8"/>
<text x="646.3" y="225.9" font-size="7.5" text-anchor="middle" fill="#222">P = 0.0310</text>
<text x="594.9" y="319.7" font-size="8" fill="#222">AAV8:</text>
<text x="630.7" y="319.7" font-size="8" text-anchor="middle" fill="#222">GFP</text>
<text x="660.9" y="319.7" font-size="8" text-anchor="middle" fill="#222">AGXT</text>
<text x="571.3" y="267.8" font-size="8.9" text-anchor="middle" fill="#222" transform="rotate(-90 571.3 267.8)">Percentage</text>
<text x="581.2" y="265.6" font-size="8.95" text-anchor="middle" fill="#222" transform="rotate(-90 581.2 265.6)">(+) Picrosirius red</text>
<text x="339.8" y="372.7" font-size="12.5" font-weight="bold" fill="#000" stroke="#000" stroke-width="0.35">e</text>
<rect x="347.6" y="401.5" width="68.3" height="17.9" fill="#ff6b6b"/>
<rect x="415.9" y="401.5" width="68" height="17.9" fill="#8484ff"/>
<rect x="483.9" y="401.5" width="44.9" height="17.9" fill="#d9d9d9"/>
<g stroke="#111" stroke-width="0.9" fill="none"><rect x="347.6" y="384" width="181.2" height="53.7"/><path d="M347.6 401.5H528.8M347.6 419.4H528.8M415.9 401.5V437.7M483.9 401.5V437.7"/></g>
<text x="438.2" y="395.9" font-size="8.8" text-anchor="middle" fill="#222">Fibrosis score</text>
<text x="381.7" y="413.6" font-size="8.6" text-anchor="middle" fill="#222">AAV8-GFP</text>
<text x="449.9" y="413.6" font-size="8.6" text-anchor="middle" fill="#222">AAV8-AGXT</text>
<text x="506.3" y="413.6" font-size="8.7" text-anchor="middle" fill="#222"><tspan font-style="italic">P</tspan> value</text>
<text x="381.7" y="431.6" font-size="8.6" text-anchor="middle" fill="#222">1.88 ± 0.12</text>
<text x="449.9" y="431.6" font-size="8.6" text-anchor="middle" fill="#222">0.92 ± 0.27</text>
<text x="506.3" y="431.6" font-size="8.7" text-anchor="middle" fill="#222">0.0041*</text>
<text x="570" y="372.3" font-size="12.5" font-weight="bold" fill="#000" stroke="#000" stroke-width="0.35">f</text>
<line x1="605.4" y1="380.6" x2="605.4" y2="450.3" stroke="#8a8a8a" stroke-width="0.8"/>
<line x1="602.2" y1="449.9" x2="685" y2="449.9" stroke="#8a8a8a" stroke-width="0.8"/>
<line x1="602.2" y1="449.9" x2="605.4" y2="449.9" stroke="#8a8a8a" stroke-width="0.8"/>
<text x="599.4" y="452.7" font-size="8" text-anchor="end" fill="#222">0</text>
<line x1="602.2" y1="436.04" x2="605.4" y2="436.04" stroke="#8a8a8a" stroke-width="0.8"/>
<text x="599.4" y="438.84" font-size="8" text-anchor="end" fill="#222">2</text>
<line x1="602.2" y1="422.18" x2="605.4" y2="422.18" stroke="#8a8a8a" stroke-width="0.8"/>
<text x="599.4" y="424.98" font-size="8" text-anchor="end" fill="#222">4</text>
<line x1="602.2" y1="408.32" x2="605.4" y2="408.32" stroke="#8a8a8a" stroke-width="0.8"/>
<text x="599.4" y="411.12" font-size="8" text-anchor="end" fill="#222">6</text>
<line x1="602.2" y1="394.46" x2="605.4" y2="394.46" stroke="#8a8a8a" stroke-width="0.8"/>
<text x="599.4" y="397.26" font-size="8" text-anchor="end" fill="#222">8</text>
<line x1="602.2" y1="380.6" x2="605.4" y2="380.6" stroke="#8a8a8a" stroke-width="0.8"/>
<text x="599.4" y="383.4" font-size="8" text-anchor="end" fill="#222">10</text>
<rect x="617.7" y="423.8" width="23.4" height="26.1" fill="#FF0000" stroke="#000" stroke-width="0.9"/>
<rect x="648.3" y="436.7" width="23.4" height="13.2" fill="#0000FF" stroke="#000" stroke-width="0.9"/>
<line x1="629.4" y1="449.9" x2="629.4" y2="452.9" stroke="#8a8a8a" stroke-width="0.8"/>
<line x1="660" y1="449.9" x2="660" y2="452.9" stroke="#8a8a8a" stroke-width="0.8"/>
<line x1="629.4" y1="418.3" x2="629.4" y2="428.7" stroke="#000" stroke-width="0.9"/>
<line x1="626.9" y1="418.3" x2="631.9" y2="418.3" stroke="#000" stroke-width="0.9"/>
<line x1="626.9" y1="428.7" x2="631.9" y2="428.7" stroke="#000" stroke-width="0.9"/>
<line x1="660" y1="434.3" x2="660" y2="438.2" stroke="#000" stroke-width="0.9"/>
<line x1="657.5" y1="434.3" x2="662.5" y2="434.3" stroke="#000" stroke-width="0.9"/>
<line x1="657.5" y1="438.2" x2="662.5" y2="438.2" stroke="#000" stroke-width="0.9"/>
<g fill="#fff" stroke="#000" stroke-width="0.9">
<circle cx="629.4" cy="396" r="1.55"/>
<circle cx="629.4" cy="416" r="1.55"/>
<circle cx="629.4" cy="424.7" r="1.55"/>
<circle cx="618.9" cy="430.3" r="1.55"/>
<circle cx="624" cy="427.9" r="1.55"/>
<circle cx="629.4" cy="430" r="1.55"/>
<circle cx="634.8" cy="428.4" r="1.55"/>
<circle cx="639.9" cy="430.6" r="1.55"/>
<circle cx="653.5" cy="433" r="1.55"/>
<circle cx="659.8" cy="434.3" r="1.55"/>
<circle cx="666.5" cy="433.8" r="1.55"/>
<circle cx="653.5" cy="440.6" r="1.55"/>
<circle cx="659.8" cy="437.9" r="1.55"/>
<circle cx="666.5" cy="438.7" r="1.55"/>
</g>
<path d="M628.8 389.7V384.4H660.3V425.2" fill="none" stroke="#8a8a8a" stroke-width="0.8"/>
<text x="644.7" y="380.3" font-size="7.5" text-anchor="middle" fill="#222"><tspan font-style="italic">P</tspan> = 0.0007</text>
<text x="592.6" y="463.3" font-size="8" fill="#222">AAV8:</text>
<text x="629.4" y="463.3" font-size="8" text-anchor="middle" fill="#222">GFP</text>
<text x="660" y="463.3" font-size="8" text-anchor="middle" fill="#222">AGXT</text>
<text x="574.6" y="414.3" font-size="9.4" text-anchor="middle" fill="#222" transform="rotate(-90 574.6 414.3)">Hydroxyproline</text>
<text x="585" y="415.5" font-size="9.2" text-anchor="middle" fill="#222" transform="rotate(-90 585 415.5)">(µg mg<tspan font-size="5.8" dy="-3">−1</tspan><tspan dy="3"> protein)</tspan></text>
<text x="339.8" y="506.3" font-size="12.5" font-weight="bold" fill="#000" stroke="#000" stroke-width="0.35">g</text>
<text x="432.5" y="513.2" font-size="8.4"><tspan fill="#ff1a1a">SMA</tspan><tspan fill="#111">/</tspan><tspan fill="#2020ff">DAPI</tspan></text>
<text x="398.3" y="607.6" font-size="8.3" text-anchor="middle" fill="#222">AAV8-GFP</text>
<text x="508" y="607.6" font-size="8.3" text-anchor="middle" fill="#222">AAV8-AGXT</text>
<defs>
<filter id="dapi" x="0" y="0" width="100%" height="100%" color-interpolation-filters="sRGB"><feTurbulence type="fractalNoise" baseFrequency="0.62" numOctaves="2" seed="7"/><feColorMatrix type="matrix" values="0 0 0 0 0.09  0 0 0 0 0.05  0 0 0 0 0.82  0 0 3.4 0 -1.6"/></filter>
<filter id="sma" x="0" y="0" width="100%" height="100%" color-interpolation-filters="sRGB"><feTurbulence type="fractalNoise" baseFrequency="0.8" numOctaves="2" seed="19"/><feColorMatrix type="matrix" values="0 0 0 0 0.72  0 0 0 0 0.03  0 0 0 0 0.34  0 3.4 0 0 -1.62"/></filter>
<filter id="bl2" x="-10%" y="-10%" width="120%" height="120%"><feGaussianBlur stdDeviation="0.5"/></filter>
<radialGradient id="m1" cx="0.78" cy="0.45" r="0.6"><stop offset="0" stop-color="#fff"/><stop offset="0.55" stop-color="#aaa"/><stop offset="1" stop-color="#000"/></radialGradient>
<filter id="mb" x="-20%" y="-20%" width="140%" height="140%"><feGaussianBlur stdDeviation="5"/></filter><mask id="mk1"><rect x="340" y="510" width="120" height="95" fill="#000"/><g filter="url(#mb)"><polygon points="380,512 460,512 460,604 404,604 412,574" fill="#b0b0b0"/><circle cx="428" cy="545" r="20" fill="#e0e0e0"/></g></mask>
<radialGradient id="m2" cx="0.98" cy="0.85" r="0.45"><stop offset="0" stop-color="#ddd"/><stop offset="0.6" stop-color="#444"/><stop offset="1" stop-color="#111"/></radialGradient>
<mask id="mk2"><rect x="454" y="517" width="108" height="81" fill="url(#m2)"/></mask>
<radialGradient id="h1" cx="0.78" cy="0.45" r="0.6"><stop offset="0" stop-color="#900850" stop-opacity="0.30"/><stop offset="0.6" stop-color="#600850" stop-opacity="0.15"/><stop offset="1" stop-color="#400060" stop-opacity="0"/></radialGradient>
<clipPath id="g1"><rect x="344.5" y="517.9" width="107.5" height="79.4"/></clipPath>
<clipPath id="g2"><rect x="454.7" y="517.9" width="106.6" height="79.4"/></clipPath>
</defs>
<g clip-path="url(#g1)">
<rect x="344.5" y="517.9" width="107.5" height="79.4" fill="#04011c"/>
<rect x="344.5" y="517.9" width="107.5" height="79.4" fill="url(#h1)"/>
<rect x="344.5" y="517.9" width="107.5" height="79.4" filter="url(#dapi)"/>
<g mask="url(#mk1)"><rect x="344.5" y="517.9" width="107.5" height="79.4" filter="url(#sma)"/></g>
<g fill="none" stroke-linecap="round" filter="url(#bl2)"><path d="M366 519 C376 530 388 540 398 552 C402 558 406 565 409 570" stroke="#c0204a" stroke-width="0.7" stroke-opacity="0.65"/><path d="M376 524 C382 533 390 541 396 547" stroke="#03010f" stroke-width="1.6"/><path d="M396 548 C400 555 404 562 408 568" stroke="#ff4a8a" stroke-width="0.9"/><path d="M375 548 C380 549 386 549 390 548" stroke="#c0204a" stroke-width="0.8"/><path d="M360 590 C364 592 368 594 371 597" stroke="#c0204a" stroke-width="0.8"/></g>
<path d="M446 518 L452 518 L452 535 C450 528 448 522 446 518Z" fill="#000"/>
</g>
<g clip-path="url(#g2)">
<rect x="454.7" y="517.9" width="106.6" height="79.4" fill="#04011c"/>
<rect x="454.7" y="517.9" width="106.6" height="79.4" filter="url(#dapi)"/>
<g mask="url(#mk2)"><rect x="454.7" y="517.9" width="106.6" height="79.4" filter="url(#sma)"/></g>
<g fill="none" stroke-linecap="round" filter="url(#bl2)"><path d="M484 551 C487 546 496 545 505 543 C500 548 492 554 486 556 C484 556 483 554 484 551Z" fill="#040118" stroke="none"/><path d="M486 556 C494 555 504 549 510 543 C512 541 514 539 515 537" stroke="#ff3040" stroke-width="1.2"/><path d="M490 549 C495 548 500 546 504 544" stroke="#d02050" stroke-width="0.8"/><path d="M456 546 C456 549 455 552 455 555" stroke="#e04040" stroke-width="1"/><path d="M529 524 C530 523 531 522 532 521" stroke="#d03040" stroke-width="1"/><path d="M474 560 L475 563" stroke="#d03040" stroke-width="0.9"/></g>
</g>
<rect x="430.2" y="592" width="19.8" height="2.8" fill="#fff"/>
<rect x="539.1" y="592" width="19.9" height="2.8" fill="#fff"/>
<text x="587.2" y="508.1" font-size="12.5" font-weight="bold" fill="#000" stroke="#000" stroke-width="0.35">h</text>
<line x1="613.3" y1="530.5" x2="613.3" y2="593.5" stroke="#8a8a8a" stroke-width="0.8"/>
<line x1="610.1" y1="593.1" x2="685" y2="593.1" stroke="#8a8a8a" stroke-width="0.8"/>
<line x1="610.1" y1="593.1" x2="613.3" y2="593.1" stroke="#8a8a8a" stroke-width="0.8"/>
<text x="607" y="595.9" font-size="8" text-anchor="end" fill="#222">0</text>
<line x1="610.1" y1="572.24" x2="613.3" y2="572.24" stroke="#8a8a8a" stroke-width="0.8"/>
<text x="607" y="575.04" font-size="8" text-anchor="end" fill="#222">2</text>
<line x1="610.1" y1="551.38" x2="613.3" y2="551.38" stroke="#8a8a8a" stroke-width="0.8"/>
<text x="607" y="554.18" font-size="8" text-anchor="end" fill="#222">4</text>
<line x1="610.1" y1="530.52" x2="613.3" y2="530.52" stroke="#8a8a8a" stroke-width="0.8"/>
<text x="607" y="533.32" font-size="8" text-anchor="end" fill="#222">6</text>
<rect x="625.5" y="566.4" width="23.1" height="26.7" fill="#FF0000" stroke="#000" stroke-width="0.9"/>
<rect x="655.5" y="586.3" width="23.1" height="6.8" fill="#0000FF" stroke="#000" stroke-width="0.9"/>
<line x1="637.1" y1="593.1" x2="637.1" y2="596.1" stroke="#8a8a8a" stroke-width="0.8"/>
<line x1="667" y1="593.1" x2="667" y2="596.1" stroke="#8a8a8a" stroke-width="0.8"/>
<line x1="637.1" y1="559.1" x2="637.1" y2="571.9" stroke="#000" stroke-width="0.9"/>
<line x1="634.35" y1="559.1" x2="639.85" y2="559.1" stroke="#000" stroke-width="0.9"/>
<line x1="634.35" y1="571.9" x2="639.85" y2="571.9" stroke="#000" stroke-width="0.9"/>
<line x1="667" y1="583" x2="667" y2="588.6" stroke="#000" stroke-width="0.9"/>
<line x1="664.5" y1="583" x2="669.5" y2="583" stroke="#000" stroke-width="0.9"/>
<line x1="664.5" y1="588.6" x2="669.5" y2="588.6" stroke="#000" stroke-width="0.9"/>
<g fill="#fff" stroke="#000" stroke-width="0.9">
<circle cx="637.1" cy="536.1" r="1.4"/>
<circle cx="637.1" cy="541.9" r="1.4"/>
<circle cx="637.1" cy="556" r="1.4"/>
<circle cx="631.2" cy="572.7" r="1.4"/>
<circle cx="637.1" cy="571.1" r="1.4"/>
<circle cx="642.8" cy="573.2" r="1.4"/>
<circle cx="634" cy="588.6" r="1.4"/>
<circle cx="639.9" cy="588.1" r="1.4"/>
<circle cx="664.1" cy="581" r="1.4"/>
<circle cx="669.9" cy="579" r="1.4"/>
<circle cx="672.6" cy="585.9" r="1.4"/>
<circle cx="661.1" cy="590.2" r="1.4"/>
<circle cx="667" cy="588.9" r="1.4"/>
<circle cx="672.9" cy="589.1" r="1.4"/>
</g>
<path d="M636.3 530.5V525.2H666.7V574.6" fill="none" stroke="#8a8a8a" stroke-width="0.8"/>
<text x="651.5" y="521.6" font-size="7.5" text-anchor="middle" fill="#222"><tspan font-style="italic">P</tspan> = 0.0034</text>
<text x="600.6" y="606.5" font-size="8" fill="#222">AAV8:</text>
<text x="637.1" y="606.5" font-size="8" text-anchor="middle" fill="#222">GFP</text>
<text x="666.5" y="606.5" font-size="8" text-anchor="middle" fill="#222">AGXT</text>
<text x="594.4" y="562" font-size="8.6" text-anchor="middle" fill="#222" transform="rotate(-90 594.4 562)">Percentage (+) SMA</text>
</svg>
</body></html>
